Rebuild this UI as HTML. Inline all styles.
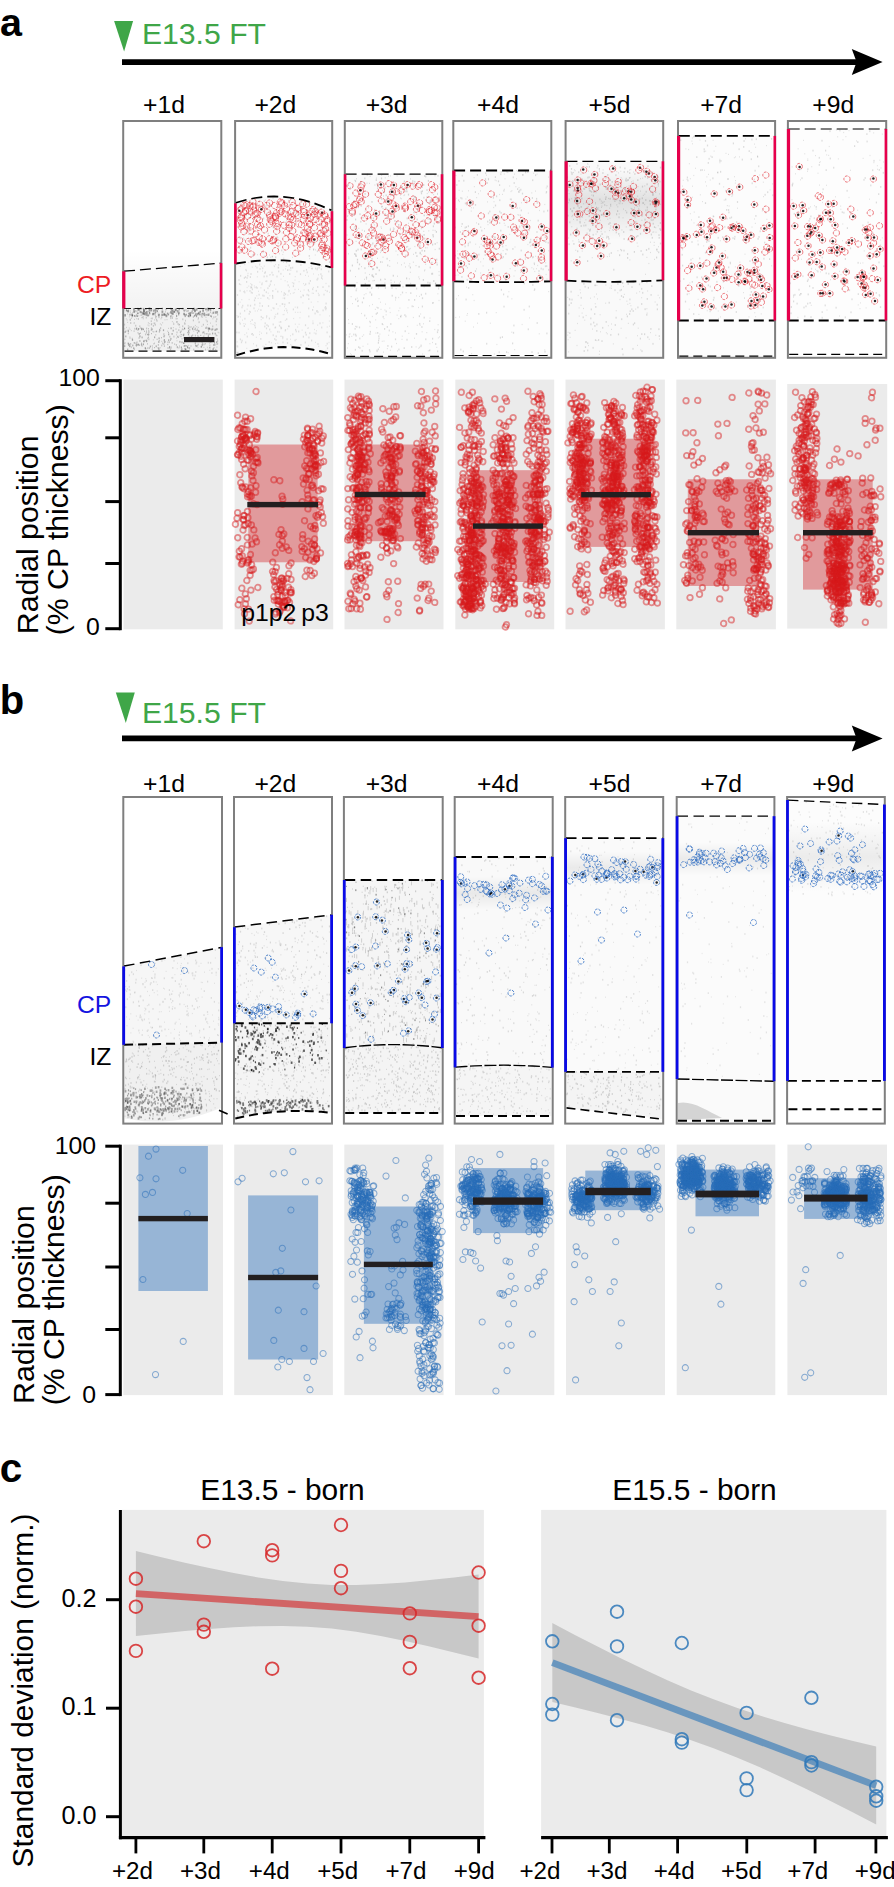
<!DOCTYPE html>
<html lang="en"><head><meta charset="utf-8"><title>Radial position of E13.5- and E15.5-born neurons</title>
<style>html,body{margin:0;padding:0;background:#fff}body{width:894px;height:1887px;overflow:hidden}svg{display:block}text{font-family:"Liberation Sans", sans-serif}polyline{fill:none;stroke:none}.pr{marker:url(#pr)}.pb{marker:url(#pb)}.cr{marker:url(#cr)}.cb{marker:url(#cb)}.bl{marker:url(#bl)}.s1{marker:url(#s1)}.s2{marker:url(#s2)}.s3{marker:url(#s3)}.s4{marker:url(#s4)}</style></head><body>
<svg width="894" height="1887" viewBox="0 0 894 1887">
<defs><linearGradient id="fadeA" x1="0" y1="0" x2="0" y2="1"><stop offset="0" stop-color="#000" stop-opacity="0"/><stop offset=".35" stop-color="#000" stop-opacity=".02"/><stop offset="1" stop-color="#000" stop-opacity=".05"/></linearGradient><linearGradient id="bandA" x1="0" y1="0" x2="0" y2="1"><stop offset="0" stop-color="#000" stop-opacity="0"/><stop offset=".45" stop-color="#000" stop-opacity=".1"/><stop offset="1" stop-color="#000" stop-opacity="0"/></linearGradient><linearGradient id="bandB" x1="0" y1="0" x2="0" y2="1"><stop offset="0" stop-color="#000" stop-opacity="0"/><stop offset=".5" stop-color="#000" stop-opacity=".065"/><stop offset="1" stop-color="#000" stop-opacity="0"/></linearGradient><marker id="pr" markerWidth="8" markerHeight="8" refX="4" refY="4" markerUnits="userSpaceOnUse" overflow="visible"><circle cx="4" cy="4" r="2.8" fill="none" stroke="#d7191c" stroke-opacity=".47" stroke-width="1.75"/></marker><marker id="pb" markerWidth="8" markerHeight="8" refX="4" refY="4" markerUnits="userSpaceOnUse" overflow="visible"><circle cx="4" cy="4" r="3.05" fill="none" stroke="#286eb9" stroke-opacity=".52" stroke-width="1.05"/></marker><marker id="cr" markerWidth="8" markerHeight="8" refX="4" refY="4" markerUnits="userSpaceOnUse" overflow="visible"><circle cx="4" cy="4" r="3.1" fill="none" stroke="#e0202a" stroke-opacity=".92" stroke-width=".68" stroke-dasharray="2.8 1.2"/></marker><marker id="cb" markerWidth="8" markerHeight="8" refX="4" refY="4" markerUnits="userSpaceOnUse" overflow="visible"><circle cx="4" cy="4" r="3" fill="none" stroke="#2767c0" stroke-opacity=".95" stroke-width=".8" stroke-dasharray="2.6 1.1"/></marker><marker id="bl" markerWidth="4" markerHeight="4" refX="2" refY="2" markerUnits="userSpaceOnUse" overflow="visible"><circle cx="2" cy="2" r="1.25" fill="#000" fill-opacity=".85"/></marker><marker id="s1" markerWidth="4" markerHeight="4" refX="2" refY="2" markerUnits="userSpaceOnUse" overflow="visible"><rect x="1.6" y="1.4" width=".8" height="1.2" fill="#000"/></marker><marker id="s2" markerWidth="4" markerHeight="4" refX="2" refY="2" markerUnits="userSpaceOnUse" overflow="visible"><rect x="1.4" y="1.1" width="1.2" height="1.8" fill="#000"/></marker><marker id="s3" markerWidth="4" markerHeight="4" refX="2" refY="2" markerUnits="userSpaceOnUse" overflow="visible"><rect x="1.1" y=".8" width="1.8" height="2.4" fill="#000"/></marker><marker id="s4" markerWidth="6" markerHeight="6" refX="3" refY="3" markerUnits="userSpaceOnUse" overflow="visible"><rect x="2.6" y=".8" width=".9" height="4.4" rx=".4" fill="#000"/></marker></defs>
<rect width="894" height="1887" fill="#fff"/>
<text x="0" y="36.4" font-size="39.5" font-weight="bold">a</text>
<path d="M114.1 21.1 h19 l-9 30.4z" fill="#3fa648"/>
<text x="141.9" y="44" font-size="30.2" fill="#3fa648">E13.5 FT</text>
<path d="M122 62.1 H858" stroke="#000" stroke-width="5.6" fill="none"/>
<path d="M882.6 62.1 L851.8 49.1 L856.6 62.1 L851.8 75.1z" fill="#000"/>
<text x="164" y="113.2" font-size="24.7" text-anchor="middle">+1d</text>
<text x="275.4" y="113.2" font-size="24.7" text-anchor="middle">+2d</text>
<text x="386.6" y="113.2" font-size="24.7" text-anchor="middle">+3d</text>
<text x="498" y="113.2" font-size="24.7" text-anchor="middle">+4d</text>
<text x="609.5" y="113.2" font-size="24.7" text-anchor="middle">+5d</text>
<text x="721.1" y="113.2" font-size="24.7" text-anchor="middle">+7d</text>
<text x="833.2" y="113.2" font-size="24.7" text-anchor="middle">+9d</text>
<g>
<rect x="122.2" y="120" width="100.1" height="238.8" fill="#fff"/>
<rect x="124.5" y="250" width="95.5" height="58.5" fill="url(#fadeA)"/>
<path d="M124.5 308.5L172.2 308.5L220 308.5L220 351.2L172.2 351.2L124.5 351.2z" fill="#000" fill-opacity="0.06"/>
<polyline class="s1" opacity="0.17" points="131.3,330.6 130,329.4 165.5,311.4 164.6,342.6 128.9,343.9 138.1,313.4 130.4,311 188.8,326.1 179.8,327.2 199.6,337.3 138.9,328.6 180.7,332.4 203.9,347.4 126.6,327.5 136.7,318.7 206.8,311.8 206.1,320 138.8,315.8 149.3,308.7 161.6,324.9 184.4,311.1 144.2,315.2 129.5,308.5 134.1,323.5 207.1,333.8 148.3,322.8 168.5,328.4 134.2,322.6 202.8,315.2 214.4,330.3 149.2,323.6 201.8,339 173.4,323.1 127.1,320 189.9,347.9 159,317.6 209.6,343.1 186.2,341.4 195.4,328.2 216.3,324.8 214,338.4 217.1,335.6 176.3,313.9 202.6,317.2 149,325.8 210.5,323.1 179.6,345.8 174,309.3 177,340.8 177.4,318.7 196.3,346.1 207.3,347.3 137.5,313.5 131.4,318.4 145.3,347.7 156.5,316.6 166.1,309.2 183.5,329.6 134.4,319.4 198.1,319.6 178.4,337.4 129.9,336.9 130.8,344 147,313 129.3,316.8 153.3,339.8 171.8,315.8 126.2,318.8 193.8,331.2 169.4,347 201.9,326.3 189.5,349 162.7,322.8 148.7,315.2 151.1,318.5 167.9,315 153.8,323.2 143.5,329.3 149.5,312.2 128.4,309.4 207.6,324.5 189,337.1 127.4,314 148.3,311.6 216.7,328.9 182.8,335 153.3,331.9 189.9,336.3 173.3,327.6 135.7,345.3 216.9,347.1 167,319.6 208.3,337.5 209.3,328.5 124.8,328.8 153,314.3 154.4,343.1 195.4,343.1 151.9,323.8 218.9,332.8 165,319.8 134.1,342.9 212.9,318.8 172.8,316.3 176.4,338.1 185.4,320.3 212.1,313.7 152.9,331.5 140.3,315.2 210.1,329 210.1,349.6 137.7,316.4 156.8,312.3 195.3,325.5 174,324 206,317.4 148,325 148,313 167.7,331.2 185.5,321 179.6,324.5 181.3,308.9 208,328.1 153.5,309.4 188.2,325.8 187.6,346.6 127.7,322.4 194.3,329.3 152.4,347.7 142.2,317.7 187.4,347.6 137.9,310.6 160.3,323.9 140.5,308.6 157.7,347.9 215.6,317 202.1,342.4 129.2,328 211.4,316.5 209.3,309.7 201.2,340.1 154.4,319.9 213.6,309.5 161,318.8 171.1,346.7 197.5,333.5 147.9,311.2 208,349.2 132.4,312.5 191.6,326.9 136,343.1 143.3,318.7 186.2,349.3 210.9,310.2 179.6,346.8 206.3,327 198,347.5 180.8,334 159.3,314.3 143.7,309 188.6,316.1 130.5,312.7 176.5,334.8 140,337.2 154,331.8 164.5,342.3 207.9,327.5 159.5,329.3 215.9,316.6 213.6,348.7 129.5,346.7 139.6,340.9 141.8,317.5 173.4,324.3 128.1,343 164.7,335.6 198.2,327.4 169.2,312.9 165.2,312.3 160.2,347.7 139.5,345.4 211.4,317.1 172.3,321.6 188.7,345.4 161.8,341.4 218.1,332.3 196.8,326.7 179.9,335.8 124.7,309.9 209.1,313.9 186.2,309.4 158,312.9"/>
<polyline class="s2" opacity="0.17" points="155.1,314.7 145.6,334.4 179,324.8 201.6,315.9 184.9,323.8 178.8,330.1 193.4,320.4 135.7,325.7 187.6,340 207.2,321.4 187.3,311 185.7,349.4 151.4,324.4 135.6,310.9 176.4,344.9 158.4,344.9 146.6,328.5 159.4,331.8 189.8,329.7 188.4,310.7 198.2,344.5 136.1,343.5 175.8,309.6 217,344.1 197.4,330.4 155.7,317.7 217.6,343.6 213,349.2 143.1,316.9 186.9,346 199.1,322.2 136.5,314.7 200.7,314.5 216.2,335.3 212.7,326.4 152.2,318.4 211.2,329.2 141.8,308.7 140.8,328 177.1,321.9 197.5,329.4 182.4,329.3 190,327.1 169.7,347.3 177.4,347.4 187.8,340.8 139.1,338 138,344.9 170.5,349.3 139.8,326.3 192.7,309.3 217.6,341 164.4,346.1 148.9,314.7 131.3,347.2 200.3,312 156.5,331.3 149.8,313.8 203.4,324.7 203.2,337.6 136.8,311.4 204,344.4 149.4,348.1 176.2,318.6 160.6,328.1 146.5,332.6 195.4,335.6 217.6,314.7 185.3,310.3 208.8,334.3 201.3,314.2 172.2,342.9 202.6,332.6 134.4,342.9 183.8,334.3 170.7,308.6 195.2,329.2 186.8,311.2 193.4,317 169.8,336.7 138.4,319 130.2,319.6 167.9,342.3 213.9,317.2 137.9,330.1 137,342.3 212,337.9 214.9,344.9 184.1,346.1 193.7,327.1 157,320.8 216.8,319.2 148.9,332 130.4,319.9 136.4,329.2 214.6,343.5 126.6,309.8 209.1,328 124.5,324.6 202.5,343.7 173.9,336.6 192.7,335.2 198.4,318.1 148.3,334.7 135.1,311.4 168,348 147.8,348.1 189,316.7 216.2,321.3 146.3,317.6 161.7,317.3 161.7,345.5 193.7,349.6 155.6,316.1 195,309.8 127.8,311.1 148.8,339.3 156.5,319.7 182.8,319.3 195.9,346.3 169.4,347.9 200.3,338.9 154.7,323.4 132,316.6 176.7,321.9 163.9,334.1 195.2,343.4 178.1,323.9 139,344.9 155.3,324.8 172.4,318 169.4,342.2 135.8,316.3 148.6,333.2 143.7,341.3 151.3,321.2 163.9,344.1 158.9,316.6 143.7,308.7 125.9,331.2 210.5,312.2 151.3,330 134.8,328.7 209.9,334.1 162.7,343.4 147.8,338.4 128.4,331.7 181.2,331.2 153.4,325.8 165.9,309.5 170.8,318.2 172.7,310.2 132.3,338.7 172.8,310.7 205.5,349.5 201.5,316.5 171,347.9 140.1,341 130.7,323 201.6,314.4 141.7,315.1 198.7,313.2 184.6,323.3 177,332.4 134.4,349.4 194.8,310.5 148.5,334.8 182.7,326.3"/>
<polyline class="s2" opacity="0.33" points="143.8,313.5 137.2,316 206.8,314.8 148,315.7 174.7,311.7 130,314.7 176.6,316 185.1,315 153.7,310.9 168.5,314.4 145.9,309.3 149.6,312.9 199,312.7 185.2,316.2 207.7,308.6 190.4,315.4 193,313.1 144.5,313.5 210.6,309.7 134.6,315.9 137.9,308.7 210.9,316.1 143.9,309.4 202.5,313.6 143.9,311.1 126.5,310.6 192.1,311.4 182.9,308.7 165.7,314.7 191.1,312.8 140.6,308.5 196.5,316.3 141.9,312.5 198.9,313.5 132.6,315.6 157.4,311.1 179.2,309.5 208.1,310.4 139.1,309.7 155.4,312.7 199.6,314.4 143,313.6 144,311.6 171.8,313.6 137.9,313.3 194.5,315.8 178.7,314.5 188.7,313.6 154.1,313.5 184,310.5 167.5,313.5 188.3,315.9 186.3,314.7 170.8,316.3 213.4,312.7 144.4,314 158.1,309 162.3,308.6 164.2,314.1 213.3,312.7 200.2,311.6"/>
<polyline class="s3" opacity="0.33" points="145.7,313.2 138.6,309.3 149.5,308.6 177.6,311.3 166.4,316 143.4,313.4 208.5,314.8 125.1,315.3 128.2,311.2 190.2,315.3 146.8,314.5 195,311.1 155.5,310.4 184.1,314 217,312.3 190,313.6 194.1,309 158.8,315 208.7,309 204.6,315 133.9,309.3 215.6,312.5 206,309.2 170.9,312.4 203.1,310.6 151.3,310.2 171.6,309.4 132.1,314.8 162.4,311.7 144,310.6 171.9,311.5 146.6,312.2 195.8,314.5 204.2,313.8 140.5,312 153,314.1 155.5,310 193.4,309.3 134.1,311.6 162.2,314.8 146.1,314.3 197.6,314.1 164.2,314.8 175.8,309.8 178.8,312.8 172.9,313.6 173.8,311.8 196.6,309.5 149.6,310.3"/>
<polyline class="s1" opacity="0.28" points="145.9,348.9 136.3,346.1 204.9,333.8 148.5,337.2 124.8,343.7 147.6,334.5 184.3,328.3 214.4,342.2 134.1,331.1 197.9,335.5 209.9,345.2 174.7,344.1 207.9,340 146.6,331 130,338.1 203.9,336.1 189,348.2 217.3,339.1 197.3,332.6 152.2,346 155.8,334.9 176,329.1 167.8,344.6 210.9,342.2 148.9,334.6 178.9,347.9 213.1,349.3 144.6,331.3 125,342.8 147.4,343.9 205.3,343.8 183.9,343.4 192.3,328.2 186,345.7 153.9,343.8 205.9,338.6 159.2,340.5 191,346 181.3,334.7 151.3,328 189.2,347.8 168.5,332.5 195.5,345.2 208.1,339.3 180.2,332.1 141.6,343.2 157.1,339.3 170.5,340.3 148.5,328.8 141.6,329.8 177.2,346.9 214,347.7 181,336.6 161.6,337.7 215.8,349.5 128.2,333.6 185.6,349.4 196.1,330.3 148.8,330.7 140.4,333.2 208.5,331 183.9,337.8 138,332.8 191.9,340 206.8,333.8 156.1,331.6 154.6,347.6 187.7,332.6 151.5,333.6 211.9,330.1 152.2,349.2 200.8,335.4 145.1,340.4 143.1,329.7 182,338.8 201.2,340.6 130.7,343.9 169.5,346.9 142.1,346 124.9,339.3 201.7,346.8"/>
<polyline class="s2" opacity="0.28" points="136.7,344.9 184.4,338.2 184.9,345.8 168.7,334.4 165,341.8 158.7,348.2 129.9,346 198.6,331 208.7,341.2 187.7,347.4 203.8,332.3 170.9,338.8 206,328.1 168.7,340.2 215.3,329.6 184.6,328.6 209.3,328.7 183.6,335.3 159.1,338.3 164.4,340 172.1,333.9 216.6,342.2 179.9,341.8 128.3,343.7 125.1,332.1 182,342.3 210.5,341.3 183.7,343.1 188.9,332.6 141.6,328.8 202.2,345.1 154.6,337.3 212.7,329.2 128.2,330.6 125.8,336.4 163.5,330.2 215.8,329.9 136.7,328.4 129.2,344.8 212.6,333.5 188.5,331.1 158.8,342 164,336.4 213.8,345 152.1,329.3 181.8,349.2 208.4,336.2 181.4,347.4 164.4,340.7 208.4,328.9 201.2,346.8 150.4,346.5 132.5,340 143.4,344.3 146.6,341.2 132.8,345.5 146.5,340.6 177.8,336.7 138.6,329 159.8,330.3 198.9,331.4 127.7,349.5 198.1,337.2 197,345.8 215.2,333.6 185,348.8 209.8,347.6 128.9,345.1 138.2,344.4 188.5,334.5 188.5,328.3 142.9,328.8 145.3,348.3 133.7,348.2 202.3,338.4 139.2,333.9 217,329.2 158.9,349.5 209.2,329.2 124.7,346.1 142.1,337.4 141.5,344.7 144,341.3 192.7,329.2 156.2,346.3 171.1,328.3 139.9,336.1 173.2,330.6 191.7,336.3"/>
<rect x="123.2" y="121" width="98.1" height="236.8" fill="none" stroke="#7f7f7f" stroke-width="2.0"/>
<path d="M124 271.2L220.5 263.2" stroke="#000" stroke-width="1.3" stroke-dasharray="11 5" fill="none"/>
<path d="M124 308.5L220.5 308.5" stroke="#000" stroke-width="0.9" stroke-dasharray="7 3.5" fill="none"/>
<path d="M124.5 351.2L220 351.2" stroke="#000" stroke-width="1.2" stroke-dasharray="9 5" fill="none"/>
<rect x="122.2" y="271.3" width="3.2" height="37.2" fill="#e6004c"/>
<rect x="219.7" y="263.1" width="2.6" height="45.4" fill="#e6004c"/>
</g>
<g>
<rect x="234.1" y="120" width="99.1" height="238.8" fill="#fff"/>
<path d="M236.4 202.5L244.3 200.3L252.2 198.5L260 197.3L267.9 196.6L275.8 196.4L283.6 196.8L291.5 197.7L299.4 199.1L307.3 201.1L315.1 203.5L323 206.5L330.9 210.1L330.9 267.3L323 265.5L315.1 263.9L307.3 262.6L299.4 261.6L291.5 260.9L283.6 260.4L275.8 260.2L267.9 260.3L260 260.7L252.2 261.3L244.3 262.2L236.4 263.4z" fill="#000" fill-opacity="0.02"/>
<path d="M236.4 263.4L244.3 262.2L252.2 261.3L260 260.7L267.9 260.3L275.8 260.2L283.6 260.4L291.5 260.9L299.4 261.6L307.3 262.6L315.1 263.9L323 265.5L330.9 267.3L330.9 354.1L323 351.9L315.1 350.1L307.3 348.7L299.4 347.8L291.5 347.2L283.6 347.1L275.8 347.4L267.9 348.1L260 349.3L252.2 350.8L244.3 352.8L236.4 355.2z" fill="#000" fill-opacity="0.025"/>
<polyline class="s1" opacity="0.1" points="257.3,276.8 259.8,331.9 245.4,324.2 285.3,320.3 317.7,325.1 262.5,271.1 309,291.5 326,345.6 275.9,314.4 286,266.4 283.6,262.2 261.2,319.6 259.8,306 325.3,290.4 325.8,309.8 280,305.9 248,273.4 274.4,284.9 255.2,323.3 287.6,312.7 265.4,281.3 258.7,309.3 263,346.2 308.6,276.2 317.9,301.7 305.5,275.4 293.2,293.2 279.2,322.1 272.9,307.9 283.1,298.2 326,283.5 321.5,266.1 285.5,268.9 318.7,346.3 313.6,307 329,342.5 283.6,276.4 295.3,312.3 329.3,321.1 274.9,327.8 301,262.1 329.6,315.9 246.4,270.8 311.8,268.6 269.5,274.9 269,299.1 281.7,328 252.6,292.8 247.1,309.2 274.1,265.8 313.6,293.4 254.3,286 239.7,322.5 251,323.7 261.6,333.2 271.6,342.7 325.3,308.9 256.3,337.3 284.4,306.6 289.5,287.1 266.4,317.7 264.2,266.1 248.8,286.1 299.9,317.8 259.6,334.5 295.2,276.6 240.2,266.4 254.9,287.6 303.4,283.6 300.4,291.3 314.4,329.5 240.8,284.6 248.3,329.2 302.1,330.1 287.3,281.8 269.9,295.7 299.1,281.7 249.7,311.3 247.1,287.5 255.7,266.3 254.8,322.6 247,290.7 270.3,274.7 289.1,269.9 259.9,282.1 315.5,342.4 270.9,331.8 324.8,307.9 243.9,323.6 277.8,343.2 240.1,302.2 316.4,330.8 275.8,289.2 251.8,287.4 289.1,290.3 244.4,291 271.2,310.2 286,308.6 257.6,310.9 284.4,310.5 274.6,266.5 289,326.5 309,267.7 313.6,274 240.5,316.9 287.7,328.9 322.9,322.8 290.8,270.4 246.7,333 325.1,267.1 311.2,266.2 312.9,321 243.5,291.7 320,314.8 252.3,293.1 290.4,293.7 237,315.6 325.9,350.5 284,314.5 287.9,295.1 281.4,291.7 258.4,291.3 237.1,341.9 278.1,308.9 252.2,267.1 290.9,267.6 290.7,344.6 262.2,282.9 256.8,295.8 318.3,293.4 296.2,339.5 274.3,318.5 241.8,299.6 295,289.5 292.3,282.7 304.1,290 244.8,334.6 297.9,312.4 307.8,328.3 308.6,345.5 248.7,262.5 297.7,327 244.8,264.6 253.4,343.8 322.6,279.1 283.1,314.6 311.2,302.2 242.5,320.1 295,280.1 260.9,298.4 264.3,346.6 313.3,287.5 281.8,336.3 300.2,312.3 290.6,335.7 329.4,292.3 246.8,348.4 258.1,298.4 238.3,352.3 318.5,274.8 249.1,299.5 283.2,270 282.8,338.7 304.8,285.4 261.1,266.6 303.5,295.9 275.6,343.6 272.4,295.5 271.6,280.9 265.9,344.4 291.8,345.3 295.3,324.2 293.7,318.5 295.2,307.2 281,279.2 285.7,329.7 252.5,333.6 317.5,268 314.2,333 250.8,283.6 278.7,267.8 329.6,326.2 250.4,321.5 285.1,280.7 268.2,293.2 255.2,311 253.1,324.4 294.2,292.6 312.2,293.2 290.5,339.3 327.2,327 298.6,289.4 238.8,316.3 279.6,332 280.7,336.3 299.1,324.3 308.3,327.9 302.9,302.9 237,352.5 260.9,287.8 275.7,264.6"/>
<polyline class="s2" opacity="0.1" points="242.1,340.6 282.7,304.1 286.6,262.3 238.1,317.1 247.9,305.5 249.2,313.9 250.2,312.1 251.8,334.1 272.7,296.3 285.5,294.2 267.7,297.9 311.6,340.5 315.7,268.5 327.1,332.4 295.6,329.8 319.1,267.6 287.1,339.2 296.9,271.5 244.6,310.8 293.4,309.4 284.3,293.1 237.5,295 272.7,298 246.6,281.9 269.4,318.5 315.9,333.6 305.5,325.2 280.8,327.3 321.9,276 236.8,332.4 283,342.4 275.5,327.4 266.5,328.4 264.8,273 290.8,268.3 266.7,333.2 289.2,302.9 308.7,308.4 284.8,304.5 272.8,290.9 269.2,342 273.9,308.4 277.6,313.7 268.5,306 252.4,289.3 320,323.3 251,287 315.1,313.5 254.8,304.7 261.3,316.8 247.8,275.7 285.3,330.5 308.4,290.1 245.7,342.4 241.5,342.3 326.1,303.5 259.7,264.5 316.3,290.8 312.7,289.2 326.2,308.3 259.1,294.7 257.1,287.9 327.2,291.2 277.8,331.8 251.3,292.5 278.7,271.4 260.8,338.9 270.8,281.4 308.6,295.4 244.4,278 288.9,291.4 257.6,271.8 262.8,295.5 308.9,337.5 275,316.7 321.7,327.5 240.1,290.7 253.2,335 240.4,339.4 310.4,280.9 306.5,269.8 273.2,324.4 262.7,268.3 276,339.9 305.5,332.6 278.7,264.9 276.5,304.1 287.5,343 265.4,272.2 284.6,298.3 269.3,286.1 312.6,309.9 252.2,320 279.5,325.7 237.4,352.7 244.3,326.1 277,276.5 237.2,346.2 295.1,340.4 239,332.6 264.1,276.5 309.8,333.2 266.9,276.3 266.3,292.2 240.3,313.6 313,323.3 251.1,287.8 304,262.4 262.9,317.9 298.7,331.5 327.2,343.7 327.5,348.3 312.2,268.5 293.4,286.2 325.5,306.9 264.4,290.2 239,280 278.2,267.5 247.1,277.9 287.6,270.1 260.1,268.9 259.9,303.3 317.1,310.9 307.2,272.3 303.9,270.8 273,274.9 271.2,261.5 256.3,287.2 276.2,336.3 317.9,312.1 317.8,278.6 268.3,326.2 305.3,342.5 254.5,300.3 288.2,285.3 272,272.6 286.7,319.2 250.5,305.7 280.9,273.8 273.2,335.2 238.3,304.4 240.6,275.8 261.9,284.3 260.9,310.1 288.8,326.2 308.8,316.4 270.3,284.5 318,344 264.8,326.5 267.9,288.2 265.2,323.3 324,294.6 308.8,299.1 242.7,305.7 251.8,284.9 292.8,334.3 254.8,325.4 292.6,267.7 254,308.3 267,325.1 237.7,346.6 328.7,271.5 251,274 286.8,310.6 305.7,284.2 262.4,306 328.9,286.3 242,307.4 250.4,277.1 309.2,283.4 320.9,274.2 317.2,269.4 274.7,339 255.4,327.5 289.7,274 317.7,287 319,295.2 317.1,279.7 321.6,278 245.5,277.1 244.8,292.4 303.4,336.7 239.5,284 300.9,265 300.5,274.2 256.5,345.6 284,295.2 270.3,261.1 297.5,307.5 300.9,344.9 329.7,267.5 323,287.1 247.3,336.6 321.3,269.3 266.7,316.2 306.2,334.7 303,295.3 293.7,283.5 280.7,321.9 323.1,310.4 296.3,331.4 269.7,329.5 281.1,328.4 266.7,281.2 244.9,318.7 255.3,298.1 277.8,291.6 264,295.8 307.1,294.7 282.8,337.2 282.3,304 240.2,323.8 257,267.6 245.9,269.8 289.2,265.4 301,297.2 329.7,336.6 250,291 316.7,311.3"/>
<polyline class="s1" opacity="0.12" points="260.4,209.7 286.6,220.2 282.1,233 288.4,200.4 278,251.1 277,236.3 299.5,217.1 255.7,204.1 309.7,258.5 300.5,208.8 266.2,231.5 273,198.5 276.6,238.7 282.8,254.5 287,202.6 257.6,254.7 292.4,257.4 324.7,244.7 267.5,224.6 292.1,226.2 248.7,234.4 271.4,237.7 252.3,256.2 315.2,255 247.4,228 286.5,228.5 254.9,222.9 283.3,252.1 289.7,240 306.5,210.1 263.7,252.2 309.7,244.2 279.6,253.8 324.3,230.6 299.9,208.4 249.5,211.1 310.4,230.6 315.5,249.9 303.5,221.2 311.4,237.4 258.1,209.8 300.5,242.6 324.4,254.3 310.5,202.3 275.5,234.1 267.8,209.9 315.4,240 247.7,241 313.3,213.8 325.9,228.4 283.8,258.2 278.9,246.9 317,234.3 243.5,238.1 299.7,254.5 270.4,257.3 304.5,245.6 290.3,200.4 306.3,239.4 311.7,242.6 313.6,249.9 251.6,243.8 265.6,200.1 254.9,217.8 246.5,215.5 272.4,256.4 255.5,253.9 306.8,217.5 322.2,236.7 269.5,255 306.9,241.7 311.9,209.1"/>
<polyline class="s2" opacity="0.12" points="317.4,251.2 311.3,214.2 286.2,222.4 266.7,213.7 263.7,241 291.8,225.8 317.1,208.4 253.2,254.9 311.3,231.9 314.8,212 298,214.6 301.4,202.1 263.9,211.3 321.7,224.7 250.6,247.7 296.3,212.2 245.2,228.2 313.9,210.3 329.5,262.1 263.6,218.5 281.7,250.4 261.8,252.4 305.8,211.4 264.3,201.2 245.3,233.4 284.4,202.9 250.3,204.6 247.3,229.7 248.3,213.9 324.6,235.1 239.3,225.2 290.5,212 259.4,234.4 240.3,238.4 312.6,222.9 244.6,215 267.4,257.3 309.3,255.9 295.9,210.6 326.7,246.2 249,249.7 321,248.8 313.6,249.4 264.4,256.5 324.8,213.9 310,216.9 258.5,227.9 309.7,249.2 244.5,239.7 268.2,233.6 237.9,208.6 244.6,216.6 277.7,237.6 319.6,240.6 273.3,227.5 314.1,212.7 236.4,212.9 269.3,202.8 323.2,257.9 326,228.4 295.5,221.4 314.5,243.6 278.3,243.2 266.8,205.2 319.7,213.6 307.7,218.6 275.7,257.3 326.4,248.3 262.3,207.1 249.5,230.5 272.2,256.7 253.9,217.2 314.7,240.9 265.8,206.2 280.4,231.3 295.3,214.3 240.3,250.9 259.2,201.7"/>
<polyline class="bl" points="314.2,239.5 239.3,210.8 307.7,214.9 322.1,212.7 309,239.6 261.4,209.3"/>
<polyline class="cr" points="296.5,239.8 269.6,224.3 286.5,232.3 283.8,225.3 309.2,236.3 305.2,233.2 292.8,230.9 310.4,244 239.7,240.2 288.5,216 258.7,242.3 241.9,246.9 291.2,216.8 327.5,250.8 281.7,203.8 269.6,215.2 285.1,213.8 289,224.8 303.3,238.8 327.1,219.5 253,206.6 241.3,227 251.2,254 280.4,201.8 294.7,242.9 248.6,241.4 295.7,253.2 281.1,211.7 300.6,248.1 259.6,208.3 242.8,226 258.8,227.5 253,205.8 255.9,213.7 239.6,250 274.5,205.5 279.9,213.3 325.8,250.4 314.5,214.4 293.1,205.4 275.5,216.5 302.8,203.8 270.2,217.1 321.9,249.8 241.3,208.9 309.7,224.4 324.9,215 275.5,217.7 255,214.7 261.4,243 291.7,225 245.3,205.8 325.2,253.5 300.4,244.2 313.1,209.5 298.8,223.9 297.9,208.5 259.2,237.2 264.6,229.9 273.4,218.1 298.1,208.2 247.7,216.3 249.9,205.6 245.7,211.5 315.3,211.4 315.9,219.6 279.5,210.2 326.5,256.9 241.6,223.1 292.9,219.4 315.3,236.2 319.2,213.9 291,236.5 327.9,233.3 241.4,216.9 289.1,228.2 317.9,215.2 275.6,250.6 244,205.1 276.6,212.7 249.7,211.1 324.6,224.2 285.8,238.9 240.3,217.8 324.2,239.5 319.1,221.8 250.7,226.9 246.3,226.2 278.1,243 272.1,240.9 314.6,239.3 239.7,210.3 325.2,216.5 281.8,202.4 303.9,232.6 243.9,212.6 309.9,223.8 259.9,204.3 291,211.7 286.6,209 257.5,224.3 307.7,215.3 321.9,235.7 308,232 267.6,212.3 321.5,212.2 250.8,231 307.6,228.2 243.9,231.7 253.9,240.5 277.1,226.6 262.4,244.2 304.4,215.5 327.1,221.1 269.6,203 240.3,220.3 314.5,227.7 259.5,220.2 297.5,237.8 312,211.3 322.4,243.8 308.6,240 245.7,210.9 310.4,235.5 267,205.3 298.3,215.6 250.4,220.6 285.7,247 310.4,218.2 257.3,213.4 252.1,241 306.6,204.2 284.6,205.5 276.6,231.3 260.4,225.6 257.3,218.2 263.5,254.3 247,204.7 295.9,213.3 253.7,210.2 278.3,223.6 301.5,224.6 252.9,201.6 320.8,233.1 304.5,211.5 269.5,238.7 241.8,218 270.4,219.8 273.7,239.5 271.5,221.6 320,233.7 292.2,201.7 255.4,234.1 325.7,229 244.6,250.2 290.3,218.6 322.9,247.6 273.3,240.6 276,223.1 324,231 309.1,238.6 262.6,238.8 321.7,245.4 308.2,220.8 303.7,211.6 303.3,220 322.9,224.4 274.9,216.3 326.9,248.3 261.4,209.4"/>
<rect x="235.1" y="121" width="97.1" height="236.8" fill="none" stroke="#7f7f7f" stroke-width="2.0"/>
<path d="M235.9 202.7L245.4 200L255 198L264.6 196.8L274.1 196.4L283.6 196.8L293.2 198L302.8 199.9L312.3 202.6L321.8 206.1L331.4 210.3" stroke="#000" stroke-width="1.7" stroke-dasharray="11 5" fill="none"/>
<path d="M235.9 263.5L245.4 262.1L255 261L264.6 260.4L274.1 260.2L283.6 260.4L293.2 261L302.8 262L312.3 263.4L321.8 265.2L331.4 267.4" stroke="#000" stroke-width="1.8" stroke-dasharray="10 5" fill="none"/>
<path d="M236.4 355.2L245.8 352.4L255.3 350.2L264.8 348.5L274.2 347.5L283.6 347.1L293.1 347.3L302.5 348.1L312 349.5L321.4 351.5L330.9 354.1" stroke="#000" stroke-width="2.0" stroke-dasharray="9 5" fill="none"/>
<rect x="234.1" y="203.3" width="2.6" height="60.5" fill="#e6004c"/>
<rect x="330.6" y="211.2" width="2.6" height="56.7" fill="#e6004c"/>
</g>
<g>
<rect x="343.8" y="120" width="99.5" height="238.8" fill="#fff"/>
<path d="M346.1 174.2L393.6 174.2L441 174.2L441 285.6L393.6 285.6L346.1 285.6z" fill="#000" fill-opacity="0.02"/>
<path d="M346.1 285.6L393.6 285.6L441 285.6L441 356.5L393.6 356.5L346.1 356.5z" fill="#000" fill-opacity="0.012"/>
<polyline class="s1" opacity="0.14" points="413.6,254.3 433.7,194.6 422.6,187.4 393.1,211.2 369.6,274.5 426.4,222.9 416,199.7 384.1,192.6 390.3,228.4 382.3,234.4 348.8,196.7 435.1,249.5 427.1,247.8 369,281.1 347,235 346.3,179.6 401.5,264.8 355.6,276.6 428.8,230.9 356.5,256.2 404.6,246 414.3,234.8 430.6,202.2 400,235.8 397.1,175.9 368.8,264.8 354.8,226.7 377.6,258.3 409,265.9 363.1,181.8 434,201.1 412.4,221.3 351.6,229.9 386.8,246.9 430.9,174.6 383.5,196 410.7,283.4 371.1,247.9 383.7,249.9 439.1,275.3 393.3,227.9 390.6,189.7 400.4,281.5 413.3,262.2 380.5,252.5 437.9,222.3 413.4,186.9 409.2,174.6 364.6,231.2 401.3,198.7 393.3,229.6 419.4,231.1 433,230.3 366.1,223.9 415,197 405.7,250.4 351.8,213.8 436.9,262.6 415.3,227.8 387.3,220.5 437.6,194.4 370.1,176.4 381.7,175.4 404.7,194.9 409.4,241.3 376.3,178.2 357.6,197.6 357,282.6 391.1,282.7 382.5,262.1 370.5,256.9 439.3,184.2 366.1,174.4 354.6,214.7 394.6,282.1 394,228.5 399,205.4 435.8,214.8 407.7,232.7 376.9,267.1 385.3,279.4 408.5,223.3 368,261 410.2,248.5 390.5,195.9 406.7,250.5 362.2,230.2 397.8,188.9 404,189 419.3,237 416.8,214.2 356.1,241.4 371.2,267.2 423.8,231.4 365.2,273 348.5,211.2 352.9,242.8 361.1,206.4 414.9,199.2 389.7,260.6 364.6,279.3 416,265.6 411.4,217.7 366.5,279.1 394,229.3 379.6,197.2 414.9,246.5 364.7,253.6 422.4,184.6 405.8,227.2 400.4,198.1 346.3,262 409.8,263.8 409.3,278.9 382.5,190.6 400.3,195.1 399.6,233.3 381,226.9 406.5,250.2 397.8,254.8 424.9,269.9 369.4,183.4 354.2,228 374.3,224.9 420.1,253.6 367.1,175.1 439.6,197.2 383,208.5 435.1,230.5 390.8,193.8 405.4,266.9 407.8,246.5 373,261.1 397.4,263 348.5,253.8 374.3,280.5 383,257.2 356.4,178.8 428.2,196.5 417.7,204.6 385.2,177.9 347.9,215.5 390.5,175.9 367,183.2 364.4,231.1 423.2,220 368.7,266.5 401.3,253.4 392.8,194.7 372.5,238.6 371.9,244.8 421.3,228.7 413.7,215.3 422.1,235.5 427.2,193.5 404,195.5 410.6,178.9 436.3,217.2 389.8,266.4 424.4,270.8 420,226.4 425.4,247.8 360.7,236.6 377.7,185.5 377,267.5 371.2,217.6 387,216 427,215.4 436.3,199.3 400.7,229.6 373,280.8 439,271.6 371.1,218.1 422.4,236.5 433.2,215 419.1,223.2 417.4,209.1 404.3,263.1 410.3,272.3 358.8,228.4 435.3,283.7 420.6,243.6 437.4,193.4 388.6,176.2 384.8,279.1 368.4,207.7 365.1,211.1 354.9,180.3 347.3,216.3 381.4,228.3 399.3,283.2 437.1,242.7 435,175.7 368.5,216.1 419.3,278.8 394.6,216.6 418.8,277 361.4,266.6 397.5,276.2 377,191.3 374.9,185 361.1,185.9 428.7,192 428.1,219.2 349,211.6 396,251.1 382.3,206.4 415.5,197.7 427.1,202.4 429.9,215.5 373.1,223.2 391,280.2 384.9,283.1 425.7,264.3 390.1,219.4 421.2,254.5 437.9,198.5"/>
<polyline class="s2" opacity="0.14" points="433.4,226.3 431.2,241.6 418.5,243.5 431.9,262.7 423.4,279.9 361.2,249.4 380.6,235.1 401.4,192 380.6,279.7 359.3,238.2 372.8,243.4 435.2,243.9 402.9,207.2 393.8,187.2 408.9,249.4 439.3,248.7 437.1,208.6 346.9,219.9 365.1,193.9 436.8,218.7 352.4,265.5 360,214.2 435.6,283.4 361,190.6 421.3,191.8 385.8,200.2 393.3,275.7 377.2,184 385.9,208.1 374.8,209.8 350.4,187.7 407,191.4 355.7,255.8 394,192.7 360.7,181.9 409,228.7 373.5,276.8 358,249.6 376.3,180.1 414,212.4 354.7,254 405.9,191.3 379.3,270.3 376,274.1 427.3,238.8 406.6,278.4 377.8,215.3 408.5,194.6 372,258.8 373.4,218.4 423,227.2 374.9,213.7 419.8,246.1 436.4,231.9 377.7,186.1 371.4,227.7 430.2,267.5 372.5,275.5 377.2,267.8 386.2,195.3 381.3,187.3 387.4,217.9 417.6,210.8 364.9,268.2 368,238.6 406.6,240.4 385.2,214.1 426.5,201 381.5,178.4 422.2,203.8 381.8,199.2 419.1,266.8 393.8,206 427,197.2 379.7,211.1 383.9,192 424.2,215.4 348.8,198.3 406.6,189.2 409.8,234.2 387.7,265.4 437.2,264.6 433.8,281 429.7,222.6 410.7,232.7 432.5,273.7 439,222.6 372.5,276 433,234.9 427,190 416.9,256.1 395.4,191.1 390.4,229.9 424.1,234.9 404.9,188 373.5,269 355.6,219.5 360.1,198.5 396.6,222.5 424.7,176 364.8,178.4 419.4,207.9 367.5,237.2 356.3,250.8 417.2,219.5 387.1,258.7 429.8,219 398.7,224.9 369.1,235.5 353.6,214.7 438,175.7 358.4,207.2 414.5,196.7 387.6,209.9 377.7,188.3 414.8,181.7 363,217.6 385.1,187.6 387,199.3 376.3,245.2 394.9,220.9 430.4,200.4 432.1,207.5 412.8,181.1 356.4,207.3 415.8,184.9 384.4,239.9 355.5,181.2 356.9,230.1 429.9,204.3 429.9,283 370.2,263.7 365.3,283.8 413.1,184.7 355.9,226.5 381.3,250.7 407.2,218.4 394.5,194.9 436.7,259.6 415.8,252.8 380.7,262 413.4,198.8 348.4,185.1 425.7,176.5 422.1,250.6 422.4,191.2 412.6,237.2 405.1,240.1 377.4,251.8 406.7,247 425.9,259.9 383.2,245.2 376.4,240.9 424.6,250.9 424.7,238.6 404.4,181.4 355.7,254.6 402.3,186.9 427.9,282.6 350.4,270.7 372.1,275.3 430.2,201.4 381.7,206.7 404,210.7 433.3,236.5 389.3,234.9 405.7,232.8 428.4,180.8 349,245.4 412.3,232.3 376.7,238.7 421.5,193.4 371.5,228.4 374.6,251.2 357.5,262.3 359.5,264.4 366.5,277.5 367.6,174.3 423.7,184.9 418.7,243.8 438.6,210.2 432.6,208.7 410.4,267.5 372,201.9 358.8,268.7 368.9,250.8 357.5,259.7 418.6,225.5 416.8,184.2 353.9,201.3 420.2,252.7 372.6,269.2 391.2,215.9 434.3,223.6 355.8,229.4 360.8,221.7 391.3,216.2 405.9,255.6 408.1,208 431.8,273.8 432.6,244.6 423.9,197.7 385,237.6"/>
<polyline class="s1" opacity="0.12" points="434.8,329.5 384.9,310 397.1,315.2 375.7,319.9 438.1,324.7 351.1,296.6 419.6,347.3 396.1,288.6 408.8,333.4 432.4,342.5 367.2,288.6 372.3,316.5 388.7,335.3 383,324.6 406.1,292.6 367.8,344.1 413.6,306.5 422.7,354 348.9,323.4 418.4,307.5 366.6,318.3 402.2,336.2 375.3,309.4 362.3,336.4 416.6,295.9 369.7,321.3 429.1,350.7 347.3,308.5 348.3,343.6 347.4,348 366,293.7 357.3,298.1 400.4,316.6 398.8,318.6 349.3,334.2 396.4,343.5 392.9,331.8 363.7,334.9 371.8,293.8 390.3,350.3 383.5,352.1 436.8,347.4 397.4,350.9 375.9,333.1 382.2,341.3 348.5,319.6 426.8,332.6 371.5,288.5 439.5,336.9 400.8,294.7 435,285.8 351.5,354.8 350.1,333.9 385.5,304.1 439,300.5 376.9,307.3 414.6,338.2 402,339.4 437.9,293.8 407.7,326.5 417.2,325.3 386.1,314.8 398.8,310.7 380.6,302.2 428.2,350.8 389.8,308.1 429.9,343.7 390.2,312.5 413.3,317.5 351.8,336.4 422.1,331.8 355.5,326.4 357.5,301.5 399.9,308.1 376.8,327.7 378.3,288 398.7,297.5 370,326.3 419.6,296.4 387.3,348.6 364.2,294.7 384,318.6 418.8,348.3 395.4,332.9 379.9,334.1 395.6,300 346.3,334.9 352.6,303.6 423.4,323.8 369.4,305.8 356.8,288.7 401.1,315.4 438.3,337.9 350.4,353.7 379.6,347.3 372.6,304.5 379,298.6 433.5,302.8 363,346.3 430,318.1 424.1,286.9 420.7,314 408,307.8 361.6,313.5 384,341.1 420.1,325.3 420.9,346.7 381,309.4 416.1,346.9"/>
<polyline class="s2" opacity="0.12" points="356.2,290.4 400.9,316.6 362.2,350.8 419.4,316.2 352.4,324 349.3,336.7 363.6,298.2 421.9,327 437.5,332.2 387.9,345.9 412.2,306.3 379,338.4 438.7,286.3 419.7,323.8 392,288.1 370.4,331.8 405.9,316.4 408.9,299.9 378.8,336.2 416.5,333.9 370,351.5 364.7,315.5 395.5,339.3 378.4,349.3 358.7,347.1 355.4,349.8 404.9,315.1 395.7,297.7 355.1,328.8 358,300.7 425.8,339.3 402.5,292.5 355.7,340 416.6,288.6 422.4,306.5 437.6,351.3 353.8,334.5 403,286.7 387.3,326.9 371.9,287.6 359.9,347.9 435.7,344 392.2,295.7 421.4,294.7 389.3,330.5 429.7,321.1 385.4,288 391.6,346.6 414.6,299.9 378.4,342.8 356.1,335.8 407,339.7 398.9,349.5 386.2,311.4 354.6,286.8 383.2,316.8 370,334.1 421.1,345.5 356.8,326.8 429.8,350.3 369.5,350 422.5,298.2 377.1,351.2 384.6,328.9 404.2,348.1 377.3,313 432.6,303 371.6,295 377.7,332.9 378.6,340.5 411.7,347 370.3,322.3 425.7,293.7 355.6,299.4 438,330.2 438.6,288.6 405.2,331.2 362.4,302.4 390.8,324 359.5,327.4 358.2,306 410.8,293.1 382.3,323.9 377.1,350.4 432.6,338.7 370.1,292.4 376.3,313.9 355.6,334.6 359.8,338.5 424.2,317.6 378,307.9"/>
<polyline class="bl" points="376.1,213.4 391.9,191.8 370.4,253.9 393.9,185 396.1,206.1 418,205.8 392.5,211.6 360.4,190.3 383.4,239.6 380.9,184.5 427.9,242.1 365.9,255.9 388.2,201.5 359.1,235.6 417.2,237.8 411.8,217.3 407.6,185"/>
<polyline class="cr" points="410.7,201.6 373.4,252.3 434.8,187.2 385.6,245.8 420.8,245.1 396.3,208.2 373.8,217.7 381.4,200.8 349.7,242.3 422.3,210.4 388.9,183.6 376.5,213.5 360.3,197.6 368.8,209 409,235.4 412.6,231.8 403.9,186.4 392.5,192 380.1,236.9 401.5,248.2 396.7,191.7 400.4,231 370.1,254 361.9,184.6 435.3,200.1 398.8,244.5 365.6,244.6 371.8,263.6 381.5,190.3 367.7,215.7 436.8,212.6 411.4,231.2 389.4,241.4 416.5,209.3 365.6,194.2 378.3,194.3 437.9,218.6 367.2,245.5 415.3,231.9 405.3,207.6 404.2,237.5 393.6,185.2 395.7,205.9 405.2,253.9 355.1,204.2 419.5,184.5 425.3,259.2 417.7,206.1 378,246.1 437.8,219.8 385.9,212.3 385.4,249.6 353.4,227.3 422.5,224.2 362.3,242.8 391.9,211.3 360.4,190.9 372.1,229.9 381.1,242 429.2,200 393.6,234.3 405,206.1 355.9,193 383,240 361.2,201.8 416,224.7 355.9,204.7 401.7,248.7 356.2,234.6 386.7,221.2 434.4,207.4 368.8,236.6 437.1,207.8 380.9,185 364.4,218 361,186.9 392.9,203.8 434.9,212.7 352.3,211.2 374.3,225 436.3,200 419.6,202.8 428.3,241.7 400.1,245.6 413.4,199 353.6,205.5 390.9,197.3 432.6,261.4 371.9,252.5 428.1,220.8 365.6,255.9 431.4,210.5 412.8,186.2 388.8,201.7 405.7,239.6 359.6,199.5 350,185.8 359,235.4 417.6,238.1 419.9,238.4 381.9,237.3 391.2,216.1 405.1,208.6 417.1,235.2 432.5,189.7 388.3,238.1 401.1,190.8 398.4,224 349.3,206.6 431.5,184.6 352.3,212.9 429.5,211.7 406.5,228 411.7,217.7 378.6,237.7 429.5,209.6 429.3,211.7 373.6,233 407.6,184.6 418.2,186.3"/>
<rect x="344.8" y="121" width="97.5" height="236.8" fill="none" stroke="#7f7f7f" stroke-width="2.0"/>
<path d="M345.6 174.2L441.5 174.2" stroke="#000" stroke-width="1.3" stroke-dasharray="11 5" fill="none"/>
<path d="M345.6 285.6L441.5 285.6" stroke="#000" stroke-width="2.0" stroke-dasharray="10 5" fill="none"/>
<path d="M346.1 356.3L441 356.3" stroke="#000" stroke-width="1.2" stroke-dasharray="9 5" fill="none"/>
<rect x="343.8" y="174.2" width="2.6" height="111.4" fill="#e6004c"/>
<rect x="440.7" y="174.2" width="2.6" height="111.4" fill="#e6004c"/>
</g>
<g>
<rect x="452.3" y="120" width="100" height="238.8" fill="#fff"/>
<path d="M454.6 170.6L502.3 170.6L550 170.6L550 281.3L502.3 282.2L454.6 281.3z" fill="#000" fill-opacity="0.018"/>
<path d="M454.6 281.3L502.3 282.2L550 281.3L550 356.5L502.3 356.5L454.6 356.5z" fill="#000" fill-opacity="0.008"/>
<polyline class="s1" opacity="0.12" points="456.7,209 469.5,264.4 478.6,215.7 505.1,225.4 475.7,244.2 480.7,227.1 544.9,254 480.7,273 534.4,264.5 544.4,241.3 536.5,268.7 516.4,178.8 539.4,210.5 471.4,207.7 535.7,256.3 548.4,177.1 504.9,240 498,276 504.2,223.3 467.6,267.5 515.9,186.7 494.4,253.8 481.1,275.4 467.1,230.7 489,272.6 481.1,244.2 521.4,202.7 495.1,180.1 468.4,190.8 476.7,197.6 496.2,180.7 478.4,193.7 533.7,173.3 513.1,218.6 468.4,230.7 480.7,261.9 515.7,231.7 531.8,192.9 483.4,258.8 514.4,174.1 521.5,225.2 499.2,274.1 487.4,201.9 542.7,262.6 511.5,231.4 457.7,251 507.9,172.5 455.8,275.3 499.5,194.5 461.7,234.2 482.5,245.7 546.1,274.5 530.3,220.5 537.1,174.1 462.9,267.2 526.5,230.3 537.7,265.5 525.3,259.3 535.6,191.1 503.1,250.6 483.1,265.9 494.2,195.2 474.1,177.6 463,230.7 511.9,190.7 521,259.7 494,201.7 458.1,275 457.9,253.9 525.6,171.4 488.4,179.9 487.3,251.8 545.7,262.8 504.3,189.3 502.5,240.2 509.7,186 506.1,249.3 461.5,226.4 510.2,199.2 476.5,268.9 537.7,251.2 501.3,244.4 540.5,238.8 531.9,267.7 461.2,262.2 530.3,246 517.9,214.6 502.5,194.4 517.5,171.4 546.1,193.1 506,245.6 455,199.5 484.6,228.6 519.8,208 467.3,197 456,175.5 467.2,268 525.3,257.9 491.1,278 544.8,204.5 527.9,244.5 510.1,268.6 480.5,190.9 534.8,271.5 547,279.1 456,198.3 519,187.6 485.8,180.6 476.4,222.9 480.8,227.3 509.7,234.4 465.9,199 488,224.6 548.8,250.8 520.7,272.3 514,276.1 537.4,258.7 468.2,259 471.2,211.1 473.5,207.9 525.8,267.1 479.5,247.1 459.5,201.6 531.3,252.8 462.3,191.2 541.5,257.1 546.2,188 490.6,259.2 486.4,175.2 473.4,201.3 534.9,247.7 523.1,174.9 519.2,192.3 515,247 533.7,269 493.7,207.5 528.3,213.1 511,191.5 515.1,270.7 505,178.8 517.7,266 502.7,258.2 538.9,273.5 474.3,186.6 507.3,275.5 516.7,170.6 504.2,174 518.5,215.1 459.1,190.3"/>
<polyline class="s2" opacity="0.12" points="503.9,190.7 466.8,204.6 508.2,226.9 501.1,212.9 548.6,269.8 530.6,242.1 524.6,200 505.8,253.9 461.9,266.4 500.8,230.6 461.2,209.8 543.1,269.3 488.5,178.8 494.7,237.6 455.4,255.6 546.5,191.9 460.4,232 469.5,253.9 532.6,257.4 522.3,230.8 530.7,239.7 485.5,179.1 488.5,213.3 468.4,226.2 495.4,177.1 494.1,214.9 522.7,174.9 495.5,205.5 507.2,249.7 517.1,208.1 468.2,245.4 478.3,259.6 495.1,237.5 543.9,211.5 462.9,255.3 489.8,211.5 519.5,226.6 545.5,266.2 546.7,266.1 466.1,266 537.3,202.8 462.2,223.9 507.2,216.9 458.7,267.1 470.1,242.3 548.2,242.7 535.6,175.2 520.8,189.7 512.9,248.9 539,261 511.2,199.4 532.2,245.1 529.7,242.5 498.5,181.3 467.3,253.2 493.3,236.2 544.1,226.1 498.2,215.9 465.1,246.4 463.8,180.7 521.3,210.4 501.2,171.9 481.8,230.6 469,263.9 458.6,200.3 471.1,204.2 496.6,196.3 465.2,227.6 524.9,238.3 537,232 526.8,201.1 490,222.8 517.6,189.1 469.8,204.9 547.6,210.7 541.2,268.6 475.4,192.1 485.2,255 532.7,180.2 520.3,215.3 525.6,172.4 499.6,223.1 506.9,171.6 514.2,183 521.8,265.2 539.7,258.6 545.1,233.3 534.3,263.4 519.6,226.7 461.9,198.5 457.7,257.9 536.6,198.8 489.7,220.2 532.4,198 518.6,191.7 533.2,257 485.3,252 505.8,279.8 484.4,242.3 519.7,190.6 522.8,226.3 464.7,236.1 499.8,200.2 492.1,220.8 488.6,270.1 460.9,197.9 464.3,258.2 458.6,258.6 516,203.6 462.3,175.7 475.5,271.1 459,180.9 468.4,243.6 536.8,239.7 513.3,177.3 528.2,227.2 501.1,253.8 455.1,227.5 522.5,193.6 502.7,246.4 503.3,256.9 487.7,221.6 539,271 499.6,185.1 493.4,197.8 485.6,173.2 545.8,242 547.2,186.4 461.9,276.9 477.4,174.9 529.1,230.3 522.9,226.3 478.9,254.6 503.6,242.3 515.9,227.3 500.8,174.2 475.5,204.9 538.2,220.6 466.4,227.1 545.3,237.2 487.3,183 492.8,268.6 525.9,233.2 467.2,279.8 521.2,250.5 478.6,224.1 527.8,172.1 494.1,248.4 456.8,185 465.4,203.4 499.8,211.6"/>
<polyline class="s1" opacity="0.12" points="465.2,321.2 490.3,323.2 494.3,354 473.4,327 472.8,294.7 496.9,344.5 511.8,332.2 508.2,352.7 496.2,312.6 466.4,287.2 471,347.6 539.2,333.8 477.6,323.2 547.3,354.5 467,315.4 471.7,353.6 467.4,313.6 511.9,298.8 514.7,349.6 522.1,324.5 494.4,283 529.6,317.9 534.2,290.4 455.8,317.5 544.8,349.9 458.6,295.6 548.7,291.6 456.4,298.9 459.4,317 508.9,291.7 474.1,300.5"/>
<polyline class="s2" opacity="0.12" points="506.6,352.1 546.9,333.4 478.8,313.9 502.4,337.1 524.1,309.8 524.3,283.5 463.3,351.4 512.6,343.4 528.3,329.3 468.7,287.9 532,352.1 537.2,323 532.8,285 486.6,312.7 545,351.7 507.8,296.6 500.4,337.7 513.5,332.8 504,306.6 486.7,343.7 501.4,289.8 503.6,294.4 529.3,306.5 534.7,289.3 538.3,353.1 466.1,299.5 460.8,349.6 499.2,352.2 513.9,325.5"/>
<polyline class="bl" points="526.8,226.8 523.8,270.4 492.5,259.6 541.8,250.5 490.9,275.2 470.3,202.4 512.7,205.9 496.3,217.5 540.3,277.8 490.2,242.5 500.6,242.4 547.2,231 522,220.9 523.9,237.7 474.4,256.4 506.7,276.7 541.8,226.5 461,263.5 535.9,244.9 484.3,238.7 474.4,231.1 515.9,263.3 503.7,237"/>
<polyline class="cr" points="526.8,227.2 524.4,221.8 510.9,217.3 524.3,270.3 481.3,215.9 496.6,246.1 484.2,277.7 487.1,245.8 504.7,217.1 493,259.1 536.8,204.3 514.9,229.8 488.2,251.4 490.6,254.2 471.4,275.8 465.7,253.9 473.2,232.9 524.7,233.3 541.4,250.6 498.2,256.9 462.5,241.8 490.9,275.4 517.9,233 544,237.8 470.1,203 523.5,278.5 513.1,205.3 495.8,217.7 495.3,236.6 539.8,278.4 489.8,242.2 500.3,242.1 487.5,241.6 541.7,260.1 460.6,270.2 546.8,230.5 522.1,220.4 513.6,227.1 523.7,237.1 482.7,182.9 537.2,240.2 490,245.7 463,254.2 491.7,255.5 497.6,278.3 474.1,256.1 491.2,194 506.6,276.3 469.4,258.2 541.6,226.9 461.5,263.7 536.1,244.5 484.5,238.4 474.4,231.5 515.4,262.9 528.4,255 465.8,233.6 503.6,237.6 541.4,257.1 526.7,199.6 494.4,222.1 520.6,262.2"/>
<rect x="453.3" y="121" width="98" height="236.8" fill="none" stroke="#7f7f7f" stroke-width="2.0"/>
<path d="M454.1 170.6L550.5 170.6" stroke="#000" stroke-width="2.0" stroke-dasharray="11 5" fill="none"/>
<path d="M454.1 281.3L463.7 281.6L473.4 281.9L483 282.1L492.7 282.2L502.3 282.2L511.9 282.2L521.6 282.1L531.2 281.9L540.9 281.6L550.5 281.3" stroke="#000" stroke-width="1.8" stroke-dasharray="10 5" fill="none"/>
<path d="M454.6 355.5L550 355.5" stroke="#000" stroke-width="1.2" stroke-dasharray="9 5" fill="none"/>
<rect x="452.3" y="170.6" width="3.2" height="110.6" fill="#e6004c"/>
<rect x="549.7" y="170.6" width="2.6" height="110.6" fill="#e6004c"/>
</g>
<g>
<rect x="564.6" y="120" width="99.6" height="238.8" fill="#fff"/>
<path d="M566.9 161.3L614.4 161.3L661.9 161.3L661.9 280.3L614.4 281.8L566.9 280.7z" fill="#000" fill-opacity="0.025"/>
<rect x="566.9" y="170" width="95" height="70" fill="url(#bandA)"/>
<path d="M566.9 280.7L614.4 281.8L661.9 280.3L661.9 356.5L614.4 356.5L566.9 356.5z" fill="#000" fill-opacity="0.025"/>
<polyline class="s1" opacity="0.13" points="587.5,183.9 616.6,225.5 582.6,191.3 573.6,219.4 634.6,214.3 593.6,186.6 631.6,214 655.8,227.7 608.9,243.7 577.9,203.6 601.3,201.1 585.6,209.9 645.5,225.7 611.8,187.5 609.3,254.1 575.9,198.8 589.9,236.6 656.8,187.5 610,218.3 625.2,196.6 646.4,171.9 575.1,170.7 588,164.3 593.9,192.4 601.2,214.9 619,203.1 572.5,180.9 610.8,206.3 592.2,257.7 610.1,243.5 604.6,204.8 610.7,184.3 658.4,183.4 651.8,173 608.7,213.3 591.6,205.9 653.8,231.9 648.4,217.4 654.4,218.3 600.2,220.3 645.4,274.3 659.5,193.9 623.7,199.4 611.2,172.5 605,205.2 633.1,180.9 658.4,246.7 632.7,225 654.5,213.3 572.7,215.4 653.3,176.9 581.5,212.3 658.1,177.4 611,169.6 596.6,207.2 643.2,203.1 619.2,213.9 601.1,231.5 578.7,203.1 634.6,207.9 654.8,207.1 569.9,185.5 601.5,207.4 630.8,169.6 568.7,202.7 643.8,168.5 584.2,237.2 580,219.1 582.2,251.1 588.4,171.2 653.4,178.4 591.2,199.3 592.4,184.7 621.5,190.5 615.6,165.8 569.3,200.6 585.8,172.8 590.9,183.5 578,211 571.2,260.8 645.2,223.3 593.2,181.4 577,198.2 587.2,207.3 598.7,208 634.2,225.8 599.9,210.4 607.3,256.6 637.1,243 596.9,171.8 623.3,188.4 583.7,203.8 620.8,171.3 571.1,171.9 639.4,205 629.4,170 593.6,218.3 631.5,229.3 654.5,206.3 644.7,204.5 622,179.3 603,237.5 599,239.2 603.9,216.1 642.7,178.2 601.3,229.1 640.6,191.1 588.2,210.8 656,232.2 626.7,186.8 603.1,169.9 598.2,209.7 591.8,195.1 618.6,195.3 637.2,206.4 596,234.1 604,180.9 635.9,191.8 652.8,172.2 631.6,181.8 575.8,250.3 612.9,166.4 622.3,203.5 616.8,204.9 631.4,187.4 612.4,229.8 637.9,190.7 620.2,202 658.7,180.7 658.3,186.1 630.5,196.8 655.2,202.1 650.6,252.5 593.1,225.4 644.8,194.2 593.3,191.8 623,217.8 640.6,178.6 601.2,203.3 591.4,219.8 629.5,225.9 644.8,185.9 587.6,163.8 569.1,193.6 591.9,220.3 643.1,170.9 654.2,242.4 645.9,215 641.9,220.3 605,231.9 585.9,219.8 654.3,214.7 657.2,249.3 639.3,206 620.6,249.5 610,185.2 595.4,203.8 607.8,219.3 595.4,202.6 614.7,171.2 621.1,177.7 608.4,198.5 629.1,185.8 586,202.8 589.3,234.2 571.7,198.7 607.1,215.8 613.6,230.4 633.7,172.1 621.9,230 643.3,195.4 629.9,259.9 584.7,222.6 626.2,226.9 654.1,245.4 658.2,225.7 574.8,214.6 574.3,169.8 581,174.1 575.3,199.8 611.1,188.7 655,205.8 567.4,176.9 605.5,187.2 594.5,178.6 609.7,208.2 610.2,228.1 637.9,246.3 617.9,250.7 607,177.6 596,192.7 620.6,192.2 650.8,214.8 660.4,204.3 578.7,239.7 650.1,200.9 583,210.8 617.9,183 599.4,171 624.8,189.6 604.2,201.7 623.4,209.1 619.3,200.4 584.9,242.9 630.7,235.5 656.3,197.7 650.6,242.2 617.8,206.8 629.8,199.8 654.5,259.4 619.4,235.9 572,216.5 657.3,251.2 606.9,205.6 601.9,206.1 599.8,222.7 625.7,210.6 628.3,221.6 609.5,256.2 588.3,206.8 587.9,242.1 576.6,191.7 632.1,203 597.6,174.8 633.8,214.5 641.5,171.7 593.8,174.2 606.5,238 638.8,208.4 597.1,167.8 572.9,240.9 604.5,194.4 602.4,227.7 568.7,238 631.6,212 623,191.1 644.9,176.4 616.8,171.6 588.9,221.2 588.2,211.3 646.9,257.4 638,186.6 630.2,177.5 571.8,226.7 648.9,263.5 637.7,196.2 573.4,172.5 597.2,208.8 618.5,172.9 609.6,230.5 619.9,203.7 588.4,213.7 610.8,225.9 650.9,219.8 631,208.4 588.2,229 652.9,232.2 647.6,210 584.8,180.4 656.9,175.6"/>
<polyline class="s2" opacity="0.13" points="636.5,236.7 586.1,186.4 631.9,209.1 606.4,187.1 624,250.6 631.5,198.4 578.7,172.2 593.1,182 627.4,180.3 652.3,237.8 635.2,210.9 596.8,207.9 620.2,167.4 572,172.9 578,183.8 583.9,225.6 660.5,167.6 581.2,226 615.9,187.9 597.9,165.7 648.8,248.8 602.8,202.6 600.3,210.9 572.2,211 597.3,231.7 634.4,251.9 603.6,246.7 652.8,193.4 645.1,229.5 597,209.4 652,220.2 645,219.6 597.1,222.3 569.8,222.3 651.1,217.7 589.5,190.5 579.5,186.1 569.3,199.4 631.1,224 617.6,211.1 639.7,199.2 573.5,190.7 629.5,178 587.1,233.4 584.9,209.5 586.9,166.9 601.7,214.8 633.8,189.3 575.7,199.7 579.1,241.8 605.8,177.5 624.1,239 607.7,174.9 615.9,175.2 649.8,187.9 623.5,195 653.2,223.7 591.5,191.8 625.1,189.2 654.5,227.1 660,228.9 645.8,170.8 593.4,195.6 618.5,183.4 606,197.2 590.5,191 592.1,238.4 572.3,211.4 630.7,195.2 616.6,214.3 570.5,209 627.6,257.9 650.6,191.6 616.8,199.5 573.3,186.3 642.1,215.6 660.4,223 576.9,229.9 600.5,236.1 589.8,230.4 599.4,168.9 643,203 623.7,232 593.7,178.6 614.4,191.6 651.3,179.7 590.3,229.5 642.3,198.3 576.7,203 610,223 576.9,199.3 640.5,233.8 611.1,190.5 613.8,269.7 602.9,214.6 593.1,238.3 660,181.6 572,174.2 619.6,255.2 645.8,200 655.6,192.1 647.1,184.3 604.3,245.5 641.1,251 570.7,234.5 635.8,222.1 607,236.7 586.4,183.5 573.9,208.1 659,235.1 649.9,200.8 579.8,257.1 567,215.7 573.2,181.4 577,228.6 630.3,229.9 652.9,194.9 656.6,249.6 621.5,250.4 577.3,211.6 624.9,168.4 627.7,171.7 650.4,204.3 569.1,244.2 647.6,177.8 651.4,234.5 589.7,230.6 632.5,236 589.4,166.8 569.7,165.9 634.9,174 642.8,254.5 571.5,168.9 589.1,177.2 577.7,261.4 579.2,208 625.7,180.2 624.2,172 626.2,180.8 608.9,224.1 631.5,237.6 647.3,207.4 626.7,212.5 658,176.7 619,217.3 567,177.8 656.6,257.5 660.6,230 598,187.4 632,230 611.3,253 589.2,216.2 648,166.2 589.2,188.5 642.5,186.6 641.5,225.6 649.8,222.6 593.2,234.8 628.4,192 652.8,194.2 577.9,205.9 659.2,237.8 608.9,238.8 600.2,184.5 627.9,239.6 614.5,223.9 583.6,183.3 595.4,174.2 587.6,261.1 650.9,212.3 610.4,180.2 610.1,198.8 585.8,225.4 596.5,190.6 589.5,212.5 652.9,194.7 629.7,173.1 594.5,191.5 621.1,187.1 616.3,232.4 637.8,235.9 606.3,189 581.2,206.9 626.2,178.7 613.3,199.2 658.3,184.4 597.6,244.8 660.5,243.5 646.8,213.2 587.9,177.6 599.9,199.4 568,215.6 577.7,251.3 620.2,200.8 567.9,190.3 658.7,252.3 575.8,197.7 575.8,199.7 602.1,234.1 646.2,191.7 582.4,179.5 635.2,217.3 612.2,181.9 608.4,237 618.8,233.9 645.9,210.4 583.7,188.7 645.4,176.8 581.2,246 653.2,212.8 655.1,182.3 645.4,222.7 633.9,213.2 627.6,254 655.9,209.5 607.9,187.6 625.2,189.2 580.1,222.6 582.1,182.9 600.5,244.4 646.5,250 592.6,225.1 575.1,197.9 610.6,204.7 616.1,187.4 573.9,243.9 628.4,180 644,171.2 589.4,204.2 577,163.9 584.6,189 581.8,198.5 580,221.7 605.6,199.1 653.3,219.6 577.1,219.8 582.1,216.9 637.8,180.1 602.9,173 614.9,201.1"/>
<polyline class="s1" opacity="0.12" points="595.1,285.5 658.1,295.3 600.1,314.7 592.5,329.1 613.3,343.9 623.4,286.5 568.1,332.3 659.4,339 567.7,297.4 638.2,328.2 606.3,332.7 596.5,294.1 567.7,335.1 655.1,302 630.9,305.7 628.3,323.4 582.1,313.1 616.2,310.7 637.5,335.7 659.5,297.8 597.6,298.9 626.9,301.2 647.7,291 611.3,285.9 580.1,289.8 596.9,285.4 621.1,328.3 611.6,329.4 595.2,303.7 635.7,309.1 637.4,345.4 629.9,303.4 599.3,354.4 583.5,308.5 636.7,293.1 604.2,282.2 588.4,345.6 627.8,304.3 568.1,339.7 594.3,296.9 581,305.3 584.8,320.2 577,345.5 605.7,303.2 626.6,314.3 640.8,349.9 646.9,308.7 569.3,298.8 596.9,340.5 611.5,324 622.4,283.1 580.6,292.8 578.2,295.5 579.1,307.9 655.8,335.3 626.1,337.9 611.6,288.3 607.3,333.8 575.1,330.4 586.1,315.5 650.6,332.6 608.3,325.7 641.7,297.7 570.1,337.4 620,299.5 639.7,291.7 617.8,292.8 624.3,294.4 577.4,323.5 568.7,351.9 599.6,351.3 579.2,316.1 605.9,285 647.1,313.1 590.4,298.2 649.2,339.3 600.4,331.8 610,288"/>
<polyline class="s2" opacity="0.12" points="646.8,314.8 633.2,311 571.2,303.1 642.7,292.8 585.1,286.7 629.9,299.4 583.2,317.3 584.2,351 595.1,285.2 585.5,347.1 640.4,338.6 645.1,309.2 633.4,324.5 633,348.8 590.9,324.3 621.4,289.8 631.8,309.3 629.6,314 623,354.5 590.8,318.4 639.5,284.3 595.5,340.1 653,343.8 647.3,298.9 646.9,282.2 617.9,284 641.7,288.8 569.8,333.1 583.9,283.9 595.8,306.9 620.1,290.4 634.6,323.2 615,290.2 572,299.6 569.2,305.2 606.2,321.9 586,341.9 642,351.2 602,341.1 593.1,347.8 658.9,329.2 630.2,311.2 627.4,316.4 568.7,313.6 637.9,307.4 593.7,322.6 594.7,314 591.3,309.4 586,342.2 621.5,296 615.3,325 616.1,317.7 581.2,297.8 621.7,319.2 651.8,286.1 659.3,336.1 602.7,327.8 641.8,334.1 598.6,340 657.2,304.7 647.8,337.2 628.2,284 618.5,334.4 588.4,287.8 622.3,349.1 609.2,302.7 651.1,294.9 657.4,309.3 641.7,304 594.9,325.9 623.4,297.1 644.6,334.2 622.8,282.7 587.7,350.4 569.8,299.5 596.9,324.4 596.8,330.9 571.1,291.7 632,287.1 587.7,343.2 610.8,334.9 650.9,328.9"/>
<polyline class="bl" points="629.9,196.2 648.9,173.5 577.8,190.5 597.1,245.9 656.6,201.8 601,256.1 592.6,221 632.2,238.8 646.4,171.7 576.3,232.6 596.5,216.7 618.3,193 577.1,201 594.4,174.6 613.2,168.4 603.6,245.4 646.7,230.1 577.2,262.3 655.2,201.5 635.8,201.7 616.4,227.3 583,245.4 628.5,191.2 607,213.7 569.7,184.9 591.6,183.8 655.3,180.3 654.7,176.9 611.5,188.8 631.2,199.6 656,214.1 593,210.4 637.4,226.8 578,214 591.1,183.7 577.6,187.9 583.2,169.4 599.2,240.8 631.1,191.7 655.7,203.4 624.2,198.3 577.6,179.9 640,167.7 615.8,191.7 638.8,212.8 634.1,213"/>
<polyline class="cr" points="629.3,195.9 649.3,174 577.9,190.2 597.1,246 656.4,202.2 600.9,256 593.1,220.6 631.7,238.8 646.9,171.3 576.3,232.9 618.3,181.6 606,179.5 596.6,217.1 618.4,193 577.6,200.9 594.8,174.5 586.9,237.9 612.6,168.8 604,244.9 646.9,230.4 577.1,262.7 655.4,201.8 636.3,202.1 616.4,227 582.4,245.5 633.5,186.4 629,191.2 625.5,190.7 606.8,213.5 578.8,194.7 593.9,180.5 615.7,196.2 569.9,184.3 592.2,184 631.5,192.1 654.8,180.6 587.3,211.4 595.5,188.3 654.4,176.5 610.9,188.8 647.2,225 586.5,184.4 631.5,199.9 592.2,241.3 655.4,214.6 631.2,222.5 589.6,201.4 579.8,213.9 638.8,170.1 617.9,184.6 605.4,183.6 593.2,210.6 599,226.4 637.5,226.5 577.5,214.2 590.6,183.7 577.6,188.1 583.7,170 599.5,240.8 652.6,189.2 631.5,191.8 656,203.7 623.9,197.8 578,179.9 640.5,167.4 615.3,192.2 639,213.3 649.2,214.9 634,213 581,182.9"/>
<rect x="565.6" y="121" width="97.6" height="236.8" fill="none" stroke="#7f7f7f" stroke-width="2.0"/>
<path d="M566.4 161.3L662.4 161.3" stroke="#000" stroke-width="1.3" stroke-dasharray="11 5" fill="none"/>
<path d="M566.4 280.7L576 281.1L585.6 281.4L595.2 281.7L604.8 281.8L614.4 281.8L624 281.7L633.6 281.5L643.2 281.2L652.8 280.8L662.4 280.3" stroke="#000" stroke-width="1.8" stroke-dasharray="10 5" fill="none"/>
<rect x="564.6" y="161.3" width="3.2" height="119.3" fill="#e6004c"/>
<rect x="661.6" y="161.3" width="2.6" height="118.9" fill="#e6004c"/>
</g>
<g>
<rect x="677" y="120" width="99.1" height="238.8" fill="#fff"/>
<path d="M679.3 135.9L726.5 135.9L773.8 135.9L773.8 320.5L726.5 320.5L679.3 320.5z" fill="#000" fill-opacity="0.012"/>
<path d="M679.3 320.5L726.5 320.5L773.8 320.5L773.8 356.5L726.5 356.5L679.3 356.5z" fill="#000" fill-opacity="0.008"/>
<polyline class="s1" opacity="0.12" points="707.2,227 739.4,156.9 684.5,234.8 707.2,310.7 692.8,258.5 755.3,223.4 734.6,176.7 687,179.4 694.2,212.1 692.5,186.2 764.4,297 763.6,196.6 718.2,311 713.1,140.3 754.6,272 739.9,262.2 709.8,219.1 689.3,163.7 680.5,281.1 705.4,181.9 735.3,266.8 747.4,276 694.6,305 693.5,263.6 769.7,249.6 744.4,298.3 744.5,298 756,187 735.3,183.1 763.3,182.2 709.7,304.8 751.1,152.6 683.2,180.3 726,153.4 692.4,197.3 689.9,282.9 698.1,299.4 694,222.9 760.1,279.7 772.5,183.9 706.5,185.9 752.1,252.7 743.1,284.5 759.8,175 745.6,138.8 705.7,151.2 691.4,219.9 714.1,151.1 755.7,147.3 729.1,206 734.3,157.7 718.4,318.4 679.4,307 702.4,300.9 712.4,229.9 710.8,156.1 705.3,262.2 692.3,138 685.9,148.9 683.4,244.1 700.3,194.8 706.9,176.9 708.6,174.4 760.1,275.2 690.3,213.7 689.1,293.7 750.7,286.8 682.7,249.7 700.1,318.9 727.6,291.4 770.1,189.9 749,316.9 743.5,292.6 723.4,287.9 735.6,272.5 717.7,172.5 693.8,175.5 771.7,265.8 758.3,307.8 766.9,219.4 680,268.3 761.2,313.9 697.9,240.9 688.7,149.5 702.4,201.6 735.5,156.9 704.5,170.2 753,306.8 695.6,168.3 725.2,250.6 713.9,216.5 747.7,307.4 682.5,186.1 720.3,240.7 700,140 690.3,178.7 747,238.5 727.1,258.1 719.9,162.7 707,238.8 698.1,286.5 731.9,196.4 715.8,146.3 737.1,136.5 735.4,180.6 720.6,316.9 757.4,156.1 723.7,186.9 692.5,143.8 691.9,141.1 745,254.2 754.5,144.1 766.5,145.6 724.2,200.1 752,227.1 730.2,262.2 762.2,210.9 727.9,275 696.5,225.3 719.9,159.4 754.8,312.7 727.3,205.6 728.6,154.4 758.6,204.8 689.2,309.2 703.7,245.9 698.9,314.4 754.6,219 737.6,208.2 709.6,264.9 724.3,276.9 736.2,302 710.2,180 756.3,271.9 755.7,316.7"/>
<polyline class="s2" opacity="0.12" points="724.8,226.8 698.2,244.5 756.3,139.2 734.9,236.8 736.7,222.1 758.1,238.8 765.8,212.6 763.2,307.5 725.8,190.8 746.1,240.8 712.1,157.1 713.3,216.3 727.7,257.4 725.7,199.5 730.4,263.4 759,236.9 728.7,267.3 683.8,279 750,261.1 744.1,141 767.7,192.2 728.6,210 716.9,281.8 712,290.8 680.7,245.5 726.7,209.9 752.8,235.2 701.7,277.3 752.2,183.3 758.7,166.3 760.2,231.3 730,218.1 757.6,156.8 720.9,160.9 698.9,217.1 742.3,159.6 737.5,202 708.4,285.3 769.6,259.1 764.7,242.6 723.4,281.6 739.1,149.2 719.8,160.9 731.5,217.4 693.7,314 687.3,294.3 736.3,312 722.7,237.2 713.3,307.3 734.6,238.9 705.5,140.9 767.8,245.6 683.4,235.5 771.6,138.9 723.3,305.9 749.2,151.1 707.5,145.5 687.9,180.5 706.7,242 738.8,285.8 702.2,170 765.1,194.8 687.4,177.5 751.3,159.2 733,238.2 682.6,265.6 728.1,179 719.5,183.8 680.7,140.2 751.9,139.5 705.5,203.1 685.5,301.6 717.8,172.5 704.3,151.4 709.1,158.8 753.8,251.2 763.9,258.7 720.6,171.8 750.2,288.3 749.8,281.6 709,241.2 696.8,157.1 710.1,311.3 734.2,224.6 755.1,170.7 714,297.7 707.9,240.6 704.2,149.2 693.8,136.6 751.3,291.9 758.1,177.6 733.4,143.4 754.3,179.6 748.2,273.1 708.3,162.9 712.7,272.7 715.9,308.5 743.7,146.9 700.7,170.2 753.1,207.1 772.8,195.3 682.2,254.8 757.8,280.7 718.2,237.8 732.5,194.6 727.9,179.1 713.5,299.9 705.5,252.7 679.5,216.4 755.9,215.9 750.3,295 697.1,277.3 692,242 728.9,212.4 758.9,299.5 687.2,207.8 692.3,281.9 699.7,258.4 712.9,178.3 691,259.7 727,218.7 753.1,262.8 701,136.1 710.3,286.6 759.4,270.1"/>
<polyline class="bl" points="755.4,305 687.6,199.9 707,237.2 745.2,281.8 747.5,272 710.3,251.8 769.7,238.1 711.5,247.3 739.3,186.7 711.1,231.1 714.2,272.8 726.7,277.7 738.5,274.5 688,205.2 754.3,270.1 754.4,272.7 701.5,231.7 751.5,301 683.6,238.5 704.4,301.7 691.7,266.7 745.6,239.8 683.6,191.8 731.5,304.5 716.5,267.5 729.5,191.5 738.6,229.7 700.3,265.8 751,234.8 738.6,282.2 743.2,230.8 722.4,255.9 731.5,228 739,226.3 686.9,236.3 703.2,289.3 700.8,224.9 733.7,226.2 759.8,276.6 755.4,260 702.3,305.4 700.3,285.4 750.5,305.5 754.9,250.3 764.4,228.6 715.9,230.1 723.2,271.7 762.3,286 744.7,281.3 761,279.7 763,296.6 696.8,234.9 755.9,294.4 740.2,267.9 726.5,238.9 749.9,272.9 746.9,236.7 725.4,306.5 769.4,225.6 710,220.7 757.4,299.9 768.9,249.5 768.8,289.3 711.6,306.5 754.3,204.5 724,278.1 683.4,237.8 714.5,193.5 706.5,278.6 719.1,262.5 723.1,217.7"/>
<polyline class="cr" points="754.9,305.3 688.2,199.3 707.4,236.8 711.1,227 719.7,227.6 745.1,281.7 747.5,272.2 709.7,251.7 770,237.5 688.9,288.2 712,247.9 739.8,187.1 711.6,230.9 713.7,273 726.9,277.7 738,274.1 687.6,204.7 754.4,270.4 754.9,272.4 766.9,247.3 701.2,232.1 755.3,178.6 751.3,300.8 766,209.1 683.1,239 754.9,285.1 704.3,301.8 691.7,266.2 717.6,287.6 761.4,302.3 746.2,239.9 683.9,192.2 731.6,305 716.6,268.1 729.6,191.7 738.4,229.5 682.6,244.9 700.3,265.7 751,235.3 738.1,281.8 743,230.4 687.6,270.6 722.6,256.2 731.2,227.5 721.2,267.6 739.2,226.4 687.2,236.6 702.6,289 701.2,224.8 733.5,226.7 760,277.1 755.5,259.9 731.9,279.4 702.5,305.4 699.8,285.6 751,306 755.2,250.4 706.9,263.1 764,228.3 716.1,229.8 723.3,272 758.3,264.1 765.9,175.1 762.3,285.5 744.7,281.2 718.2,264.1 761.5,279.4 763.4,296 748.9,278.9 696.4,234.3 724.4,296.5 755.9,294.9 740.7,267.9 726.8,239 750.2,273.1 712.3,225.9 746.6,236.9 767,285.7 724.9,307.1 732.5,228.2 769.7,225.6 710.2,221.1 757.1,300.3 769.4,249 769,289.5 711.2,306.7 754.4,204.5 724.4,277.9 682.9,237.6 714.2,193.8 706,279 718.9,262.9 722.9,217.2 764.9,252.1 752.5,284"/>
<rect x="678" y="121" width="97.1" height="236.8" fill="none" stroke="#7f7f7f" stroke-width="2.0"/>
<path d="M678.8 135.9L774.3 135.9" stroke="#000" stroke-width="1.8" stroke-dasharray="11 5" fill="none"/>
<path d="M678.8 320.5L774.3 320.5" stroke="#000" stroke-width="2.0" stroke-dasharray="10 5" fill="none"/>
<path d="M679.3 356.2L773.8 356.2" stroke="#000" stroke-width="1.2" stroke-dasharray="9 5" fill="none"/>
<rect x="677" y="135.9" width="3.2" height="184.6" fill="#e6004c"/>
<rect x="773.5" y="135.9" width="2.6" height="184.6" fill="#e6004c"/>
</g>
<g>
<rect x="786.9" y="120" width="100.3" height="238.8" fill="#fff"/>
<path d="M789.2 129L837 129L884.9 129L884.9 320.5L837 320.5L789.2 320.5z" fill="#000" fill-opacity="0.008"/>
<polyline class="s1" opacity="0.12" points="797.9,317.4 801,232.8 840.9,209.3 860.5,263.2 815.4,269.3 817.9,290.6 868.8,233.6 833.7,231.8 824.5,221.2 816.9,270.6 794.1,270.4 857.7,210.3 856.5,140.9 846,129.5 816.2,209.1 807.4,171.3 860.5,302.9 849,197.5 815.2,251.8 792.1,166.9 839.6,316 845,268.1 881.8,278.2 837.7,136.8 825.1,211.9 869.6,199.2 828.7,155.4 883.4,162 826.6,185.3 863.1,158.4 811.2,305.3 798.1,148.8 848,283.4 850.6,170.3 814.5,205.7 845.9,136.6 830,247.5 799.3,207.6 869,273.5 881,168 792.2,184.6 807.8,159 822.5,192.4 795.9,251 862.5,234.5 869.9,211.8 843,139.8 840.7,206.1 810.6,206.8 795.5,173.8 811.8,166.7 849,130.6 801.6,259.3 815.5,155.6 841,274.6 800.5,179.8 864.2,250.9 842.8,224 879.9,160.2 820.4,271.9 873.9,162.6 807.8,160.4 862.9,262.9 835.5,196.8 843.7,278.4 836.3,130 820.3,161.8 882.3,134.1 842.4,240.7 839.6,271.3 880.7,245 843.7,132.5 829.2,146.5 818,173.2 877.6,169.3 882.3,237.9 797.3,216.8 804.8,153.8 827,310.1 873.7,132.9 803.4,140.4 855,244.3 801.1,293.6 858.2,304.9 792,199.7 880.3,240 871.4,302.7 867.7,293.3 866.1,307.9 861.6,241.6 819.6,162.5 826.7,154.9 849.8,206.8 822.7,285.9 849.4,218.4 870,155.5 877.3,165.7 830.5,279.7 832.4,239.7 819.6,185.1 838.3,158.9 822.4,202.5 793.5,297.1 860,308.6 839.7,251.8 812.7,229.1"/>
<polyline class="s2" opacity="0.12" points="808.9,273.5 804,307.5 850.5,248.3 876.3,292.9 858.3,294.1 836.1,307.7 807.9,169.2 808.9,208.3 809.1,220.8 876.4,202.5 844.5,270.9 880.7,186.9 804.8,316.4 810.1,302.9 849.5,290.2 816.7,230.5 872.7,170.2 852,299.3 799,289.7 843.9,212.7 790.2,283.3 825.2,305.4 813,287.9 822.4,295.4 799.8,295 819.7,252.3 850.5,213.2 832.5,206.8 822.2,312.1 811.5,268.7 816.2,206.9 873.4,233.6 846.5,280 876.8,255.5 842.3,212.2 793.6,301.4 819.3,157.8 822.2,317.7 841.3,251.6 863.6,286.8 878.7,194.1 813,150.6 793.7,295.4 865.2,178 794.3,213.8 847.1,190.8 797.1,303.6 800.7,169.2 845.3,317.3 866.9,235.3 830.3,158.5 819.3,164.9 830,131.2 800.7,293.9 808.2,279.6 839.9,130.5 845.4,259 862.9,225.4 822,140.7 792.8,183.6 819.5,262.1 833.3,247 810.9,216.4 874,160.8 816.2,232 809.9,218.8 791,313.3 806,306.3 833.7,167.7 879.3,295 869.8,131.2 817.9,271.5 858.1,262.8 854.6,146.1 879.6,295.7 791.4,307 797.3,216 847.4,228.1 879.3,169.9 883.3,172.8 825.6,150.6 870.8,185.4 814.3,218.2 826.2,273.3 864,179.8 857.8,142.1 828.8,273.7 823.1,189.2 802,178.2 807.7,303.6 880.5,307.1 879,262.4 851,312.3 881.4,213 883.9,266.2 871.6,234.6 809.6,286.2 869,255.4 866.9,134.1 871.1,178.7 794.9,294.8 865.6,282.6 792.4,185.6 868.1,222.5 808.2,294.4 822.2,257.5 818.8,215.3 825.3,269.2 819.6,238.8 807.5,281.1 867.1,141.5 802.9,276.2 811,317.1 826.2,170.1"/>
<polyline class="bl" points="822.4,240.1 863.8,277 826.1,212.8 880.2,248.9 861.6,283.4 821.7,266.6 797.7,274.8 867.5,237.4 876.7,254.3 863.5,276.5 873.4,178.5 820.5,219.3 810.4,233.8 822.9,293.2 870.7,246.1 857.6,277 837.1,247.5 875,301 831.6,250.4 808.2,226.3 853.3,216.6 815.2,228.1 835.2,225.1 874,237.5 803.2,211 794.9,226 865,229.5 795.3,276.5 844.5,281.6 865.1,287.7 837.1,252.6 877.8,279.9 829.8,293.2 819.1,235.5 799.5,251.7 812.4,254.5 799.6,166.9 852,240.5 811.4,232 828.2,203.9 863.4,287.4 869.6,255.9 830.7,219.3 809.6,262.4 807.3,235.7 793.6,206 820.8,218.9 865.8,295.1 811.7,275.3 832.8,241.2 870.6,293.7 808.5,245.8 820.4,252.6 834.2,264.6 846.5,271.5 825.6,284.5 820.5,293.2 816.7,262 848.8,242.7 802.7,205.3 833.7,203.7 834.8,276.2 829.9,212.5 798.2,214.8 866.9,229.4 862.1,272.5 843.8,280.6 810.4,226.4 873.5,268.5 842.1,248.9"/>
<polyline class="cr" points="822.6,240 864.1,277.2 825.8,212.7 795.3,258 880.1,249.2 798,242.5 879.5,225.8 861.1,283.9 822.3,266.9 797.9,274.4 868.1,237.7 876.7,254.1 863.4,276.7 873.4,179 819.9,219.8 810,233.7 822.6,293.3 870.6,246.1 858.1,277.6 836.7,247.4 874.7,301.1 832.1,250.4 847,179 807.6,226.6 818.3,195.8 852.7,216.7 815.4,228.3 864.3,284.7 835.1,225.4 868.9,232.7 874.5,237.9 803.7,210.5 794.9,225.9 865.3,230 794.8,276.4 829.6,250.4 844.7,281.2 845.3,288.8 865.7,287.4 837.4,253 877.7,279.7 830,293.7 819.3,235.4 799.8,252.1 812,254.4 799.3,166.5 852.2,240.6 820.4,197.3 870.4,227.4 811.1,232.6 828.7,204.1 863.4,287.2 870.2,255.8 830.8,219 858.5,244 809.8,261.9 807.7,236.2 836.4,233 793.6,206.2 820.3,218.5 865.5,294.5 811.3,274.8 832.9,240.8 870.4,294 808.1,245.9 819.2,223.6 820.5,252.6 862.8,277.8 834.1,264 846.3,272 825.4,284.6 820.8,293.4 816.9,261.7 850.9,209.1 873.6,243 849.2,242.6 802.3,205.2 834.1,203.4 835.1,276.2 830.4,212.9 798.6,215.2 870.3,212.8 867.3,229 845,251.9 872.2,278.6 862.3,273.1 843.7,281.1 810.5,226.8 873.7,268.1 841.8,249.5"/>
<rect x="787.9" y="121" width="98.3" height="236.8" fill="none" stroke="#7f7f7f" stroke-width="2.0"/>
<path d="M788.7 129L885.4 129" stroke="#000" stroke-width="1.2" stroke-dasharray="11 5" fill="none"/>
<path d="M788.7 320.5L885.4 320.5" stroke="#000" stroke-width="2.0" stroke-dasharray="10 5" fill="none"/>
<path d="M789.2 354.3L884.9 354.3" stroke="#000" stroke-width="1.2" stroke-dasharray="9 5" fill="none"/>
<rect x="786.9" y="129" width="3.2" height="191.5" fill="#e6004c"/>
<rect x="884.6" y="129" width="2.6" height="191.5" fill="#e6004c"/>
</g>
<rect x="184" y="337" width="30.4" height="5.2" fill="#231f20"/>
<text x="111.2" y="292.6" font-size="24.7" text-anchor="end" fill="#ed1c24">CP</text>
<text x="111.4" y="324.5" font-size="24.7" text-anchor="end">IZ</text>
<rect x="123.5" y="379.6" width="99.3" height="249.7" fill="#ebebeb"/>
<rect x="234.6" y="379.6" width="98.6" height="249.7" fill="#ebebeb"/>
<rect x="344.5" y="379.6" width="99" height="249.7" fill="#ebebeb"/>
<rect x="455.3" y="379.6" width="98.9" height="249.7" fill="#ebebeb"/>
<rect x="565.5" y="379.6" width="99.4" height="249.7" fill="#ebebeb"/>
<rect x="676.3" y="379.6" width="99.6" height="249.7" fill="#ebebeb"/>
<rect x="787.2" y="384" width="100" height="244.6" fill="#ebebeb"/>
<path d="M120.3 379.2V630.2" stroke="#000" stroke-width="3" fill="none"/>
<path d="M105.3 380.7H120.3" stroke="#000" stroke-width="3" fill="none"/>
<path d="M105.3 437.8H120.3" stroke="#000" stroke-width="3" fill="none"/>
<path d="M105.3 501.6H120.3" stroke="#000" stroke-width="3" fill="none"/>
<path d="M105.3 563.5H120.3" stroke="#000" stroke-width="3" fill="none"/>
<path d="M105.3 628.7H120.3" stroke="#000" stroke-width="3" fill="none"/>
<text x="99.8" y="386" font-size="24.8" text-anchor="end">100</text>
<text x="99.8" y="634.5" font-size="24.8" text-anchor="end">0</text>
<text x="37.6" y="634.2" font-size="30.3" transform="rotate(-90 37.6 634.2)">Radial position</text>
<text x="68.1" y="635.2" font-size="30.2" transform="rotate(-90 68.1 635.2)">(% CP thickness)</text>
<rect x="248.3" y="444.5" width="69.3" height="117.8" fill="#d3272b" fill-opacity="0.41"/>
<polyline class="pr" points="309.1,473.5 286.3,546.9 281.3,578.2 282.2,586.3 305.6,557.5 242.3,487.7 244.2,515.7 250.2,450.6 245.5,417.1 307,440.2 314.6,545.3 257.5,433.5 303.1,477.9 249.9,435.5 253.4,503.8 305.2,576.5 247.9,517.7 315.4,437.4 282.1,584.2 240.1,557.1 246.3,598.8 248.5,460.2 241.6,448.3 319.1,426.3 312,448.6 247.4,494.1 243.2,429.4 320.2,506.9 237.5,454.6 240.7,482.8 315,464.8 239.2,452.5 249.9,434.8 307.4,428.2 319.7,431.2 240.5,427.9 243.2,435.7 248.2,523.6 242.2,423.7 248.8,454.5 251.6,439 311.4,485.8 307.8,435.2 242.1,486.7 245.6,429.6 319.4,501.9 256.6,439.2 247.8,560.2 244.1,525.5 245.1,468.8 243.8,488.7 318.5,514.7 282.3,605.1 309.4,479.6 318,466.3 315.8,473.1 316.4,558.7 307.7,429.1 250.5,456.9 275.9,612.3 280,584.6 320.4,452.9 313.8,445.7 242.5,448.1 314.2,453.5 257.8,587.5 240.9,442 247.1,460 255.8,449.8 315,466 323.3,436 318.5,490.7 287.9,600.1 280.1,611.1 237.7,537.7 309.8,452.9 314.6,539 241.6,452.5 247.4,544.9 304.5,520.7 276.6,600.4 321.3,512.6 316.8,555.5 291,579.5 309.9,560.1 308.2,498.6 283.9,607.6 239.3,551.2 323.1,489.1 244.5,613.8 304.4,548.8 316.6,464.9 314.3,545.1 251.9,475.9 248.1,450.2 256.5,541.7 238.9,427.9 253.5,466.2 241.3,564.2 250.4,554.5 316.2,559.1 282,496.2 306,478.1 307.1,490.3 256,485.8 272.5,571.5 235.4,524.2 274.5,582.1 243.6,515.6 287.4,607.7 274,580.5 243.6,464.2 279.8,480.7 287.1,578.4 245.7,487 244.9,438.7 302.1,501.8 310.6,526.4 306.9,570.1 280.8,590.2 254,435 248.3,491.5 250.1,575.2 313.1,457.6 313.7,561.5 313.1,444.1 315.8,459.6 237,518.3 319,433.4 275.3,552.8 248.7,559.7 240.2,444.5 320.5,552.9 250.1,570.3 313.9,461 313.1,464.3 282,578.2 245.9,438.1 312.9,438.3 311.9,575.6 249.3,450.3 306.4,468.3 237.6,512.7 318.4,474.3 274.9,587 322.6,516.8 242.7,440.3 315.5,528.9 317.4,517.3 314.2,500 248.4,609.1 291,563 323.3,523.3 250.7,453.1 283.3,581.1 257.2,437.1 257.4,462.1 283.5,579.5 240.9,456.2 291.4,592.4 278.2,600.7 255,433.1 284.3,601.4 273.6,574.6 239.3,446.4 307.8,452.9 301.8,546.6 318.8,505 244.1,609 320.1,500 312.5,485.1 250.6,487.7 239,556.8 278.3,601.2 309.5,448.9 323.6,461.5 310.8,440.4 242.8,434 316.9,434.4 278.9,534.4 248.1,452.5 255,538 247.6,496.9 246.8,580.5 313.8,450.8 312.5,433 243.2,519.4 304.7,446.8 307.9,508.9 245.4,437.6 312.3,449.3 247.1,429.4 274.3,600.4 321.7,443 242.2,563.3 306.7,460.7 238,454.8 255.6,492.3 310.3,463.8 243.5,445 315.5,466.3 248.4,561.9 243.5,435.9 275.3,614 314.9,525.4 244.6,448.2 250.9,451.4 253.4,569.2 247.2,421.2 275.1,571.6 237.8,429.5 239.8,599.8 250.9,453.2 245.3,594 287.2,600.5 251.8,570.3 313.1,528.5 285.1,602.7 249.4,444.9 251.4,471.2 255.1,431.5 315.9,515.7 303.5,484.1 243,530 241.7,436.6 307.9,445.9 312.5,429.2 304.7,465.9 244.3,439.5 306,479.6 314.1,466.8 279.5,544.8 316.4,558 257.2,457.5 285.4,595.8 282.8,499.3 311.4,544 320.8,462.6 281.3,590.2 278.3,591.5 310.1,570.5 278.3,604.2 241.6,459.6 305.5,442.3 282.3,541.2 308.2,435.4 282.2,596.1 302.2,551.4 282.2,548.3 281,588 321.3,488.8 317,548.6 302.5,538.8 251.6,564.7 276,580.8 289.5,602.4 237.5,415.2 244.7,421.3 281.3,581.4 246.2,439.5 255.7,462.4 240.7,440 290.6,620.9 252.4,454 247.2,537.5 249.4,495 281,529.6 244.4,429.7 253,480.5 316.1,475.8 288.9,565.8 313,499.9 312.6,549.3 308.2,541.3 257.6,432.6 283.3,606.7 277.7,594.7 314.4,573.3 246.1,441.1 309.8,449.9 288.7,573.8 315.6,455.6 290.4,592.1 252.1,544.1 280.1,601.2 310.6,432.7 253.8,529.9 315.5,470.6 290.8,589.8 247.4,511.4 308.8,444.6 258,463 247.2,563 242.3,556 245.2,524.7 256.5,436.4 249.8,497 311.1,504 238.2,604.7 276.4,567.5 243.6,519.8 257,504.6 250.6,418.8 281.7,602.8 288.7,550.4 237.5,441 308,468.7 279.4,612.7 311.7,468.8 250.9,590.1 251.3,496.2 313.1,455.9 283.9,606.7 251.4,525 284.7,592.4 304.3,435.1 241.6,548.8 302.7,534.7 303.4,439.1 249.2,621.1 288.4,587.3 253.4,472.7 307.7,495 307.6,435.5 256,391.5 285.2,601.5 317.7,440.7 242.6,561.2 255.9,458.6 272.7,562.1 245.4,604 241.6,437 317.6,441.3 273.8,596.7 313.1,487.6 307.3,440.8 273.8,479.8 276.6,589.4 308,552.1 241,449.1 290.6,593.1 283.8,534 239.8,474.7 308.6,473.9 282.2,535.6 315,454.4 309,442.6 241.8,588.3 282.3,504.2 322,438.2"/>
<rect x="247.3" y="501.9" width="70.8" height="5.4" fill="#231f20"/>
<rect x="354.8" y="444.5" width="70.5" height="96.7" fill="#d3272b" fill-opacity="0.41"/>
<polyline class="pr" points="362.8,580.6 360.9,396.6 432.3,479.3 418.1,455.6 386.6,541.7 425.3,490.3 388.8,467.6 427.8,540.5 369,481.9 353.7,436 356.4,545.2 388.7,590.5 390.2,445.4 347.8,566.6 422.7,467.8 417.5,405.8 390.9,478.1 422.7,477.7 414.9,511 356,416.3 417.5,471.5 383.6,509.4 428.1,524.4 433,481.9 426.3,543 389.3,514.9 359.7,442.4 358,464.6 362.8,435.5 432.1,432.2 426.5,490.3 368.5,401.1 354,434.7 360.7,426.5 425.6,490.7 361.2,443 391.4,504 381.4,531.4 352.9,442.3 385.8,471.9 368.7,508 388.5,533.9 367.1,499.8 427.9,553.9 391.7,484.3 358.9,487.2 359.9,486.9 433.7,476.6 355,519.6 360.4,525.8 354.8,477.9 368.6,540.6 387,529.2 391.3,420.9 360.9,555.7 426.2,561.2 421.9,452 352.1,512.4 422.6,534.6 435.6,550.2 419.7,531.7 355.2,531.7 361.1,578.6 386.3,594.2 395.3,493.8 422.9,453.1 386.2,536.1 351,443.8 424.1,502 352.9,603.8 361.3,461.8 423.6,399.9 391.5,510.4 399.6,499.1 364.1,501.5 360.9,524.9 387.2,521.6 366.7,494.6 359.7,468.3 360.8,531.5 393.1,465.9 350.1,476.8 398.6,491.9 415.3,451.2 435.1,449.6 431,530 385.2,454.7 382.7,493.9 417.1,477.4 360.5,542.3 419.3,505 426.5,499.5 393.4,537.7 419.4,512.1 430.7,484.7 347.9,520.8 364.3,531.4 355.4,476.2 351.8,458.5 430.8,464.4 359,469.8 390.8,550.9 391.6,461.8 360.1,535.1 421.5,486.3 359.2,407.7 427.9,527.9 356,434.9 431.7,448.5 390,437 381.1,483.8 400,446.7 435.2,435.9 348.6,565.8 363.2,495.4 352.8,429.8 415.8,513.6 361.3,460.3 384.1,492.1 357.2,474.8 427,493.3 352.4,479.2 350,535.6 388.4,532.8 388.2,502.1 358.9,468.1 432.4,458 361.2,412.3 356.5,465.9 380.2,521.9 421.2,522.8 363.7,447.3 424.1,548.3 425.4,528.1 354.5,445.7 353.3,452.5 368.9,447.1 428.4,475 359.6,460.6 384.1,456.4 394.5,520.6 400.1,449.5 366.9,596.8 422.7,524.1 418.1,524.8 391.3,464.3 355.8,466 394.6,517.1 368.6,508.2 422,529.7 435,524.9 385.2,516.2 422.5,548.1 351.5,560 364.2,451.3 423.4,586.3 347.8,488.6 417.3,470.7 391.9,492 383.2,531.8 387,619.4 381.6,532.5 388.4,493.2 355.1,517.1 361.2,407 392.2,459.7 360.6,508 386.4,548 400.4,538.6 391.4,533.2 356.7,531.1 386.2,454 399.4,470.8 428.4,505.5 430.3,471.6 392,529 382.8,432.1 395.3,482.4 416.3,547 387.3,478.1 354.5,499.4 424.3,466.9 381.5,487.6 387.4,552.9 423.1,516.8 354.1,413.1 384.5,532.3 361,536 355.8,586 369.1,442.5 429.9,456.9 356.8,588.8 380.8,463 422.6,527.7 366.8,457.6 396.9,546.5 347.7,417.6 430.4,505.5 430.9,555.7 427.9,461.3 358.2,456.6 424.5,476.5 362.1,467.8 387.3,537.7 356.3,439.1 365.8,571 417.4,484.6 386.9,596.7 389.4,494.8 365.2,409 361.1,538.9 428,538.4 357.6,410.9 393.8,471 421.7,535.2 425.7,474.2 361.1,401.6 432.5,516.6 356.7,472.8 392,516.3 369.1,430.2 423.3,412.7 418.2,453.9 393.8,406.8 386.8,497.1 389.5,488.8 424.1,523.8 359.9,456.8 417.7,509.6 366.7,398.9 431.1,464 357.9,474.3 364.4,487.6 387.9,449.6 399.4,455.6 367.1,484.9 348.8,608.7 388.5,442.9 397.8,547.9 359.7,447.4 391.3,481.4 420.9,406.1 365.6,489.5 390.8,457.6 369.3,405.2 428.7,584.1 429.4,497.6 350.2,593.3 361.8,403.4 434.7,426.4 396.4,517.8 392.5,530.4 348.2,537.2 431.9,499.9 369.2,534.8 434.9,501.6 392.8,440.3 357.7,449.9 359.9,546.4 357.5,534 418.9,496.6 356.5,431.1 369.3,527.7 424.8,458.1 392.3,498.9 430.3,514.7 390,457.6 364.9,419.2 348.5,499.8 388.3,454.6 360.2,440.2 423.7,452.7 427.1,550.3 399.8,435.7 422.8,447.8 364.3,507.9 380.8,557.2 368.5,469.7 398.1,612.5 357.8,494.6 390.8,531.1 416.2,463.6 435.5,391 386.8,484 386.5,475.1 389.2,411.3 396.3,406.5 352.6,488.3 355.9,551.8 417.8,524.8 354.1,599.3 388.1,437.5 391.1,475.8 392.3,514.3 425.5,517 351.4,554.8 358.6,458.8 362.8,494.8 362.3,526.1 425.8,480.8 417.9,508.3 397.7,581.3 353.5,419.6 421.5,486.3 357.1,488.4 366.1,481.4 396.7,451.7 395.7,464.4 357.3,479.4 350.1,539.8 418.2,543 417.2,598.1 362.1,457.2 347.7,509 430.5,527.5 356.2,536.3 386.4,499.2 359.9,568.5 381.6,490 361.9,542.8 361.6,417.7 352,409.4 425.1,493.2 363.2,414.5 348.3,449.6 359,545.2 357.7,497.2 358.7,557.7 425.1,431.1 384.3,422.5 391.6,477.4 354.5,535.4 429.6,441.1 367.5,438.7 368.8,403.9 347.6,540 349.6,423.4 358.4,499.8 368.9,416.3 356.1,415.1 357.4,448.6 393.2,528.9 356.8,499.2 421.7,455.9 397.9,501.4 356.7,608.8 356.9,579.8 398.5,603.6 381.3,521.3 389.5,528.1 385.5,531.6 358.4,497.6 390.5,509.6 350.9,399.1 383.8,445 392.3,540.8 349.5,430.4 350.4,407.8 349.9,463 396.6,495.5 430.8,461.3 366.2,517.6 424.6,455.2 423.1,439.2 420.8,470.6 395.5,472.9 396.7,519.6 354.4,504.4 368,462.2 397.2,518.2 356,503.6 363.8,464.8 418.1,509.6 365.1,463.5 370,567.8 434.4,549.1 388.3,581.7 361.1,419.7 351.3,443.9 422.7,512.2 418.3,520.6 426,499 361.1,455.3 362.7,440.4 358.7,519.2 386.6,531.5 391.9,451.6 355.3,475.9 393.4,419.5 358.5,556.7 415.6,489.6 415,493 383.4,460.4 427.7,515.4 369.2,501.5 369.3,419.2 380.7,530.7 429.3,455.1 367.7,564.2 421.7,481.8 392.8,535.1 369.1,471.7 391.6,458.4 352.4,469.2 395.7,416.9 397.9,456.2 350.8,594.4 356.4,511.3 394.8,502.2 359.5,498.1 424.5,462.1 422.9,504.6 432,559.7 364.9,470 400.5,435.8 392.8,473.4 432.4,488.5 423.6,539.6 363.7,452.3 429.8,477.2 364.7,567 347.9,601.3 350.1,425.4 359.4,451.5 393.5,540.2 354,415.4 382.8,408.7 426.3,478.3 353.5,447.1 351.9,434.9 423.9,433 357,558.9 366.9,554.6 362.3,494.7 356.6,528.5 395.8,496 359.2,521.7 361.4,577.9 417.5,520.8 359.9,603.2 360.8,577.9 357.6,457.2 358.9,398 426.5,450.6 382.5,545.4 365.1,433.7 424.4,555.4 421.2,466.9 358.3,426.7 427.5,503.2 360.4,609.2 392.3,485.4 347.5,563.5 359.5,453.9 424.4,545 419.6,533.7 397,511.6 362.7,555.2 359.8,454.7 393.6,563.6 355.5,532.3 386.1,532.9 434.2,510 369.3,433.6 353,440.8 395.3,458.3 355.3,495.1 382.2,507.6 394.7,488.2 420.4,473.9 389.7,513.1 421.3,527.6 353.3,432.2 434,482 435.2,552.4 363.8,468.9 429.2,541.9 354.8,534.8 431.3,410.1 419.6,610.3 366.8,555.4 357.8,518 368,419.7 423.8,519.5 430.2,479.9 396,446.7 357.6,534.3 392.5,511.4 355.5,439.2 352.6,403.3 357,563.2 368.8,448.8 361.7,482.3 368.8,423.7 416.8,443.4 369.2,410.4 350.8,457.7 369.1,572.4 390.2,499.8 392.9,470.6 364.5,518.3 435.9,398.2 355,429.1 400.1,448 421.1,584.4 359.7,538.3 419.4,493.6 393.6,489.8 358.3,396.3 399.2,514.2 357.2,461.2 428.8,598.2 365.6,575.1 370.3,453.8 395.3,519.4 354,581.7 432.1,481.1 359.3,590.1 426.5,497 420.5,588.4 431.7,536.4 351.6,533.4 424.6,446.3 350.5,563.7 351.1,608.5 391.3,494.4 429.9,559.5 366,434.5 354.6,400.2 366.4,597 386.7,548.3 360.9,425.8 356,488.3 390.8,537.2 354.6,526.9 355.9,468.5 435.5,448.7 359.5,536.9 392.8,463.7 347.9,430.4 390.5,510.7 365.5,586.9 357.7,474.6 353.8,487.6 360.4,534.3 390,453.5 381.6,429.3 391.9,476.6 363.4,556.3 434.7,602.4 360,565.3 364.6,491.8 362.1,414 355.7,576.5 423.9,423 359,438.8 356.8,490.2 356.6,490.7 394.4,448.5 354.4,407 425.1,584.3 355.4,411.6 423.9,442.4 359,512 422.1,553.6 358.1,428.4 359.9,441.6 364.9,464.3 368.3,512.7 368.1,495.8 399.3,472 390,528.7 390,461.9 397.3,523.2 385.4,531.2 393.4,495.4 364.9,519.4 428.3,459.1 360.6,527.6 419.7,473.5 366.7,405.7 360.8,431.3 361.8,457.8 399.8,507.1 354.9,601.1 427.9,543.7 431.2,591.1 421.4,391.5 391.4,531.1 360.2,421.6 362.2,501.6 417.8,499.7 386.2,446.1 421.6,491.7 362.5,474.2 398.4,525.4 391.6,477.1 348,526.2 354.8,432.7 369.3,434.8 352.5,566.6 359.4,464 389.9,479.5 393,540.5 419.5,611.1 365.3,423 394.7,534.3 361.2,469.8 435.6,404 356,539.9 392.2,449.6 427.4,490.6 426.8,517.4 423.1,487.8 378.4,522.8 387.8,515.9 429.4,535.9 427.3,462.5 386.9,476.1 396.4,446.5 427,398.7 427.1,456 415.5,464.4 351.9,526.7 422.9,558.9 434.2,516.9 360.5,507.5 434.2,474.1 426.8,491.6 428,600.5 422.5,532.9 362.2,502.6 352.1,442.3"/>
<rect x="354.8" y="491.8" width="70.8" height="5.4" fill="#231f20"/>
<rect x="473" y="470.2" width="70.1" height="111.8" fill="#d3272b" fill-opacity="0.41"/>
<polyline class="pr" points="511.6,558.2 478.1,580.7 469.1,539.5 471.5,566.7 503,526 498.9,538.9 501.9,573.8 467.8,548.6 507.6,509.6 541.6,468.3 502.9,511.9 482.1,541.2 474.6,547.1 536.6,604.9 457.7,549.5 463,473.6 514,476.5 496.6,473.7 532.7,551.9 468.7,575.7 509.7,487.4 531,579.7 503.2,551.8 469.7,497.4 494.6,567.2 531.8,546.4 500.7,510.5 539.9,457.3 472.5,423.6 474.2,597.9 471,492.6 464.1,560.4 507.3,556.2 507.6,519.6 469.6,455.1 528,494.8 514.5,588.2 535.6,482 464.9,432.9 505.8,548.1 475.1,498.7 470.4,409.4 501.4,563.9 539.4,489.6 506.2,502.3 529.8,543.5 460.2,522.1 503,454.4 545.4,571.1 540.2,562.6 501.1,457.9 472.6,483.1 475.5,591.5 471,551.7 463.8,604.5 472.4,530.2 531.9,534.5 543.6,522 494.9,437.7 512,448.8 507.5,455.1 508.6,597.6 531.3,549.3 530.4,585.9 466.3,510.3 471.6,607.9 467.5,575.3 463,477.5 538.2,562.5 501.9,473.3 468.2,564.3 507.7,438.4 471.4,481.7 472.6,493 540.4,519.1 465.2,522.7 514.8,495.7 468.6,535.8 531.9,512.6 536.5,465.3 501,600.4 477,523.5 464,606.5 538.8,530.6 475.1,425.5 469.7,592.9 463.5,494.9 538.8,516.9 529.7,464.1 472.5,520.7 504.8,553 510.4,536.4 493.8,484.8 503.3,517.7 513.3,477.1 545.9,418 504.1,545.1 541.2,410.4 502.7,463.2 470.7,531.5 471.1,527.5 476,554.5 477.8,546.2 542.4,563.2 468.9,525.5 474.2,494.1 547.5,538 505.3,524.4 469.9,604.3 535,532.7 503.5,521.6 503.5,594.6 464.7,539.4 504.4,570.9 496.4,609.2 549.3,532.1 506.9,502.9 513.4,577.4 472.8,535.5 501.3,560.8 502.9,532.6 504.1,479.6 508.2,437.9 508.8,556.5 497.1,598.2 471.2,529.8 533.7,444.1 511.4,595 461.2,501.5 470.6,499.4 499.8,458.4 472.3,506.6 467.3,574.8 468.2,411.6 474.9,550.6 499.8,496.4 547.9,431.2 546.8,454.5 526.1,584.9 483,558.3 500.7,508.6 476.9,584.9 508.6,457.6 474.6,439.7 467.9,559.1 542.2,571.6 469.5,472.8 473.6,556.9 502.7,500.6 466.1,577.8 501.5,522 471.3,587.1 464.1,506.4 506,543.6 470,458.8 463.3,445.7 470.1,589.5 534.2,600.8 542.1,580.7 471,585.2 507.1,488.5 533.3,493.2 544.7,560.9 503.7,608.3 474.2,527.9 505.3,627 502.1,511.4 464.8,407.9 506.6,536.6 513.2,545.4 505.1,443.5 514.5,603.8 502.4,453.5 462.2,577.5 507,479.8 541.3,398.2 500.3,569.8 535.2,567.2 496.8,485 537.8,454.9 508,459.3 506.1,602.6 540.8,395.5 498.3,545.9 473.7,405.6 472.3,588.7 534.5,579.4 493,495.6 470.4,560.6 531.6,572.2 546.2,585.3 481.4,584.1 506.9,592.1 508.3,515.5 477.1,501.7 463.5,587.8 477,485.6 465.1,601.6 533.6,494.4 471.5,480.9 503.8,439.2 493,478.2 505.8,584.5 479.4,544 473,408 468.7,544.3 471.1,545.6 482.8,487.2 482.3,572.1 535.5,489.1 501.8,459.8 533.9,486.4 467,564.3 483.3,540.8 504.7,535.8 497.5,567.5 470.9,549.1 467.2,438.1 496.7,501.9 471,439.4 499.4,503.4 463.5,501.3 466.9,495.2 503,523.1 471,533 471.9,503 513.3,588.6 479.4,565.7 471.2,478.7 461.3,574.8 463.2,563.4 512.4,507.2 536.1,534.1 538.6,426.9 476.3,420.4 514.6,598 509.8,505 494.8,511.9 467.5,583.6 477.1,492.9 529.3,523.5 496,500.8 534.9,505 497.1,455.5 535.7,522.8 532.7,494.6 538.3,475.3 479.3,515.1 536.1,557.9 470.4,535.1 499.4,423 529.9,570.5 536.7,536.2 505.8,554.6 502.8,519.6 481.4,441.4 473.2,533.5 528.1,425.8 494.4,455.9 464.1,594.2 545,493.2 473.1,583.4 509.9,511.6 475.7,570 503.4,596.9 503.9,571 538.6,558.7 531.2,532 500.4,440.8 479.4,459.9 471.5,516.5 497.1,552.5 462.3,561.9 472.5,588 501.3,526.2 473.7,515.8 506.1,505.2 540.6,495 464.1,601.8 497.4,508.9 473.9,427.6 539.1,404.5 530.5,573.9 499.9,560.8 539.7,439.4 478.2,482.9 510.5,473.4 535.1,526.4 474.5,450.3 502.6,449.8 537.3,557 532,562.6 463.2,599.2 539.3,519.9 536.8,589.9 500.6,575.9 460.1,490.6 537.9,425.6 469.7,540.9 527.9,391.3 511.6,505 505.4,481.8 534.6,535.3 544.6,534.8 543.6,521.2 474,483.5 532.1,530.2 535.6,510 469.3,576.3 476.7,506.1 543.2,432.1 540.8,513.4 497.1,546.3 510.5,495.9 466.3,570 511.4,444.1 538.4,414.5 528.5,613.8 463.1,505.2 468.5,571 473,608.3 475.4,472.7 468.2,596.9 476.1,469.5 504.7,495.1 531,531.6 511.2,593 548.4,510.2 537,615.4 464.4,531.7 464,488.1 540.4,479.4 537.5,522.5 505.9,485.1 494.9,533.6 508.7,565.8 467.3,454.3 506,578.6 539.3,466.7 480,602.7 471.7,591.5 526,506.2 466,587.7 531.2,552.7 542.8,477.5 540.1,470.9 493.3,520.8 533.2,425.9 513.8,577.7 467.5,607 504,506.4 473.6,474.4 485.3,584 477.1,524 469.1,598.5 514.6,552.2 502.9,583 462.8,605.4 537.5,500.2 529.1,450.5 497.8,508.4 466.8,569.5 541.9,516 513,437.8 466,524.3 466.6,553.8 532.6,418.4 533.9,475.8 465.9,600.3 503.1,518 527.3,543.4 481,587.2 500.3,570.2 538,518.2 477.6,455.2 513.2,490.1 495.1,473 531,420.7 511.7,547.9 506.9,463.8 460.2,602 534.6,565.1 514.8,528.3 540.3,480.6 545.3,520.9 538.5,545.3 535.4,511.3 506.8,559.9 470.2,605.7 469.7,599.2 541.5,602.6 540.5,492.7 459.7,503.1 505.3,481.5 535.5,542.4 473.3,408.7 482.8,461.7 473.9,544.7 502.1,508.1 481.5,595.2 473.6,581.1 500,511.4 544.7,463.8 476.1,602.9 483.5,565.9 511.4,571.4 525.6,541.3 473.1,594.2 466.2,595.1 530.8,507.8 496.4,488.6 470.9,551.2 503.6,425.4 546.3,471.1 548.1,514.3 503.9,546 474.1,465.2 465.4,609.1 498,525.3 471.9,518.7 498.6,511.9 478.6,596.4 500.4,441.6 473.2,587.8 499.5,539.5 534.3,439.1 479.4,582.6 509.6,592.1 472.4,392.2 508,522.3 468.3,532 461.1,462.6 465.1,571.1 461.4,521.3 507.1,514.5 511.4,483.4 470.7,413.9 466.2,596.7 480.4,489.8 471.1,598.7 506.4,436.2 531.4,577.3 544.4,555.5 476.2,564.5 514.2,543.5 474,586.4 502.7,439.1 527.1,525.7 539.3,531.2 546.8,421.4 469,560.3 533.7,549.1 471,516.1 527,440.6 478.2,446.8 539.7,514.7 466.3,567.2 481,581 475.3,555.6 475.2,559 494.8,398.9 471.1,608.7 508.5,528.4 505.6,527.2 503.5,523.2 470.9,420.2 500,443.4 533.7,537.9 532.6,565.7 502.2,453.8 542.7,578.1 536.7,417.9 546.6,577.3 494.3,550.9 461.1,559.4 504,513.1 535.2,480.6 534.1,401.7 510.6,551.1 531.9,442.9 500.1,578.9 466.6,593.5 502.2,545.9 471.6,532.4 470.7,514.7 505.8,532.8 547.2,581.3 493.2,584.2 479.1,494.7 547,431.5 483.3,580.4 480.2,607.9 468.6,578.4 461.5,587 546.3,547.3 508,485.1 527.2,540.6 534.3,510.1 473.4,565.7 531.2,486.8 476.7,584.9 538.9,520.4 508,437.8 465.7,591.4 467.4,491.3 475.6,523.5 533.9,482.9 506.2,587.8 462.5,588.5 478.8,399.7 496.5,494.8 471.4,426.6 481.3,579.9 512,560.4 537.6,399.2 504.6,580.8 496.5,518.9 531.9,412.8 508.5,550.3 537.8,492.9 475.1,510.6 547,573.2 539.5,508.6 483.5,494.6 540.7,464.5 536.3,473.6 538.1,518.3 535.1,428.6 541.4,595.1 473.7,593 476.2,468.3 478.7,558.4 475.1,539.6 543.7,539.6 464.3,554.8 476.4,400.9 534.1,549.8 499.8,458.6 469.5,601.1 464.4,553.9 510.2,504.3 463.2,527 497.3,449.8 494.4,500.7 465.1,465 467.5,541.1 535.5,504.9 475.7,575.9 513.2,593.7 498.5,525.6 461.9,559.6 537.3,550.9 480.8,407.9 505.3,585.3 464.4,577.8 462.8,528.5 541.5,417.1 512.2,475.3 496,555.3 480.4,601 476.4,484.5 474.1,503.8 542,551.5 536.5,519.4 538.6,597.2 511.4,531.9 508.6,501.9 500.5,521.3 501.4,409.1 465.3,583.9 466.2,509.3 475.5,576 459.9,552.1 503,463.7 479,568.3 468.5,529.3 463.3,505.6 535,476 463.4,489.5 472.6,551.4 503.1,521.8 499.9,534.1 509.2,485.2 473.6,534.8 532.9,566 507,490.3 505.8,426.5 469.5,540.5 502.6,548.3 505.9,447.1 475.4,495.1 468.4,606.2 477.5,574.4 499.4,588.7 514.2,602.9 464.7,498.7 513.1,417.6 463.2,590.1 539.8,393.8 511,541.7 538.1,575.7 470.8,603.5 478.2,588.6 483.2,451.5 499.1,492.2 462.4,480.4 470.8,583.9 539.8,561.5 467.5,542.8 508.5,499.4 539.2,444.6 479,444.3 465.1,595.7 474.7,570.9 508.5,548.9 500.6,462 511.1,492.7 465.8,536.4 504,541.7 498.8,543.1 504.5,458.4 501.1,433.1 514,463 478.6,485.1 480.6,567.7 533.4,543.4 509,421.6 504.1,455 500.3,473.9 468.5,504.4 470.1,565.8 536.4,475 540.1,479.5 475.9,580 471.6,534.1 480.1,487.3 512,459.7 464.5,573.2 482,562.9 470.6,502 478.3,590.1 466.9,512.8 535,558.6 510.7,582.1 511.8,480.8 527.9,549 502.3,598.6 459.6,541.2 476.1,579.6 510.1,547.7 469.9,478.2 463,588.1 473.5,491.1 542.8,466.9 476.4,553.8 461.3,447.1 501.4,448.1 482.3,498.1 509.6,603.8 546,450.2 475.1,553.7 533.6,548.8 512.4,503.2 544.7,489.5 495.2,495.5 497.6,463 540.8,521.3 459.5,427.4 471.4,600.2 508.7,540.3 463.8,585.9 502.7,488.7 478.9,569.4 500.3,527.6 529.7,561.9 475.1,445.7 474.4,539.8 493.1,470.2 532.7,557.2 546.4,462.3 472.9,598.7 473.9,601.6 466.8,596.4 505.9,448.8 477.3,586.1 481.8,605.6 469.3,541 507.6,495.9 501.9,553 463.8,548.9 526.9,595.4 504.1,547.4 511.6,582.8 497.8,570.5 466.5,576.8 532.5,433.5 457.7,575.7 472.4,609.7 502.9,527.1 493.8,598.5 535,499.7 506.6,576.9 542.1,404.4 480.9,479.5 534.3,496.6 474.4,482.3 471.1,505.2 525.5,498 501,446.8 480.8,543.2 528.5,507.2 479.3,496.5 478.5,458.5 481.2,512 508.2,499.6 461.2,601.9 505.9,450.2 530.7,597.5 508,502.8 510.5,485.3 466.1,548.2 468.5,606.6 542.2,494.6 532.6,466.4 544.8,561.5 465.2,461.9 529.1,508.5 461.2,541 497.7,503.4 528.4,556.6 481.6,521 546.1,503.3 481.7,485.9 472.8,487.8 504.8,495.4 471.2,534.7 502.9,529.6 475,601.8 476.9,477.2 536,523.9 466.6,562.2 502.8,518.2 527.8,427.3 502.7,608.6 479.3,499 498.5,541.3 467.2,589.5 538.3,461.8 475.2,512.8 482.5,507.7 509,533.7 534,582.4 465.7,561.8 498.8,494.3 480.3,503.4 481.7,557.7 470.7,606.5 500.8,450 483.3,588.9 507.1,500 504.6,584.7 510.6,496.1 473,446.5 472.3,577.9 533.6,517.1 474.8,537.4 531.5,541.3 474.1,420.7 467.9,566.8 533.3,598.3 468.8,432.1 537.9,611.3 528.6,542 468.1,564.3 495.5,477.4 469.4,598.6 504,559 478.9,554.9 498,494 481.9,534.5 471.3,515.8 473.7,491 469.2,609.3 501.2,578.2 537.6,494.2 464.8,615 479.8,555.5 500,552.5 483.1,413.5 515.6,508.5 544.6,529.8 534,418.6 463.3,568.2 462.4,523.2 474.1,549.4 471.6,589 544.8,536.8 467.6,506.6 546.9,488.7 475.8,606.3 471.3,574.5 473.9,592.7 496.6,554.2 478.9,488.6 535.8,582.7 477.7,565.7 528.3,434.2 494.7,510.4 513.8,546.4 481,556.5 545.4,441.8 482.1,526.4 504.3,467.6 509.8,590.3 504.4,486.2 532.8,528.1 526.5,599.8 461.3,392.3 474.2,403.8 474.1,478.3 538,516.7 512.7,560.3 501,599.5 504.1,588.3 528.8,562.6 472.2,601.5 474.2,538.6 497.9,547.1 479.3,507.1 468.3,492 472.8,520.8 510.4,468.8 537.8,521.5 501.9,493.1 468.5,595.6 502,443.6 537.4,466.8 468.5,551.1 544.2,421.3 472.5,405 472.4,521.4 502.6,496.7 464.8,496.2 509.4,527.8 536.7,566.4 482.7,411 466.7,525.3 466.4,577.3 461.1,513.7 483.5,501.4 506.5,481.2 526.2,454.2 461.2,509.5 512.1,588.5 472.7,550.2 505.1,398.1 507.5,586.8 474.2,446 509.1,529.6 462.3,550.5 548,517.2 501.8,561.1 540,554.7 464.2,602.6 493.5,456.3 475.4,563.1 465.7,591.5 506.6,401.3 509.6,521.1 471.6,586.9 538,536.1 513,561.2 541.9,431 470.8,556.8 537.3,485.5 538.6,534.8 470.3,532.6 480.5,532.7 506.3,484.6 539,504.9 477.1,515.3 504.3,606.9 514.9,522.8 535.7,532.6 528.8,598.3 476.9,505.8 471.1,559.2 470.4,518.5 494.4,594.9 470,571.1 534.4,579.5 471.1,575.2 535,482.4 533.8,532.5 510.8,551.2 467,605.4 510.3,514.9 502,584.5 539.3,579.2 472.5,561.4 470.8,558.7 506.2,552.4 539.3,450.5 539.4,484.4 496.2,580.1 539.8,436.9 469.1,395.5 470.7,485.5 506.8,530.9 514.9,521.7 498,504.4 476.1,476.9 513.8,502 530,516.5 543.5,523.7 513.5,566.4 501.4,597.4 472.9,598.1 472.3,576.2 462,484.6 501.3,570.1 526.8,518.4 469.4,486.2 504.3,594.5 533.2,396.4 468.7,445.2 462.2,574.4 472.6,571.1 537.4,494.2 476.7,594.3 510.8,582 502.4,558.5 505,551.2 491.5,523.1 481.5,522.7 477.8,462.2 514.1,600.1 467,458.3 529.9,493.7 501.8,549.3 541.3,449.9 547.8,507.7 533.6,564.2 540.1,461.5 526.9,551.2 541.2,520.4 481.7,529.3 462.8,502.7 510.9,490.4 527.7,461.4 498.1,581.6 494.9,589.9 468.5,412.8 479.7,402.9 469,407.2 540.2,566.7 498.3,550 476,540.1 473.8,590.8 531.2,530.3 538.9,494.4 507.5,538.7 538.2,398.8 478.8,430.7 468.6,593 509.5,519.7 504.9,547.2 530.7,581.4 511.7,542.6 541,493.6 507.5,536.7 526.2,485.4 493.1,444.8 472.4,471.1 505.5,447.6 528.2,531.3 478.1,428.4 476.1,579.6 473.6,550.9 541.3,428.5 507.7,474.6 468.9,411.5 464.3,522.2 474.4,513.4 465,583.4 469,608.1 472.6,503.8 468.3,573.9 466,456.9 496.5,549.4 536.6,573.7 479.6,592.5 508,554.1 534.7,517.9 541.9,603.2 474.3,522.7 511,454.2 469.5,468.8 477,501.1 476.7,502.9 482.8,585.8 494.9,517.1 476.6,414 478.2,422.9 533.7,448.2 459.5,578.3 482.7,505.7 508.6,568.4 469.7,543 508.8,495.3 534.5,571.8 479.3,532.3 471.9,537.2 471.7,526.6 536.3,507.4 463.6,536.3 503.7,575.2 477.1,516.9 481.3,433.1 480.7,602 532.7,539.1 500.6,548.1 506.5,624.7 468.9,450 492.9,481 472.4,534.2 542.6,458.4 474.1,608.6 467.4,486.4 471.3,489.8 467.6,572.8 480.8,538 460.9,447.3 541.7,615.4 496.6,492 498.5,538.4 509,455.6"/>
<rect x="473" y="523.4" width="70.1" height="5.4" fill="#231f20"/>
<rect x="581.2" y="438.7" width="69.6" height="108.2" fill="#d3272b" fill-opacity="0.41"/>
<polyline class="pr" points="635.2,528.8 616.5,482.5 609.9,531.2 571.6,453.4 579.7,444.2 573.1,495.4 585.5,487.6 649.2,502.6 572.5,496.6 647.1,545.2 581.7,491.1 652.2,431.9 570.2,462.6 582.3,465.6 648,482.9 619.1,530.9 604.7,518.5 610.3,446.8 618.1,422.8 581.6,438 621.1,457.2 570.7,429.8 636,534 590.1,470.8 645.3,500.4 587.3,574.5 579.3,489.3 614.4,515.2 587.4,508.1 580.1,515.9 641.8,547.7 618.7,502.3 614.9,489.4 654.4,516.8 581.6,479.2 639.4,557.8 616.6,500.6 640.8,419.3 637.6,404.7 614,552.5 643.2,475.3 612.1,503.1 584.3,457.7 615.1,532.8 618.6,454.7 655.5,528.5 574.7,514.3 653.2,534.8 613.3,492 571.9,460.6 609.3,500.5 653.5,432.3 643.1,564.4 584.3,530.9 622.4,432.9 655.6,452 650.2,448.3 640.4,513.3 616.3,476.4 643.5,592.1 610.3,454.8 613.9,408.4 575.6,485.3 647.3,597 608.3,499.8 621.2,466.2 588.1,453.4 651.1,434.5 639.6,546.9 612.1,544.6 613.5,475.1 611.4,407.4 651.9,535.2 607.9,504.8 583.7,443.9 616.7,533.9 645.9,425.2 614.4,479 604.6,402.6 645.3,396.8 613.6,496.1 619.1,436.6 638.6,506.3 580.8,477.7 582.1,396.5 645.1,433.1 586.9,584.5 622.2,452.1 613.4,532.8 584,470.5 577.5,425 639.6,475.7 646.1,455.1 574.1,496.7 649.5,457.5 617.5,497.3 635.4,526.2 574.9,468.5 608.6,528.4 583.8,494.6 611.8,561.1 646.9,505.1 637.2,407.9 620.9,551.7 649.8,583.4 613.4,470.8 603.1,448.4 577.2,482.7 642.7,470 575.1,456.1 579.2,501.8 646.1,429.1 579.3,448.5 643,485.5 643,497.5 648.2,424.8 651.3,493.1 615.4,416.1 613.2,576.1 640.6,546.6 650.7,436.9 580.8,521.3 637.1,516.6 653.4,504.9 588.7,439.2 619.8,474.9 618,476.7 607.4,566.7 609.2,414.4 637.6,531.9 584.8,425.6 611.4,527.9 621.5,507.7 647.9,547.1 580.3,469.1 637.5,451.2 643.3,501.6 577.7,467 584.3,541.9 608,452 584,497.1 609.4,410.4 581.6,458.2 650.5,462.1 641.8,533.8 603.2,504.6 638.6,486.6 581,456.6 590.1,436.3 648.3,484.7 615.4,595.2 605.6,490.1 639.4,407.8 583.1,497.8 647.9,440.4 638.6,429.7 585.8,491.2 612.4,517.9 580,497.8 657.4,603.1 616.5,482.7 577.8,412.5 610.2,502.2 573.3,526.2 602.3,493.9 591.1,422.9 581.6,468.8 577.8,529.6 649,548.6 591.1,434.3 580,472.7 647.4,446.4 604.8,491 642.1,516 621.6,486.4 619.8,457.7 645.2,547.1 576.2,473.7 621.1,413.4 650.2,574.1 581.9,444.8 620.4,434.9 612.5,486.4 615.3,490.4 577.6,546.7 616.3,574.3 647.9,527.1 617.3,475.8 641.3,554 605.1,505.8 644.4,445.4 644.7,447.3 607.1,579.7 641.5,411.3 590.2,523.7 649.7,440.5 610.3,520.9 609.1,533.7 641.2,545.8 617.8,603.5 610.3,493.6 620.5,589.5 608.9,580.9 580.6,545.9 646.5,402.3 623.7,583.4 577.8,430.7 644.4,451.9 602.5,503.8 656.6,531.6 648.1,560.8 579,479.7 604.3,474.1 624.3,580.6 651.9,538.3 645.5,391.4 576.4,402.6 615.9,509.3 638.2,416.2 582.7,482.1 611.5,462.7 605.5,492.1 623.5,492.9 611.2,452.2 624.2,523.2 655.3,444.4 655.7,560.1 635.4,515.6 639.3,395.7 653.4,468.6 577.3,452.9 623.1,473.4 577.2,458.4 574.5,427.2 572.4,423.7 582.2,440.4 634.9,522.3 569.9,488.6 583.3,461.8 646.9,387.3 607.9,439.2 646.3,494 602.8,442.9 652.3,515.7 579.6,494.7 642,452 610.4,417.8 654.2,546.8 578.1,411.7 646.4,507.2 618.8,580.6 644.5,443.2 608.2,514.4 589.9,463.1 602.9,568.4 578.2,459.2 640.1,459.7 584.2,497 637,590.3 651.4,506.1 613.9,543.2 621.4,414.4 615.2,591.2 616.2,577.2 614.3,462.8 650.8,564.9 579.4,589.8 614.1,562.3 587.7,437.5 606,513.3 623.7,465.7 624.4,528.9 605.3,500.4 582.6,499.8 583.8,489.3 620.8,515.6 641.7,552.2 579.5,444.4 652.3,422.9 616.4,447.5 580.1,495.2 621.3,488.8 619.6,552.7 588.6,498.5 590.5,462.7 579.7,474.2 615.8,495.8 616.8,527.5 583.1,595.4 577,481.6 643.8,427.3 614.9,491 640.5,411 590.1,463.4 643.1,391.1 655.2,572.3 586.3,469.3 651.3,400.7 607.4,508.9 651,490.7 580.7,447.6 615.8,403.2 648,511.8 621.3,510.8 623.9,490.2 590.6,424.2 641.2,431.8 608.3,424.1 622.4,407.4 634.6,415.9 613.8,401.4 579.9,423.6 639.2,540 650.9,464.6 586.1,482.2 643.7,435.9 591.5,477.9 583.8,463.4 650.7,427.9 650.4,502.5 644.2,456.1 607.6,443.8 579.7,501.5 580.6,415.6 613.8,421.1 646.3,601.8 581.9,572 642.4,424.4 611.5,478.3 647.9,490.5 612.3,445 613.1,565.8 643.8,528.4 640,518.5 618.4,482.1 652.7,451.9 580.5,480.2 573.1,460.3 606.4,507.5 610.4,491.2 646.8,500.1 581.3,422.9 643.7,533.1 584.2,532.2 646.8,518.9 610.5,462.6 613.5,413.2 622.7,436.2 577.9,435.3 646.6,455.4 616.6,427.6 650.1,505.6 639.1,436.9 642.9,471 641.7,397.3 649.2,480.3 622.5,600.5 585.7,460.9 576.9,507.1 617,465.3 579.3,463.9 605,571.4 582.6,407.9 652.5,431.8 612.5,534.4 584.3,611.8 618.7,490.5 583,518.7 637.2,525.5 570.8,494.4 650,480 634.3,489.8 643.2,581.8 580.2,407.4 656.3,457.4 643.5,536.7 585.3,600 607.7,452.4 586,427.9 612.6,495.3 603.5,567.4 580.6,432.9 581.7,544.2 580.5,457.6 644.7,525.9 656.3,474 616.6,422.8 581.3,548.9 637,561.6 611.8,563.4 608.8,545.7 616.2,484.6 586.8,564.5 647.6,459.1 608.5,477.2 576.3,417 615.6,592.5 610.3,536.1 656.9,516.9 616.5,476.4 610,480.7 617.3,434.3 572.2,491 646.8,451.2 611.4,405.8 606.3,466.8 604.3,504.4 637,414.8 650,407.3 609.9,465 614.7,431.4 587.7,534.9 602.9,521.8 640.1,417.1 611.7,547.5 642.7,593 615.9,495.7 575.6,485.8 587.3,420.3 647.9,401.3 578.2,444.5 620.7,476.6 651.7,422.4 609.2,510.9 638.2,523.2 569.9,493.3 653,472.1 649.7,549.1 647.1,493 635.4,529.9 621.7,441.2 579,453.2 572.4,433.1 602.5,442.1 603.3,495.3 653.4,499.2 646.4,580.9 646.7,461.6 647.9,453.8 615.3,467.3 648.6,411.4 618.2,573.4 611.1,445.4 574.9,467 611.5,502.6 636.2,505.6 654.4,527.6 616.8,510 621.2,462.8 619.3,503.3 570.2,528.3 639.9,454.6 638,424.4 636.2,412.9 611.3,418.7 579.4,471.1 623.3,592.8 641.5,460.4 655.8,466.9 644.7,431.5 587.9,549.7 647,533.4 604.6,500.7 604.3,454.5 655,520.9 603.3,481.4 608.4,445.7 616.1,502.4 587.1,484 645.8,489.9 617.5,473.8 579.6,565.9 614.2,476.9 585.3,448.4 617.4,484.7 649.5,556.9 584.8,500.8 643.5,436.5 613.5,475.2 603.6,590.5 648.8,544.8 614.5,425 636.9,437.1 645,479.6 615.1,579.2 639.4,466.6 643,524.8 575.1,474.3 578,483.3 577.8,483.8 650.3,452.3 608.5,587.3 590.4,461.3 647,410.3 572,432.5 613.7,424.4 640.3,391.9 585.6,422.4 616.9,500.8 581.8,533.9 651,437.3 641.1,419 619.8,422.4 622.6,544 642.8,487 586.6,459.1 615.5,450.9 587,505.4 578.1,475.5 617.2,554.5 652.5,576.5 645.7,551 621.2,596.4 620.8,439.5 586.5,436.2 609.7,481.6 609,419.5 648.6,502 651,396.2 607.2,432.2 586.8,422.9 650.2,476.4 651.7,503.9 615.7,551.4 614.3,422.8 647.7,490 622.1,486.4 582.4,464.8 642.8,415.7 636.7,475.9 578.9,455.1 613.3,447.8 576,578.8 581.1,487 602.2,537.2 604.7,514 637,499.1 642.1,556.9 610.5,470.9 615.4,514.4 570.6,499.1 580.2,594.1 615.1,490.2 648.7,496.1 583.5,438.5 651.1,425.8 622.4,496.8 635.2,516 607.2,543 647.8,527.6 656,494.1 650.3,439.7 584.5,480.5 603.6,460.6 615.2,429.8 577.7,447.6 619.5,559 622.3,560.9 644.6,433.5 613.2,551.1 646.4,437.8 576.9,434.9 580.5,570.9 613,482.4 587,478.3 656.5,541.3 610.1,523.2 610.9,504.9 646.5,438.1 609.3,503.6 618.2,527.4 644.9,490.4 641.9,499 650.4,497.5 603.7,427.4 621.8,415.3 578,509.7 646.3,446.8 604.8,439.6 637.7,491.3 582,430.4 605.8,560.1 610.8,526.2 611.9,509.3 589.3,436.7 647.9,517.7 649.6,497.2 607.2,502.5 612.3,509.7 647.1,450.5 654.9,517.2 623.1,446.7 621.7,429.7 614,406.5 645.1,594.2 608,590.9 616,555.5 612.5,535.3 648.8,496.7 614.9,424.2 634.6,520.9 577.5,456.4 611,587.1 581.6,500.2 623,564.2 619.5,458.4 642.7,458.2 651.4,602.5 574.1,408.9 572.7,429.5 614.4,451.8 614.6,473.4 574.6,475 621.2,526.5 585.7,496.3 652.2,536.2 646.4,460.8 603.1,487.9 615.8,468.2 606.4,446 602.6,595.1 607.7,588.1 611.4,577.3 651.7,438 636.7,487 652.9,545.1 640.7,466.9 619,416 645.4,472.8 573.5,432 572.9,461.2 646.1,542.7 640.4,450.7 577.7,487.3 638.3,488.3 601.9,478.9 643.1,447.6 583.3,473.4 586.4,589.7 585.9,477.3 614.5,469.4 581.1,447.5 621.4,589.7 646.2,523.1 577.3,428.6 643.9,465.9 611.7,539.6 641.8,399 620.5,468 613.5,476.7 643.1,542.3 612.3,479.8 571.3,491.5 612.5,460.2 610.2,556.1 650.6,541.4 644.6,455.4 574,429.1 579.4,420.2 580.4,462.7 610,487.1 640.1,446.3 652.3,491.7 575,470.4 576.2,434 615.3,466.7 574.5,536.8 654.3,538.4 583.6,433.5 580.2,445 644.7,449.3 612.2,486.9 588.3,476.7 604.8,563 642.5,480.2 618.4,588.8 635.7,523.4 572.8,467.6 605.5,480.7 613.7,585.8 571.6,439.9 577.4,426.1 640.9,415.3 642.7,484.4 584.1,496.1 639.3,489.3 616.2,562.6 653.9,425 612.4,491.7 584.9,432.1 639.7,466.8 612.8,493.3 616.7,562.4 652.3,389.7 577.6,428.6 607.4,506.5 622,455.3 587.9,497.1 578.4,450.5 609.7,440 583,473.2 606.8,461.6 570.1,611.3 577.5,464.6 604.3,477.6 639.7,411.6 635.5,467.2 652.1,592.7 586.9,430.2 640.9,428.5 647.3,408.5 655,589.8 575.9,409.5 649.7,471 586.9,544.2 620.9,511.1 603.7,570.6 619,450.5 616.3,463.7 572.3,442.5 651.5,445.7 616.5,432.1 643.7,572 583.9,462.8 614.9,505.6 648.1,566 580.2,460 582.6,468.9 607.5,424.2 588.9,447.6 654,581.5 570.8,403.7 608.3,490 643.9,425.1 637.1,435 586.5,522.4 602.7,453.1 609.7,547 586.8,402.9 580.6,406.2 643.5,409.8 588.4,440 612,550.9 648.6,421.2 574.5,507.9 576.8,423 620.9,589 612.6,482.8 641.2,550 585.4,409.3 651.9,430.2 573.4,394.9 603.3,494.3 579.1,463.9 572.9,488.8 590.4,602.3 618.7,479.3 643,551.3 615.9,473.9 612.5,477.5 585.5,497.3 620.3,490.4 613.7,438.6 576,431.5 645,537 618.8,489.1 582.4,488.6 643.1,439.9 583.3,460.1 612.9,420.9 576.5,454 620.3,512.6 644.1,457.1 611.3,406 590.8,472 567.9,442.9 581.2,396.9 617.6,546.7 616.7,430.9 581.5,471.8 581,492.9 650.5,572.6 644.5,450.7 623.1,604.6 582.4,510.8 577.7,580.6 576.5,481.9 649.9,527.3 642.6,449.2 580.2,593.3 650.3,484.3 615.2,446 640.2,401.4 649.6,401.8 581.5,435.6 652.1,389.7 604.7,436.6 607.6,451.3 579.7,472.1 578.7,492.2 614.8,585.3 638.5,558.1 639.9,561.5 646,561.5 637.3,425.1 609.5,418.3 636.4,513.9 640.2,423.2 624.2,415.8 611.1,465 574.2,477 578.5,487.6 608.8,488.4 611.3,597.7 573.1,524.6 615.7,582.9 656.9,584.1 580.2,482 608.8,492.2 647.9,539.1 581.9,463.3 634.7,549.2 622.5,460 574.9,398.2 653.5,445.5 580.6,482.5 638.3,452.3 616.9,525.9 581.3,539.6 646.1,542.2 570.1,527.3 616.1,464.5 617.1,522.7 635.7,395.5 638.4,584.2 586.3,410.6 576.4,480.3 646.5,535.3 648.8,527.8 614.8,465.4 642.2,595.8 584.2,530.1 641.2,456.5 583.5,407.6 647,399 644.1,502.2 571.8,403.4 647.8,579.9 616.6,468.4 612.8,503.3 620.1,538.3 574.3,409.9 579.9,475.1 620.1,429.1 615.7,459 643.7,463.4 576.5,462.4 634.7,558.8 609.2,489.5 606.4,407.8 622,438.1 647.2,527.3 645.2,480.4 575.5,584.9 606.1,437.4 653.9,597.7 575.2,452.7 569.6,481.4 613,491.5 624.2,552.6 643.3,459.8 608.6,407.6 581.4,481.2 636.6,541.2 570.3,457.8 578.3,420.3 647.3,421.4 617.3,481.1 652.3,461.7 583.2,481 649.1,596.8 617.5,440.6 623.2,495.4 611.9,505.6 582,447 605.8,456.7 578.3,538.6 641.3,488.9 607.2,503.7 615.3,410.9 608.4,414.3 645,572.5 654.7,414.2 587.6,463 580.7,464.2 645.5,482.5 647,571.8 648,577.5 579.3,574.3 610.6,417.6 612.6,431.9 579.5,406.3 584.9,507.7 613.2,482.4 654.4,501.6 587.2,483.6 647.6,565.3 588,426 614.1,413.5 580.8,504.5 570.2,436.4 647.5,545.7 586.6,610 610.5,472.9 581.3,491.6 575,464.2 646.4,455.3 642.4,538 615,499.5 581.5,475.2 656.9,420.3 615.5,499.2 591.4,490.1 587.9,593.3 623.5,579.1 610.3,512.7 607.3,537.4"/>
<rect x="581.2" y="492" width="69.6" height="5.4" fill="#231f20"/>
<rect x="687.8" y="479.3" width="71.2" height="106.7" fill="#d3272b" fill-opacity="0.41"/>
<polyline class="pr" points="702.4,513.3 696.9,442.8 727,489.4 695.6,570 762.5,520.8 761.3,559.1 755.5,614 755.9,428 756.4,569.9 687.2,552.8 694.9,504.3 758.1,589.7 762.9,494.7 732.6,561.8 688.5,501.6 758.3,577.8 728.9,480.5 685.6,524.2 755.9,569.3 703.5,514.9 727.9,524.1 764.9,585.9 727.2,482.9 753.1,525.1 692.5,492 769.7,598.6 756.2,498.2 717.4,546.5 694.3,496.9 758,472 765.1,478.1 719.8,469.8 695.2,549.3 766.4,601.4 699,491.4 768.7,607 717.8,424.1 687.2,530.7 687.4,555.8 697.7,400.4 694,541.2 753.8,517.1 754.1,568.8 760.1,584.2 766,605 722.2,582.2 760.3,551.9 759,561.2 757.7,594.5 683.4,564.7 762.4,606.7 767.5,530.7 752.4,487.8 724.5,466.7 754.6,508.3 726.1,480.7 686.7,510.6 769.4,602.8 758.1,404.2 759.4,433.1 716.5,545.3 696.3,511.3 697,478.8 761.5,393.1 768.5,470.9 687.6,531.5 721.2,575.7 749.6,580.5 748.1,507.5 691.8,510.4 753.3,505.9 727.7,512.3 698.8,542 697.6,517.2 748.8,393 755.9,520.4 750.6,600.6 715.9,472.8 764.7,543 685.6,555.9 753.5,605.9 692,491.3 757.3,568.1 685.7,432.9 686.7,455.6 762.2,490.2 728.7,489.9 769.5,546.1 746.6,490 762.7,579.8 768.1,607.5 751.4,446.6 750,541.4 759.1,472.5 722,538.4 747.7,514.4 727.5,562.9 718.4,435.8 762.2,555.1 692.3,580.9 761.3,580.6 734.8,491.1 768.5,464.8 765.9,593.5 724.4,519.1 715.1,540.2 722.1,539.1 765.3,544.5 766,594.5 763.2,508.9 698.6,462.3 695.5,563.7 760.3,599.7 733.2,565.7 692.5,547.1 758.6,481.5 747.9,523.6 762.2,564.5 770.6,473.7 759.3,510.6 763.3,553.9 695.2,515.9 761.9,498.2 762.4,508.9 687,523 690,597.6 719.7,598.9 733.2,572.7 758.4,567.5 766,555.7 761.3,591.8 750.5,597.8 725.2,540.6 761.2,468.8 750,485.7 731.3,488.6 755.1,610.9 732.1,397.4 725.8,553.2 686,400.8 686.1,582.5 729.2,524.9 699.5,594.3 764.7,495.2 689.6,542.4 756.9,538.9 693.2,559.1 752.1,495.5 728,568 750.3,536.6 696.9,490.3 761,548.4 751.7,443.4 763.4,466.5 732.9,544.5 693.8,465.1 687.8,578.4 765.3,538.6 766.2,586.4 760.8,524.5 753.4,542.5 758.6,603.1 765.8,570.1 758.4,599.6 691.6,510.7 720.5,567.2 768,565.2 719.8,580.9 758.6,392.1 687.7,575.2 760.7,571.9 753.7,554.9 697.9,543 747.7,591.2 748.4,498.3 750.7,608.1 754.3,449.9 768.9,488.5 767,523.5 767.5,515.4 767.6,503.5 757.3,483.4 723.6,623.5 755.1,419.5 725.8,465.1 760.4,505.7 761.6,559.5 754.1,613.4 752.3,450.3 693.5,528.9 695.2,557.6 758.1,391.3 753,415.7 692.9,451.8 761.1,585.3 701.7,487.2 758.8,538.8 731.5,515.3 726.6,498.2 757.1,565.2 750.7,591.4 761.5,569.6 724,534.1 697.1,517.5 751.6,474.4 768.1,520.1 761.4,605.2 755.5,556.3 766.5,549.4 759.9,543.1 753.6,596.8 751.8,509.6 696.4,515 760.5,487.9 755.7,541.7 752.8,553.7 684.7,580.4 755.8,528 704.3,521.5 691.5,456 759.3,410.9 763.8,556 747.4,599.3 760.3,565 760.9,536.2 686.5,583.3 760.3,490.2 725.7,587.8 688.3,529.4 695.1,517.3 748.2,587.9 754.4,568.8 717.8,493.4 763.7,590.3 689,565.6 759,557.7 718,566.1 748.9,603.5 721.2,509.1 748.7,429.2 757.6,591.7 702.2,570.2 770.5,528.7 688.8,484.6 753.7,551.6 749.7,535 751.3,548.3 755.1,605.6 694.6,509.5 755.8,504.5 700,577.3 702.4,458.5 761.6,490.3 731.3,619.9 761.7,542.1 723.4,567.2 725.5,484.9 754.3,578.3 704.4,554.8 765.7,547.4 721.9,491.7 698.7,564.1 692.3,552.8 722.3,572 753.6,499.2 759.4,506.3 753.9,554.2 689.7,525.7 723.9,496.3 693.1,432.7 766.9,457.2 751.7,490.7 703.7,542 721.5,552.3 764.6,528.9 722.1,554.8 733.2,534.6 753.5,559.8 767.5,499.8 763.3,432.2 760.9,562 725.2,514.1 730.4,481.6 695.6,500.7 690,485 755.6,512.1 703.1,521.6 747.8,541.4 698.1,567.3 757,608.9 717.9,483.2 757.9,457.7 727,423.4 757.6,559 692.4,567.6 702.8,481.3 764.3,602.7 762.2,472.8 768.2,566.2 754.3,588.4 767,563 753.1,526.4 753.1,525.8 696.4,493.1 700.7,566.9 764.4,595.6 764.8,403.9 750.5,611.4 760.1,573.6 696.4,520.5 762.5,462.8 758.3,552.2 702.4,587.7 694.8,506.8 717,583.3 748.5,534.4 725.4,522.3 757.2,518.8 763.6,548.4 719.8,487.6 722.8,574.1 694.8,523.2 753,442.8 716.2,491.4 761.8,608.8 749.1,466 766.7,395 753.7,570.3 729.7,492.1 764.3,501.8 699.3,503.9 754.5,607.3"/>
<rect x="687.8" y="530" width="71.2" height="5.4" fill="#231f20"/>
<rect x="803" y="479.3" width="69.7" height="110.3" fill="#d3272b" fill-opacity="0.41"/>
<polyline class="pr" points="799.1,440.1 804.7,485.5 843.7,591.8 837,584 835.8,531.3 874.1,495.8 832.5,533.6 813.6,496.7 843.7,586.7 837.1,535.6 813,472.9 810.2,451.7 845.1,494.2 811.6,460.3 875.5,430.1 829.8,584.7 861.2,549.6 827.2,554 844.5,618.9 838.6,587.6 834.8,552.5 846.8,603.1 862.2,483 833.5,563.2 875,517.1 801.2,434.5 846.8,549.5 868.7,574.3 841.3,570.3 803.6,418.9 838.4,543.7 861.8,556 875.2,440.2 838.6,543.8 807.3,519 831,583.4 847,479.2 837,564.9 837.9,579.3 794.5,417.5 846.4,587.5 806.1,558.2 834.6,533.5 803.5,479 838.4,483.7 878.8,603.7 805.8,463.5 800.3,474.6 839.5,569.6 795.5,392.2 843.3,566.1 811.5,478.8 840.6,479.9 795,474 839.4,551.5 828.7,493.4 846.5,570.3 847.7,599.1 832.3,483.5 813.1,488 834.9,569.1 867.5,570.8 844.9,491.5 804.7,437.7 836.7,564.2 834.7,568.2 794.6,450.7 810.8,396.9 816.8,443.5 870.7,478 839,582.4 839.9,565.8 841.4,581 845.2,587.8 802.5,497.7 807.1,516.9 838.9,569.2 805.6,468 828.4,592.9 796.5,430.2 816.5,414.1 836.4,537.6 834.4,459.2 864.1,576.9 830.8,491.2 833.8,599.7 842.2,581.7 829.2,570.5 803.3,467.7 844.7,531.4 809.3,428 803.6,446.7 806.8,509 804,435 840.9,610.5 835.1,532.3 847.4,541.8 842.8,563.3 849.7,565.1 832.7,513.8 839.5,612.5 838,593 841.8,581.8 843.1,568.8 815,418.1 837.4,578.6 808.2,483.4 797.6,537.5 827.4,524.3 839.7,571.7 836.1,541.6 831.5,542.6 843.7,576.6 840.9,623.2 845.1,581.6 880.7,496.8 865.3,622.3 836.9,542 840.9,585.8 813.1,478.7 840.4,573.5 839.9,522.3 841.2,603.7 846.5,584.8 807.5,511.9 832.9,579.5 808,516.5 814.4,428.9 827.2,591.1 801.9,397.7 832.5,548.7 829.4,522.1 869.3,602.2 869.5,568.3 812.8,440.2 843,568.7 836.3,578.4 864,547.1 832.6,587 830.4,582.8 809.9,447.9 836.2,480.2 848.3,490.7 871.9,421.2 862.5,535.5 876.5,551.4 836.9,572.2 870.2,506.3 839.8,580.7 862.6,478.2 879.9,571.9 802.2,460.1 811,436 812.7,455 808.8,412.8 840.7,591.1 831.3,595.2 836.5,573.5 848.6,575.8 871,599.9 799.1,461.1 839.1,518.6 842.8,584.2 843.4,569.7 808,451.5 860.1,587.6 841,524.9 837.7,566 844.3,558.5 831.6,571.3 841.1,542.6 830.4,484.9 827.5,589.4 809.8,480.2 866.4,590.3 832.6,571.3 863.5,600 870.8,495.8 849.2,526.9 837.7,603.4 803.6,458.1 831.8,532.4 838.6,552.2 801.5,483.2 799.9,486 838.1,583.5 849.9,576.2 804.2,401.8 831.2,484.8 834.9,483.3 849.5,521.9 836.7,570.1 836.3,524.4 800.1,468.6 840.7,546.3 795.5,491.3 804.9,468.8 811.2,402 837,622.8 837.1,545.7 835.2,591.1 834.1,493.3 836.6,591.5 798.8,443.4 865.3,600.3 868.5,510.8 809.2,431.1 802.9,457.7 837,449 867.7,537.7 802,473.8 829.5,517 836.9,613.3 838.3,598.1 800.8,428 829.5,574.8 833.6,555.4 833.1,584 842.6,580.4 871.2,595 810.3,407.2 797.7,414.9 864.3,553.9 805.7,470 840.1,528.5 846.6,590.3 871.8,567.1 812.1,537.8 849.7,529.4 816,432.1 837.7,516.7 839.4,522.3 871.4,509.7 807.2,487.7 806.7,482.3 832.8,524.2 839.3,554.6 839.1,596.9 828.7,549.9 850.2,540.6 836.3,503.5 840.6,603.3 834.2,547.6 807.2,474.9 841,534.2 839.6,591.9 869,602.3 804.5,547.6 842,572.3 809.5,500.7 808.5,498.1 875.3,578.6 842.2,565.1 838,619.4 846.4,539.4 808,429.4 843.5,588.7 842.2,550.4 842.7,585.4 806.3,457.9 837.3,573.7 808.8,490.5 841,484.3 870.7,535.2 837.1,576.2 796.3,446.3 838.7,624 875,519.7 816.3,448.5 843.6,597.2 845.2,554.2 834.6,569.3 801,503.2 844.2,592.5 803.2,500.1 806.6,455.5 803.3,491 802.7,437.3 844.6,547.7 801.1,438.3 868.2,522.2 829.1,563.8 839.4,580.1 836.8,576.8 807.5,423.4 794.8,468.5 810.2,512.5 865.8,598 843.8,537.3 843.1,524.4 837.7,600 811.7,424.3 873.1,581.5 813.3,484.6 838.7,591.9 827.8,521.5 833.9,487.2 837.9,523.7 839,484.5 802,487.9 815.5,397.3 831,600 828.2,561.3 874.2,539.5 832.8,517.5 880.7,561.4 845.7,569.7 840.4,597.6 833.1,585.2 866.3,492.7 806,537.2 848.8,551.5 804.3,508.1 868.3,588.6 804.8,470.7 841,585 847.3,479.4 840.9,615 837.4,579.4 837.3,570.7 841.9,487.4 804.3,475.8 866,542.7 863.6,594.4 847.9,500.3 849.3,521.4 840.7,582 813.2,404.6 795.6,459 838.7,537.1 832.3,591.5 812.5,490.2 865.1,423.3 805.4,481.3 846.2,519.2 840.9,499 802,444.2 837.6,580.9 867.5,586.5 845.8,551 816.9,438.5 840.6,554.5 810,515.8 815.6,452.8 839.3,606 843.8,604 846.9,515.4 831.4,517.3 838.2,572.8 845.2,603.1 832.9,596.9 871,520.4 845.2,520.5 807.7,414 813.9,464 849.5,521.3 804.2,412.3 805.8,429.3 806.9,479.6 828.9,554.4 802.4,439 843.4,581.7 807.9,402.2 798.2,474 848.8,603.2 843.9,601 862.4,579.3 862.7,494.5 849.7,453.6 837.2,544.1 805.7,420.1 827.3,596 826.3,585.5 865,601.9 873.6,494.7 800.7,405.6 811,495.4 849.3,536.8 800.5,410.8 864,560.6 797.3,486.3 803.4,445.8 829.2,492.4 836.2,541.1 876.1,428.2 875.2,506.6 792.7,480.5 871.8,491.4 811.6,498.7 806,488.8 849.1,542.7 844.2,579.6 806.8,409.4 841.8,572.4 796.9,462.2 835.2,580.4 840.7,556.7 843.1,525.4 840.7,600.5 838.9,592.2 831.9,578.4 842.1,582.4 860,564.9 804.4,440.7 871.8,595.7 839.2,548.5 806.7,465.2 846,546.3 808.4,436 811.8,496.9 839.1,485.4 833.9,585.2 835.7,547.6 838.3,556.7 800,469 847.9,507.9 878.9,553.2 840.7,567.9 839.5,497.3 842.9,492.2 809.1,401.5 836.5,576.7 845.8,529.2 817.6,514.9 833.3,606.8 872,495.7 803.8,469.8 876.5,578.5 875.2,548.7 834.1,518.5 805.2,418.9 849.5,513.4 858.1,455.9 827.7,544.2 814.6,474 834.2,580.9 827.2,551.6 833.5,583.7 860.7,526.7 840.2,549.5 872.7,517.1 812.8,493.1 813.8,418.8 803.5,426.5 838,589 838.7,576 831.8,576.4 829.7,535.2 828.7,553.2 829.6,566.2 803.6,499.8 816.9,483.7 830.4,568.5 806.3,469.4 833.3,566.5 811.1,503.2 836.1,598 843.9,547.7 808.6,406.8 834.5,572 806.7,437.1 841.1,546.3 836.4,565 835.8,571.3 879.5,544.1 868.6,595.2 839.6,525.2 810.3,498.3 840.8,602.6 879.9,428.2 801.3,512.2 815.5,440.8 864.4,510 798.8,453.9 827.9,550.2 805.8,480.1 872.6,597.5 802.7,513.7 806.2,472.7 812.7,466.8 798.1,516.1 861.3,521.4 871.3,520.4 841.2,565.8 871.6,593.9 838,587.6 840.4,606.5 841.2,595 807.7,407.2 816.8,512.5 840.2,552.7 866.9,444.8 871.4,592.4 848,596.1 840.2,521.3 871.5,397.7 834.5,614.7 832.1,510.7 843.9,601 829.7,571.6 863.2,578.6 830,488.6 838.2,536.2 830.6,588.4 811.6,504.8 836,529.4 833,541.8 827,560.9 832,526.8 803.6,482.3 837.4,535.7 795.9,493.2 804.9,503 837.3,581.8 845.3,578.7 829.5,465.5 837.2,482.7 867.6,558.1 834.2,558 837.9,615.8 805.4,426.2 833.5,537.4 837.5,527.1 801.7,427.2 816.6,489.4 849.8,565.9 848.4,557.8 841.8,551 845.9,519.1 802.4,459.5 842.4,603 841.4,581 838.5,602.6 806.8,455.1 795.1,504.2 833.2,550.4 838.8,569.4 865.2,418.6 799.1,433.5 848.3,594.7 804.5,467.4 849.3,582.2 846.9,599 844,565.1 814.8,394.8 809.2,510.7 800.8,452.6 841.7,575.3 846.6,517.9 844.3,485.9 840.7,481.6 800.2,477.6 836.5,526 808.8,554.4 842.7,511.3 803.1,458.4 879.9,571.1 807.5,413.7 842.1,557.2 835,589.5 795,510.2 833.7,597.7 807.7,502 835.6,592.6 834.9,588.5 834.8,544.4 833.7,571.9 842.7,533.9 831.5,581.6 804.6,482.7 798.6,506.9 837,547.3 833.5,619 841.1,503.9 846.5,512.3 837,566.2 863.9,592.8 840.5,573.8 832.5,536.9 835.3,556.2 867,558.1 812.3,391.7 831.8,578.9 797.3,448.2 805.8,434 835.5,485.8 866.7,578.3 871.5,548.8 839.7,530.8 870.3,554.6 834,562.7 840.5,525.7 844.4,534.5 836.5,486.9 812,518.4 840.4,590.8 836.3,563.8 862.9,573.7 870.3,531.4 808.4,466.5 845.8,585.8 839.2,542.1 834,596.5 843.9,563.4 879.2,543.1 841.6,563.8 809.7,426.8 872.4,530.9 802.9,416.9 841.3,564.6 871,528.1 835.8,581.3 837.8,563.6 844.8,567.8 841.5,555.8 832.5,549 872.4,392.3 842.2,525.5 839.2,588.8 836.6,520.7 806.8,420.3 867.3,533.5 839.6,517.3 806,423.4 868.5,536 844.3,544.7 806.1,432.2 814.4,504.6 804.1,445.9 829.9,573.5 849,542.2 840.9,462.1 839,556.2 870.5,563.1 833.4,539.2 813.9,481.2 836.1,590.6 811.3,404.4 880,489 848.9,511.1 816.5,432.9 839.5,616.3 827.6,590.8 836.5,542.2 797.8,451.4 809.6,487.1 846.5,591.1 842.1,525.7 875.3,591.9"/>
<rect x="803" y="530" width="69.7" height="5.4" fill="#231f20"/>
<text x="241.2" y="620.6" font-size="24.8" word-spacing="-2">p1p2 p3</text>
<text x="-0.3" y="714.2" font-size="40" font-weight="bold">b</text>
<path d="M115.8 692.5 h19 l-9 30.4z" fill="#3fa648"/>
<text x="141.9" y="723.1" font-size="30.2" fill="#3fa648">E15.5 FT</text>
<path d="M122 738.4 H858" stroke="#000" stroke-width="5.6" fill="none"/>
<path d="M882.6 738.4 L851.8 725.4 L856.6 738.4 L851.8 751.4z" fill="#000"/>
<text x="164" y="791.6" font-size="24.7" text-anchor="middle">+1d</text>
<text x="275.4" y="791.6" font-size="24.7" text-anchor="middle">+2d</text>
<text x="386.6" y="791.6" font-size="24.7" text-anchor="middle">+3d</text>
<text x="498" y="791.6" font-size="24.7" text-anchor="middle">+4d</text>
<text x="609.5" y="791.6" font-size="24.7" text-anchor="middle">+5d</text>
<text x="721.1" y="791.6" font-size="24.7" text-anchor="middle">+7d</text>
<text x="833.2" y="791.6" font-size="24.7" text-anchor="middle">+9d</text>
<g>
<rect x="122.3" y="796" width="100.7" height="328.6" fill="#fff"/>
<path d="M124.6 966L172.6 956.8L220.7 947.6L220.7 1042.7L172.6 1043.7L124.6 1044.7z" fill="#000" fill-opacity="0.035"/>
<path d="M124.6 1044.7L134.2 1044.5L143.8 1044.3L153.4 1044.1L163 1043.9L172.6 1043.7L182.3 1043.5L191.9 1043.3L201.5 1043.1L211.1 1042.9L220.7 1042.7L220.7 1108L211.1 1111.7L201.5 1114.9L191.9 1117.4L182.3 1119.4L172.6 1120.7L163 1121.5L153.4 1121.6L143.8 1121.2L134.2 1120.1L124.6 1118.5z" fill="#000" fill-opacity="0.06"/>
<polyline class="s1" opacity="0.1" points="130.8,1013.8 204.5,1037.9 201,963.4 138.1,1020.1 180.8,974.4 195.7,1026.3 169.5,1011.3 184,973.5 125,970 207.8,1014.4 195.6,1025.7 154,967.3 166.1,1035.8 187.7,994.9 130.2,990.1 172.8,1006.6 191.9,1035.9 148.2,1035.5 157.1,1033.9 126.4,1016.9 200.3,1037.4 133,1041.1 145.8,978.7 144.9,1010.8 150.8,1027.1 174.6,1029.4 130.9,1032.9 199.2,1032.8 163.6,988.3 214.4,983.3 168.7,1029.4 149.4,1037.2 215.3,958 192.3,1013.5 198.2,997.8 179.4,1038.7 164.6,988.9 144.9,1008.1 218.8,1003 136.5,970.5 202.1,997.1 180.4,1023.9 188.6,1013.2 157.7,994.8 177.2,968.7 172.7,991.2 218.4,1035.5 134.7,992.8 142.9,983.7 185.6,1006.5 152.5,978.3 180.4,1040.5 154.9,976 155.6,963.5 207.8,1023.5 176.1,1022.2 159.3,1011.8 164.8,959.8 139.5,1006 174.9,974.6 166.1,971.4 184.1,1004.5 129.6,1019.2 180.8,965.7 181.6,984.1 181.3,963.5 145,982.3 201.3,988.9 136.3,1016.1 199,966.2 147.3,1005.6 218.7,1017.4 199.4,1006.6 187.3,989.1 213.4,1021.2 127,1025.7 201.2,982.3 218.2,1023.7 152.4,1027.4 171.6,977.8 125.8,986.5 133.1,1028.3 218.7,1025.1 212.6,1015 187.5,970.2 209.6,1037.9 171.7,1002.6 156.2,982 216.1,975.1 153.3,971.4 142.6,1030.2 157.2,991 202.3,982.5 184.6,958.9 129.8,997.1 149.5,995.5 144.8,1013.8 218.2,968.7 180.6,967.6 180.1,957.2 154.2,992.6 187.9,1008.5 170.9,1033 209.8,970.3 139.3,1032.9 186.5,1014.9 218.5,969.1 157.3,984.5 147.4,991.5 143.1,963.4 204.5,972.2 163,1002.1 182.2,967.7 179.2,1019.3 189.3,956 184,968.9 148.8,1018.9 161.2,1011.6 177.6,963.2 179.4,996.7 164.5,1022.2 156.1,968.1 141.7,978.2 179.6,1032.3"/>
<polyline class="s2" opacity="0.1" points="195.1,975.6 208.3,962.7 217.6,1034.9 149.5,1022.8 145.7,1009.2 187.5,1014.4 204,1015.1 139,1005.9 151.6,978 174.2,1038.4 204.2,1037.5 172.7,977.8 203.7,1029.2 207.6,981.6 152.1,1027.8 214.8,1029.2 131.7,972.2 172.8,967.9 141.8,1019.5 180.2,986.5 195.8,972 161.9,961 175.4,981.1 211.9,973 187,1011.2 129.4,975.3 179.2,1035 149.1,1011.7 130.3,994.3 146.3,980.8 159.8,1004.6 192.4,1005.8 179.8,1004.2 152.7,990.1 187.4,1006.2 218.8,1019.4 142.2,1035 129.3,986.8 127.4,988.9 144.4,1019.4 145.1,987.2 165,1029.4 170.6,999.2 205.6,1019.4 172.7,1000.9 192.7,973.3 209.5,1027 192.2,973.4 127.4,999.2 195.7,960.5 153,1008.9 126.6,980.9 148.8,1004.7 207.5,1012 159.6,1026.6 169.7,994.6 192.8,975.4 150.4,984.3 218.7,1010.4 197.6,1007.5 174,960.8 153.7,981.8 179.2,995.1 143,984.3 187.6,971.2 161.8,1030.7 158.3,1019.2 206.9,1021.9 180.3,993.1 214.4,1001.8 134.9,992.3 191.4,1033.6 129.3,989.8 148,1030.2 141,965.2 155,974.3 186.7,1031.1 183.3,992.4 211.3,997.9 154.8,977.7 142.5,1020.4 205.9,1018.4 125,990 204.3,991.1 138.6,1001.5 187.2,955.3 140.3,996.4 163,1001.7 138.8,1030.5 212,968.8 185.7,986 140.3,1015.4 140,1017.3 174.9,1008.2 133.4,1002.3 135.7,982.7 188.2,1015.4 143.2,1000.3 183.2,970.7 153.8,1036.2 199.6,1030.7 181.2,979.7 215.4,950.1 133.5,1042.3 140.9,1017.2 126.6,991.2 194.1,978.6 187.8,963.2 210.6,962.8 181,957 161,1026.6 169.4,990.1 133.4,974.2 208.7,1040.2 179.2,984.1 164.3,978.3 189.9,1033.7 147.3,1031.1 140.7,996.3 186.6,1026.8 172.4,1008.8 189.4,995.2 171.7,994.1 188.6,972.8 175.2,1023.6 216.2,972.6 136.1,979.6 195.8,999.1 165,999 196.8,1001 196.1,963.5 194.2,1009 196.6,962.4 151,982.9 169.2,1007.3 125.8,1007.2"/>
<polyline class="s1" opacity="0.14" points="130.9,1110.9 128.4,1084.7 198,1082.9 148.3,1058.7 209.7,1096.5 126.5,1078.7 186.9,1070.9 214.1,1083.1 201.2,1076.9 145.1,1119.5 181.6,1077.4 161.4,1057.7 179.8,1117.9 195.3,1100.2 202,1059.7 126.7,1112.1 160.9,1073.5 217.4,1060.8 148.5,1056.2 176.6,1084.5 167.9,1063.3 179.1,1093.2 139.3,1075 213.9,1098.8 129.7,1071.9 135.9,1104 139.3,1046.3 190.7,1105.6 126.4,1105.1 128.7,1066.2 147.5,1088.2 138.3,1096.4 205.2,1099.5 211.1,1110.1 176.4,1104.5 185.2,1108.2 206.8,1110.2 186,1101.1 185.3,1106.8 133.2,1054 128.6,1089.6 209.2,1069.1 142.4,1062.3 200.4,1045.1 126.8,1061.5 132.3,1117.2 137.5,1077.3 210.1,1043.2 141.2,1099.1 132.7,1062.3 175.2,1061.7 190.9,1097.9 132.3,1053.1 145.8,1086.4 215.5,1044.7 141.3,1110.4 129.9,1114.6 152.8,1113.7 200.8,1104.2 146.4,1068.6 206.6,1111 188.8,1085.3 192.9,1096.2 179.1,1065.8 213.7,1103.9 171.3,1054.6 185.3,1109.5 138.4,1091.6 187.7,1062.1 217,1098.7 162,1087.1 152.2,1046 186.2,1065.7 149,1074 183.8,1077.4 168.3,1074.9 155.8,1075.6 126.3,1058.8 214.4,1089.2 173.4,1115.5 155.1,1074.7 175.6,1052 163.5,1057.2 190.5,1079.2 201.9,1081.5 125.6,1107.1 199.5,1056.7 155.4,1078.9 206.4,1110.4 210.3,1101.4 188.4,1108.9 139.8,1106.8 150.1,1071.7 149.8,1055.7 129.8,1078.5 166.1,1057.4 185.8,1069.5 128.3,1084 213.7,1072.1 218.8,1050.5 139.6,1105.1 149.2,1070.3 179.2,1048.8 179.6,1116.4 164,1098.3 194.4,1063.3 206.5,1109.9 193.3,1080 196.1,1043.5 154.6,1061.3 156.8,1109.8 208.6,1046.2 143.8,1080.7 125,1116.2 166.2,1111.8 141.9,1063.7 208,1062.2 183.6,1097.7 204,1043.7 149.9,1100.8 186.9,1049.5 211.4,1051.8 170.1,1097.6 202.1,1091.1 131.2,1096.6 157.7,1071.3 200.1,1060.1 212.6,1078.3 140,1079.5 171.8,1067.6 130.3,1088 152.6,1087.9 180.9,1067.8 162.6,1061.2 219.5,1075.6 152,1106.7 145.5,1049.6 138.1,1055.4 158.8,1115.1 144.5,1091.3 174.4,1052.6 214.6,1085.2 180.8,1079.4 215.1,1107.8 209.6,1093.8 149.6,1100.1 169.6,1056.8 149.8,1114.1 216.8,1079.5 160.7,1070 155.8,1101.1 183.2,1084.4 194.9,1092.5 192.6,1073.8 195.6,1083.4 185.6,1045.6 186.1,1070 196.4,1113.6 161.5,1087.2 203.4,1060.5 143.8,1091.6 177.2,1054.2 204,1076.5 193.9,1097.4 130.9,1116.5 192.7,1105.6 216.6,1058.6 176.6,1066.7 185.5,1095 209,1091.5 128.4,1059.9 155.6,1104.3 141.9,1066.6 178.5,1110.7 191.6,1071.4 207.8,1069.5 219,1063.7 138.9,1090.6 163.1,1056.6 199.9,1094.7 172.8,1075.8 185.9,1056.6 149.4,1114.7 214.3,1065.1 216,1088.9 189.7,1072.1 143.5,1097.5 206.4,1105.9 183.2,1047.8 159,1074.1 169.2,1061.2 192.6,1085.4 155.4,1081.8 168.6,1112.8 171.6,1100.9 213.9,1047.2 173.8,1072.5 156.5,1097.6 146.8,1084.2"/>
<polyline class="s2" opacity="0.14" points="213.1,1043.4 181.5,1101.8 139,1104.7 165.5,1051.7 184.6,1111.9 198.8,1090.1 127.9,1117.3 160,1119.1 163,1081.6 130.8,1095.7 205.4,1049.2 169.2,1066.1 206.4,1104.6 164.3,1095 154,1092 210.9,1062 174.1,1068.5 172.4,1069.4 136.4,1082.4 209.9,1044.6 155.4,1067.6 155.4,1075.3 136.1,1095.5 196.7,1074.7 141.6,1093.9 163.2,1110.9 165.1,1118.9 153.1,1115.7 219.3,1091 201.4,1057.5 142.9,1045 186.8,1098.4 211.4,1095.8 194.1,1108.8 132,1087.5 218.4,1050.7 188.7,1050.8 168.8,1060.9 127.9,1103 142.7,1085 214.2,1053.9 165.1,1118 180.9,1059.2 187.1,1097.5 137.7,1078.4 166.7,1050.4 136,1102.4 205.9,1093.5 213.8,1081.3 134.2,1055.8 131.8,1061 138.3,1051.3 129.2,1059.1 130.3,1086.5 196.7,1057.6 202.4,1085.5 201.6,1069 160.6,1104.8 215.5,1077.2 195.8,1085.2 194.1,1046.8 149.5,1061.7 132,1056.8 197.9,1113.4 207.8,1053.9 184.9,1080.4 166.3,1047.7 148.9,1108 141,1082.4 183.8,1059.6 199.9,1084 185.2,1115.2 191.6,1110.3 139.7,1089.5 199.7,1069.2 162.7,1119.6 169.1,1103.5 154.5,1081.6 169.8,1070.2 138.2,1064.1 128.6,1110.3 207.3,1079 182,1099 182,1067 126.5,1060 125.6,1085.4 139.4,1048 141.2,1117.6 150,1051.9 201.2,1107.7 208.8,1060.6 141.5,1066.4 152.4,1073.3 168.1,1101.9 158.1,1100 181,1079.7 196.3,1083.8 208.3,1062.8 194.4,1058.8 137.6,1101.3 194,1095 190.1,1100 175.9,1054.7 202.8,1058.3 174.9,1102.8 164.3,1079.7 216.3,1090.3 152.9,1076.7 155.4,1076.9 216.8,1079 214.8,1088.8 209.4,1100 181.8,1114.9 179.8,1100 191.7,1068.1 187.2,1062.1 130.1,1058.2 205.4,1090.5 202.8,1055 148.7,1048.5 137.6,1111.7 135.5,1044.6 144.6,1100.3 191.6,1064.6 188.4,1061.9 178.1,1096.6 173.7,1096 130.2,1069.5 143.5,1051.7 138.6,1077 153.3,1076.4 212.1,1054.7 178.9,1092.2 124.9,1102.2 174.6,1104.9 181.8,1106 166.8,1083.2 136.8,1111.1 125.1,1089.1 129,1116.9 156,1108.5 167.8,1081.5 125.6,1077.6 184.8,1097.3 166.3,1061 160.3,1109.4 202,1045.4 137.1,1067.1 147.3,1055.4 177,1093.3 164,1055.9 155.9,1108 145.5,1044.3 139,1047.5 177.9,1106 162.1,1114.8 190.7,1051.6 130.6,1101.2 155.4,1101.5 125.8,1061.6 190.3,1112.1 187.1,1078 217,1054.2 175.9,1077.1 138.6,1044.5 146.7,1073.8 171.8,1061.8 157.5,1109.6 166,1060.7 163.6,1065.5 178.7,1053.5 140.3,1068 152.8,1090.8 170.9,1074.1 177.1,1050.9 149.5,1096 172.7,1113.1 193.6,1078.1 207.2,1057 131,1083 163.6,1074.8"/>
<polyline class="s2" opacity="0.33" points="175.8,1104 141.2,1090.1 129.1,1098.3 189.1,1097.3 152.9,1093 144.7,1101.3 199,1105 158.4,1119.2 158.1,1109 173.3,1102 130.3,1091.2 193.3,1102.6 127.5,1106.9 200.2,1088.5 153.2,1113.9 177.1,1099 168.2,1108.6 173.6,1097.2 169.6,1099 151.4,1105.5 143.6,1113.3 159.6,1095.6 158.4,1100 159.7,1118.7 127.9,1101.5 191.8,1107.8 180.2,1097.4 164.5,1093.3 171.4,1104.9 130.5,1100.5 128.5,1093.7 150.4,1110.4 148.2,1100 171.2,1111.7 200.6,1100.4 132.8,1112 162,1098.5 160.4,1097.8 127.6,1095.6 149.8,1095.9 141.8,1093.9 178.7,1116.2 157,1097.4 172.3,1090.9 135.3,1113.6 151.6,1097.3 128.5,1090.4 129.5,1110.7 173.9,1090.1 126.5,1106.7 191.3,1108.1 179.4,1096.4 200.1,1100.2 152.5,1104.8 199.8,1112.7 157.1,1107.1 170.2,1104 183.9,1101.4 141.2,1117.1 157.9,1107.6 172.9,1093.9 160.8,1105.7 193.1,1107.3 160.4,1096.1 135.5,1089.2 136.1,1092.7 139.9,1097.9 155.2,1109.8 151.8,1097.2 150.2,1115.3 145.8,1112.1 174.2,1095.5 136.2,1101.2 191.3,1096.2 145.1,1099.9 126.4,1109 176.9,1098.3 141.6,1109.4 197.3,1090.6 201.3,1104.6 197.4,1110.7 157.6,1097.9 143,1095.2 165.7,1101.5 131.7,1098.7 127.4,1112.4 182.8,1097.2 185.2,1103.3 150.8,1109.8 129.7,1106.2 157.1,1114.6 186.8,1093.4 151.3,1102.2 143.5,1102.4 184.6,1098.2 167.4,1100.5 125.6,1100.9 201.5,1105.6 158,1110.5 191.1,1097.8 195.2,1103 196.7,1088.6 154.8,1102 165.7,1106.4 199.3,1100 179.9,1094.1 127.5,1102.9 167.7,1095.2 139.7,1097 143.6,1092.3 128.9,1106.8 152.2,1103.3 201.2,1101.2 165.5,1108.6 148.3,1104 176,1091.5 193.3,1093.5 197.2,1110.9 135.8,1109.2 180.2,1115.1 149.5,1118.3 177.2,1111.4 182.2,1106.8 171.5,1104 154,1099.5 140.9,1097.9 154.5,1098.7 131.6,1116.3 151.9,1095.5 179.4,1103.8 196.6,1107.3 136.5,1102.6 152.8,1118.7 192.1,1106 181.2,1110.3 199.8,1094 165.2,1108.4 177,1100.7 160.9,1104.2 192.5,1090.5 180.7,1088.6 172,1092.6 137.5,1097.3 160.2,1109 190.3,1104.2 155.3,1103.7 157.9,1103.3 166.2,1090.4 133.8,1088.2 172.1,1098.4 153.9,1103 192.9,1104.9 163,1113.5 169.2,1112.1 154.6,1094.4"/>
<polyline class="s3" opacity="0.33" points="139.4,1103.6 142.7,1101.6 196.4,1108 139.6,1117 150.5,1111.4 134.4,1112.5 166.1,1110.3 127.4,1107.1 143.1,1110.1 177.4,1108.9 190.1,1104.2 192.5,1089.5 144.9,1088.8 150.5,1090.7 169.5,1103.3 175.4,1101 136.4,1097.4 125.5,1091.3 138.7,1105.2 175,1101 157.1,1111.3 133.3,1093.6 172.3,1105.8 127.6,1098.9 160.4,1090.6 135.3,1107.5 154.6,1108.6 161.9,1115 189,1111.9 151.6,1090.6 149.2,1102.3 161.8,1098.2 145.9,1098.3 199.1,1112.7 165.8,1093.4 131,1094.9 192.6,1098.9 146.4,1111.8 131.7,1117.7 125.6,1108.5 171.7,1111.2 168.7,1109.4 174.5,1111.4 142.1,1103 185.6,1100.4 178.7,1098.7 173.9,1106 173.4,1091.8 187.6,1087.8 165.1,1109.7 133.5,1095.3 193.1,1100.4 171.8,1099.1 133.8,1115.3 184.6,1099.9 141.6,1110.8 201.2,1090.5 129.7,1101.4 200.2,1097.8 162.6,1112.9 129.9,1109.7 182.2,1088.9 164.1,1093.7 179.5,1108.6 142.5,1108.9 185.6,1084.1 129.7,1107.8 162.1,1113.8 125.5,1099.1 158.9,1111.7 167.8,1108.3 125.2,1108.4 147.4,1095.5 143.1,1112.6 140.2,1102.4 162.2,1100.7 175.1,1108.9 182.5,1106.6 187.6,1106.1 200.9,1108.5 171.2,1093.2 147.9,1109.4 140,1095.4 133.9,1110.3 133.6,1093 201.5,1107.3 163.9,1110.6 197.4,1110.8 128.2,1114.9 178,1099.7 163.1,1109.4 142.2,1108.6 163.3,1102.7 126,1100.9 193.8,1113 178.9,1104.2 193.9,1111.3 180.9,1094.4 128.1,1109.4 155.8,1087.6 156.6,1091.8 161.3,1109.9 127.3,1100.4 164.2,1104 141.9,1096 130.9,1103.9 198.4,1108.1 145.3,1108.2 186.1,1100.1 167.7,1100.1 175.8,1101.7 191.6,1107.1 171.9,1109 184.7,1107.3 147.9,1102.7 160.9,1094.6 125.6,1099.7 158.6,1087.2 172.3,1087.9 138.5,1118.5 178,1094.2 134.4,1101.8 160.2,1093.3 192.1,1105.1 169.6,1108.2 169.4,1107.4 127.8,1102.4 198.2,1089.7 183.9,1088.8 161.5,1099.7 191.1,1094.7 164.9,1092.7 140.7,1095.5 183.7,1115.3 141.8,1107.2 165.1,1088.8 165,1097.8 187.1,1112.4 141.3,1096.9 159.5,1111.9 162.1,1114.1 126.6,1098.7 125.2,1110 185.4,1106.5 168.5,1090.2"/>
<polyline class="cb" points="151.5,964.5 184.5,970.5 156.5,1035"/>
<rect x="123.3" y="797" width="98.7" height="326.6" fill="none" stroke="#7f7f7f" stroke-width="2.0"/>
<path d="M124.1 966.1L221.2 947.5" stroke="#000" stroke-width="1.5" stroke-dasharray="10.5 5.5" fill="none"/>
<path d="M124.1 1044.8L221.2 1042.6" stroke="#000" stroke-width="2.0" stroke-dasharray="9 5" fill="none"/>
<rect x="122.3" y="966.4" width="2.8" height="78.4" fill="#0a0ae6"/>
<rect x="220.2" y="947.2" width="2.8" height="95.4" fill="#0a0ae6"/>
</g>
<g>
<rect x="233" y="796" width="100" height="328.6" fill="#fff"/>
<path d="M235.3 926.9L283 921L330.7 915.1L330.7 1023.3L283 1023.3L235.3 1023.3z" fill="#000" fill-opacity="0.03"/>
<path d="M235.3 1023.3L244.8 1023.3L254.4 1023.3L263.9 1023.3L273.5 1023.3L283 1023.3L292.5 1023.3L302.1 1023.3L311.6 1023.3L321.2 1023.3L330.7 1023.3L330.7 1112.7L321.2 1111.8L311.6 1111.2L302.1 1110.9L292.5 1111L283 1111.4L273.5 1112.1L263.9 1113.2L254.4 1114.6L244.8 1116.4L235.3 1118.4z" fill="#000" fill-opacity="0.045"/>
<polyline class="s1" opacity="0.12" points="294.7,1006.5 248.8,997.4 323.6,1008.8 303.5,1015.3 267.2,1015 246.4,978.8 309.8,920.2 317.3,931.7 312.2,941.5 301.7,974.4 280.6,988.1 266.6,939.5 268.3,1005.3 302.8,1008.6 285,1001.4 250.3,962.1 295.2,941.5 267.1,947.3 289.6,929 316.9,987.9 292.5,1003.3 304.3,974 295.8,954.7 258,933.1 235.8,968.4 291.2,1016.2 274,1013.9 299.5,927.6 289.1,1000.5 262.5,1006.2 283.4,992.6 281.5,990.3 251.9,933.5 310.3,997.9 272.5,949.5 282.1,986 256.4,932 257.4,997.4 327.6,1000 291.5,951.5 254.1,1013 315.4,958.9 279.7,944.1 263,973.6 277.4,999.6 277,998.6 310.4,968 300.1,987.6 250.6,991.4 290.3,991.1 280.2,974.1 297.7,942.7 252.4,984.9 276.6,965.3 298.6,939.9 295.1,1005.5 255.9,945.2 302.3,982.5 316.9,1001.9 258.1,999.1 253.1,1009.7 263.8,934.5 266.8,936.2 325.6,976 323.8,964.2 273,981.5 237.4,986.7 253.8,1003.7 237.1,963.6 262.7,990.8 326.6,941 266.2,970.4 301.5,976.5 277.1,922.5 316.9,985.5 238.2,965.6 303.8,939 270.6,965.1 310.6,1007.6 292.6,946.5 322.8,937.4 236.7,1016.3 248.6,1019.4 277.8,1016.9 324.1,944 293.8,998.4 255.2,953.1 321.4,979.4 246.5,987.4 302.7,922.5 328.8,982.5 279.2,941.1 238.2,944.5 312.1,1005.7 272.5,1001.6 268.5,1019.9 236,934.2 319.3,957 237.7,979.3 270.7,996.5 247.4,960.8 318.2,946.8 259.4,996 309,980.4 306.1,919.4 293.9,982.8 264.1,945.8 316.5,955 279,986.3 277.2,1009.6 247,1008.8 284.6,990.5 283.1,987.7 250.7,1005.1 279.1,1009.3 290.8,1006.9 280.9,954.8 254.9,955.6 280.1,945.3 250.5,981.1 245.1,1011.5 236,993.3 281,968.9 300.3,925.2 286.9,949.9 275.9,942.8 284.9,949.7 254.3,935.2 296.3,966.3 242.8,948.8 271.6,968.3 329.3,932 328,1002.6 265.2,968.3 286.7,975.9 279.9,942.8 245.3,928.1 302.6,923.1 323.4,952 294.4,994 293.5,920.2 296,1001.8 328.3,966.3 267.8,977.9 301,978.6 282.4,1014.9 311,920.1 264.3,1017.5 307.5,960.3 255.7,999.7 269.5,924.7 242.5,927.1 275.9,977.4 316.1,988.7 329.4,1018.5 250,1017.7 267.6,955.1 293.7,980.5"/>
<polyline class="s2" opacity="0.12" points="280.4,1011.4 261,1020.6 252,980.5 235.7,1004.9 257.8,1012.5 283.1,933.1 292.8,975.8 301.6,974.6 289.1,977.4 271.6,1018.6 280.8,944.1 294.4,922.5 246.3,973.9 302.8,1010.3 310.3,931.4 308,952.1 257.4,957.1 262.2,1005.3 256.1,1018.1 317.8,937.1 295.3,977.9 244.3,982.9 312.9,1015 240.5,931.7 295,979.8 237.1,1000.4 292.6,970.7 326.6,916.2 322.7,1001.4 322.2,926.5 312.4,1021.7 319.3,993 302.8,1019.4 294.1,957 320.2,1008.2 242.6,946.4 329.5,926.4 253.8,1006.7 293.6,965.9 236.6,992 281.6,971 329.3,994.6 306.5,967.4 258.6,1016.1 322.9,998.3 322.1,1008.8 323.5,938.9 283.7,968.6 305.1,922.8 275.1,1006.3 278.9,924 261.8,928.5 314.8,975.1 237,953.3 322.7,996.2 306.7,990.7 299.3,925.3 296.3,962.5 308,944.6 240,975.6 264.5,932.1 242.6,1003.1 260.5,992.4 326.6,953.1 317,955.4 312.5,933 316.2,936.3 237.7,1010.9 305.1,926.2 313,1011.2 285.7,944.9 292.1,947.3 299.4,951.1 262.4,947.9 258,1008.7 278.3,986.4 314.7,950.3 248.2,994.5 261.1,1018.9 258.6,1004.1 281.5,977.6 321.1,920.2 240.8,956.7 277.3,986 236.7,1012.7 320.1,972.2 293.8,977.1 312.7,989.7 282.2,979.1 238.6,1001.6 305.5,972 250.5,943.7 239.9,961.1 265.3,1017.8 255.4,957.1 282.9,969.7 301.9,941.8 304.8,987.9 304.5,932.9 256.2,943.2 237.3,962.5 292.3,994.2 314.2,974.1 270.8,977.3 285,1016.3 241.3,950.8 304.7,1016 295.1,938.4 272.2,950.8 296,927.3 319.4,973.7 245.3,957.5 248.1,964.5 311.5,966.7 286,978.9 292.4,921.9 288.2,1016.9 254,950.7 287.3,948.7 296.9,920.8 301.9,935.7 280.7,945.3 297.7,969.1 238.7,960.3 240.8,984.7 280,990.5 254,944.5 265.6,958 319.7,971.8 239.5,952.8 248.4,981.1 270.4,942.5 314.3,918.4 252.9,968.2 293.2,1011.8 246.4,999.2 291.2,972.5 303.1,1002.1 292.4,1013.9 267.7,1017.4 239.4,941.9 308,986.5 285.2,923.3 285.2,970.1 273.1,998.5 256.9,996.2 248.7,950.9 269.9,1003.8 247.9,928.9 255.7,947.4 283.3,999.2 320.5,957.3 260.9,1012 273.4,951.6 252.7,960.5 327.1,994.6 321.5,1000.6 301.9,1008.8 272.5,989.9 311.5,977.6 289.9,929.1 266.5,1005.9"/>
<polyline class="s1" opacity="0.15" points="317.1,1097.7 276.6,1106.8 297,1081.7 311.2,1099.8 251.2,1056.1 282.6,1070.1 307,1092.1 302,1096.1 277.8,1031.3 276.5,1060.6 329.4,1095.7 265.5,1035.5 327.5,1035.6 266,1108.2 299.3,1107.6 277.2,1091.7 271.1,1087.9 268.4,1085.5 310,1055.2 297.8,1047.5 272.8,1034.6 251.2,1051.9 305.5,1067.1 307.3,1097.8 271.6,1039.8 240,1097.7 315.2,1030.6 255.4,1110.5 313.1,1074.1 281.5,1061.4 246.3,1079.1 239.2,1040.1 262.3,1086 301.6,1071.3 238.2,1079.7 262.4,1037.5 240.7,1051.4 300.2,1098.7 272.5,1079.4 289.6,1090.2 256.5,1094.5 328.7,1053.4 249.3,1107.3 314.7,1081.9 323.3,1081.1 269.3,1100.4 282.8,1078.6 311.1,1036.9 265.1,1068.5 250.7,1066.4 322.1,1070.2 325.6,1041.9 241.5,1031.4 255,1030.7 260.1,1059.8 289.9,1046.8 260.8,1055.8 275.9,1107.8 312.1,1097.3 320.8,1080.8 309.3,1065 296.4,1030.9 288.4,1078.6 290.7,1080.7 277.7,1045.5 285,1079.5 302.9,1050.6 312.6,1102.9 288.5,1040.7 292.9,1045.1 262,1081.1 288.3,1062.1 327.1,1069.8 261.8,1067.3 303.5,1075.9 280.4,1072.4 281.7,1043.5 261.4,1106.5 265.4,1026.8 310.6,1069.4 303.4,1091 255.9,1066.1 256.9,1100.8 296.3,1099.5 328.6,1072.8 296.7,1070 305.7,1055.8 241.4,1093.6 318.9,1108.7 238.9,1048.7 261.9,1076.6 282.2,1033.3 245.1,1096.5 329.1,1067.8 289.3,1107.9 295,1056.4 328.4,1106.8 238.2,1046.3 278.1,1093.6 266.6,1046.4 304.1,1045.4 317.4,1098.1 260.9,1041.7 279.3,1030.8 265.7,1091.9 283.5,1095.8 247.3,1092.9 296.5,1084.7 247,1076.4 254.7,1048 262.9,1047.1 252.5,1048.3 257.7,1050.8 236.8,1032.1 240,1099.3 250.1,1036.2 256.9,1036.7 238.4,1064.3 275.4,1101.2 254.8,1096.9 328.3,1063.9 294.2,1062.5 316.9,1039 279.8,1088.4 299.6,1058.1 327.5,1059.4 310.9,1050.4 327.7,1101.3 262.6,1073.1 257.8,1065.8 238.6,1090.9 267.9,1092.8 274.4,1102.9 257.8,1094 303.8,1040.5 237.1,1058.5 328.5,1070.3 321.9,1032.9 286.3,1038 278.7,1068.3 275.6,1097.1 260.2,1080.2 298.3,1050.8 249.8,1066.8 236.5,1100.1 308.9,1082.6 250.6,1072.2 235.8,1073 235.6,1078.4 259.6,1040.4 268.4,1047.3 235.4,1033.3 291.5,1043.7 243.9,1072.8 323.2,1040.9 279,1041.6 239.2,1091.7 318.2,1050.9 240.6,1107.3 321.9,1065.7 295.3,1104.9 299.9,1066.1 244,1084.7 240.2,1051 235.8,1061.6 278.7,1094.7 240.7,1047.8 237.2,1100 321.4,1051.2 323.9,1057.3 237.7,1074 293.9,1072 326,1103.5 316.6,1089.1 260.7,1040.5 297,1085.9 257.6,1091.1 258.8,1080.2 317.6,1091.5 241.2,1107.7 286.1,1100.5 244.6,1100.2 316.8,1032.1 295.4,1037.9 249.1,1086.9 282.8,1061 317.4,1069 321.8,1074.6 308.8,1044.1 303.6,1066.8 241,1067.6 301,1095.9 284.4,1041.6 295.4,1063.7 325.3,1050.2 312.2,1049 284.6,1074.5 248.1,1044.1 315.8,1027.3 325.2,1026.2 249.4,1083.3 302.9,1079.9 267.3,1094.6 254.5,1035 245.3,1070.2 320.1,1063.7 271.4,1048.4 321.5,1097.8 285.5,1038.7 257.9,1029.2 246.1,1072.5 276.2,1109.5 272.1,1081.9 290.5,1060.7 264.1,1111 255.9,1102.4 305,1034.9 317.4,1037.5 312.9,1031.9 286.7,1075.8 311.1,1033.8 312.9,1054.4 245.8,1085.4 281,1041.4 287.1,1064.5 283.2,1048.2 254.7,1104.5 260.9,1065.3 300.3,1051.2 282.7,1047.7 273.1,1106 316.3,1102.3 305.4,1105.3 320.8,1051.3 279,1089.1 285.4,1075.1 310.8,1040.9 302.3,1063.3 271.9,1085.3 294.3,1070.8"/>
<polyline class="s2" opacity="0.15" points="252,1033.4 245.4,1098 238.7,1092.1 328.6,1063.2 310,1095.5 284.1,1065.7 318.8,1036.9 303.1,1057.2 303.3,1031.4 294.4,1068.2 278.7,1070.5 322.9,1093.5 284.1,1083.7 274.1,1032.5 236,1097.7 258.2,1099.4 311.8,1073 317.7,1035.7 303.2,1067.5 313.6,1094.1 237.5,1084 253.1,1030.6 249.1,1070.8 270.6,1025.7 323.6,1092.4 329.2,1066.9 294.5,1065.4 286.8,1075.2 264.1,1084.3 237.5,1116.3 297.4,1034.9 263.7,1107.8 239.9,1025.6 285.2,1075.8 258.8,1048.1 280.2,1024.2 282.2,1038.7 258,1084.4 302.7,1051.9 293.2,1096.5 312.9,1053.9 298.2,1057.5 281.3,1110 292.7,1107.7 294.4,1053.7 262.2,1063 298.5,1101.9 267.7,1032.7 315.9,1078 293.4,1075.3 307.4,1104.6 325.1,1077.2 308,1042.1 294.9,1065 283,1034.2 243.4,1054 321.5,1040.7 304.6,1076.6 321.2,1071 248.2,1032.8 282,1107.7 300.6,1057.5 305,1043.2 305.4,1070.5 312.3,1093.2 298.5,1107.6 314,1027.5 288.8,1030.8 250.9,1062.5 301.8,1091.1 325.2,1044.6 311,1087.3 294.7,1089.5 303.1,1058.6 311.6,1047.8 283.7,1061.9 246.2,1108.5 240.9,1049.5 248.7,1037.5 273.7,1071.1 258.7,1072.9 285.3,1047.9 256.6,1069.2 293.7,1044.9 253.3,1102 306.3,1107.1 259.4,1039.9 240.3,1104.4 303.3,1041.3 256.3,1091.1 248.7,1033.8 263.6,1074.2 283.8,1102.8 255.4,1056.9 292.1,1075.8 286.3,1040.7 321.5,1023.9 263.3,1030.9 276.4,1028.6 286.2,1063.2 257.3,1027.8 242.8,1103.7 312.8,1073 298.8,1038.4 243.2,1051.2 319.6,1061 275.1,1055.7 307.7,1103.6 255.9,1042.8 300.4,1082.1 265.2,1089.1 323.4,1070.3 316.9,1032.3 285.2,1052.2 286.7,1082 293.8,1078.5 283.3,1064.1 267.1,1057.9 278.8,1063.5 293.7,1090.9 298.7,1064.8 246.3,1064.1 265.6,1040.8 255.6,1063 273.2,1043.5 259.3,1033.2 247.3,1066.3 236.1,1038.8 272.9,1070.2 315.9,1062.9 287.7,1088.2 264.5,1039.7 313.4,1064.9 287,1097.7 289.1,1086.3 296.2,1092.4 270,1025.1 299.5,1106.9 296.1,1023.7 251.5,1035.7 318.2,1106.3 321.3,1030.8 327.5,1028.6 321.2,1035 291.2,1099.1 286.6,1088 281,1074.8 273.3,1040.4 255.2,1029.6 285.2,1085.6 268,1069.3 275.5,1025.5 323.4,1089.4 295.7,1048.2 263.8,1070.1 319.4,1062.7 258.7,1040.4 302.9,1041.8 313.3,1044.4 249.6,1060.1 319.6,1046.7 276.5,1035 292.4,1031 281.5,1025.4 302.7,1097 252,1106.3 253.1,1057 257.4,1049.1 322.6,1042.4 238.2,1065.1 240.9,1079 280.5,1101.3 279.8,1058 237.2,1092.1 326,1070.5 311.1,1026.9 306.7,1108.4 286.8,1059.1 261.6,1061.4 265.8,1050.9"/>
<polyline class="s2" opacity="0.62" points="265,1043.4 245.1,1048.2 240.7,1031.5 251,1034.9 251.4,1070.1 294.6,1067.5 253.4,1031.6 255.4,1062.1 238.8,1052.9 252.4,1056 326.3,1050.5 254.2,1032.9 253.5,1060.7 298.8,1058.7 252.2,1024.7 318,1041.9 277.5,1051.8 269.3,1035.6 263.7,1063.3 293,1049.3 289.6,1055.9 247.1,1030.8 310.4,1052.8 273.9,1063.9 262.7,1047.7 298.7,1038 294.2,1027.4 267.8,1032 312.4,1055.2 254.5,1027.5 251,1033.1 246.6,1046.1 290.3,1027.5 270,1066.8 282.3,1060.9 256.9,1030.3 261.2,1034 282.6,1049.3 276.2,1030.8 246.8,1046.4 263.4,1033.3 276.7,1053.1 275.9,1054.9 281.7,1047.6 247.5,1034 242.5,1037.6 235.4,1060.6 267.2,1032.8 308,1042.2 237.2,1030.8 290.2,1025.7 301.2,1032.7 277.9,1055.4 277.7,1027.9 313.3,1033.7 245,1066 284.9,1069.5 247,1036.5 259.3,1072 237.3,1026.7 247,1070.4 264.3,1025.9 272,1037.8 235.5,1037 291.1,1024.8 241.8,1043.6 322.4,1024.1 245,1043.9 274.1,1051.9 259.4,1024.8 253.9,1036.5 309.6,1041.4 296.3,1044.3 319.2,1029.4 254.9,1049.4 279,1042.8 294.8,1039.5 251.2,1056.6 236.2,1026.4 293.1,1049.7 297.4,1028.1 267.8,1029.2 261.6,1024.5 257.9,1043.3 279.1,1029.3 286.1,1038.4"/>
<polyline class="s3" opacity="0.62" points="311.7,1050.2 318,1055.3 238.1,1057.3 260.4,1064.7 292.2,1028.1 299.8,1056.8 241.9,1025.9 252.3,1034.3 286.6,1054.3 309.9,1045.6 245.9,1056 293,1029.3 255.2,1032.2 262.8,1036.3 236.3,1029.1 239.8,1049.4 286.9,1026.8 292.9,1037.1 321.3,1037.6 281.2,1054.8 251.7,1070.1 262.5,1055.1 267.8,1029 238.7,1061.6 276,1029.4 241.9,1045.1 279.1,1053.1 238.5,1051.1 261,1036.9 275.9,1058.1 272.5,1035 245.4,1027.5 255.4,1067.3 253.5,1071 258.3,1035.6 313,1034.7 247.4,1030.8 235.9,1040.1 235.7,1059.2 252.8,1039 319.5,1058.5 249.5,1059.1 256,1047 260.9,1034.9 299.1,1061.5 315.1,1062.8 258,1040.1 238.4,1037.4 287.9,1037.6 314,1042.7 321.8,1058.2 240.7,1053.6 278.4,1041.8 257.3,1048.3 247.8,1032.6 271.9,1052.5 311.5,1041.1 239.5,1053.6 259.5,1043.8 291.6,1062.7 257.2,1042.2 256,1068.6 256.9,1049.6 245.4,1045.6 304,1050.7 259,1023.8 250.6,1058.4 259.2,1041.7 243.8,1051.3 260.4,1044.5 313.8,1043.8 243.8,1068.7 241.8,1025.3 303.3,1041.7 259.1,1063.9 294.3,1033.2 275.9,1030.9 270.8,1034.2 274.3,1039.4 312,1059.7 259,1063.6 275,1064.3 277.5,1027.6 249.1,1043.1"/>
<polyline class="s2" opacity="0.5" points="247.5,1111.1 272.9,1101.3 286.8,1100.1 257.8,1106.7 249.5,1110.6 279.1,1103 281.1,1104.3 272.9,1109.3 245.9,1112.5 305.3,1106.6 253.8,1102.6 302.8,1105.4 312.9,1108.8 308,1099.7 251.1,1101.5 263,1106.2 277.6,1107.8 265.5,1110.7 255.2,1102.1 322.8,1105.5 239.8,1101.8 248.6,1102.2 248.8,1105.4 268.4,1102.4 249.7,1104.2 238.5,1111.1 290.1,1102.3 245.1,1113 271.1,1103.6 324,1109.8 243.9,1114.3 247.4,1112.3 299.2,1102.1 286.5,1103.5 236.9,1102.8 288.5,1101.8 294.8,1104.9 237.4,1110.4 271.1,1102.2 280.2,1109.9 275.9,1100.2 287.4,1102.8 283.6,1101.4 288.1,1104.7 289.2,1103.1 265.4,1103.2 256.3,1103.8 250.2,1101.5 269.8,1105.1 259.6,1101.3 255.4,1105 286.4,1105.5 304.7,1105.7 262.8,1102.1 261.5,1107.6 311.5,1106.5 306.8,1102.9 243.1,1103 292,1100.8 296.8,1105.5 302.5,1099.7 310.4,1106.6 236.7,1101.1 237.6,1110.3 268.6,1100.9"/>
<polyline class="s3" opacity="0.5" points="317.6,1103.1 289.7,1106 292.5,1101.6 279.5,1104.9 244.2,1110.8 285.2,1109.3 285.4,1107.3 238.5,1101.8 319.8,1105.3 273.6,1100.4 322.9,1108.4 260.7,1105.9 262.5,1102.7 311.8,1109.2 290.6,1103.4 304.8,1100.6 279.4,1101.2 267.6,1101.3 317.4,1101.2 245.3,1111.2 252.4,1103.2 240.3,1103.1 261,1108.5 308.5,1101 299.6,1102.6 287.1,1109.6 266.7,1100.4 268.6,1101.3 291.9,1108 273.4,1106.4 303.2,1101.4 272.4,1103 243.7,1109.4 302.3,1100 243.2,1104.8 306.4,1104.6 271.4,1104.2 269.2,1109.9 277.6,1104 275.9,1108.3 293.2,1106.6 254.8,1101.8 279.8,1100.1 295.3,1103.7 295.5,1100.7 255.2,1109.8 271.4,1110.6 264.7,1106.5 306.6,1106.7 264.5,1106.9 328.7,1106.1 255.8,1106.9 255.4,1111.5 267.4,1110.9 255.6,1103.2 245.1,1108.3 310.5,1102.7 290.2,1107 261.5,1103.4 250.6,1105.2 242.8,1113.1 264.1,1103.6 302.5,1109.4 301,1101.1 241.9,1108.1"/>
<polyline class="bl" points="278.9,1011.7 285.9,1014.6 249.7,1012.8 245.8,1009.7 268.2,1007.5 298,1013 239.4,1005.9 297.2,1014.7"/>
<polyline class="cb" points="259.7,1013.2 313.2,1013.8 278.6,1006.6 255.8,1010.5 252.9,1016.9 278.9,1011.3 267.5,1011.7 286.4,1014.9 249.3,1012.5 259.9,1006.9 295.6,1017.3 245.2,1010.2 267.9,1007.4 297.7,1013.1 252.7,1015.2 272.5,1008.9 239.2,1005.9 262,1007.2 297.7,1014.9 253.6,1009.8 262.4,1015.9 259.7,1008.5"/>
<polyline class="bl" points="304.7,994.1"/>
<polyline class="cb" points="268.2,958 261.3,972.1 272.2,962.2 275.4,977.1 304.2,993.8 253.9,968"/>
<rect x="234" y="797" width="98" height="326.6" fill="none" stroke="#7f7f7f" stroke-width="2.0"/>
<path d="M234.8 927L331.2 915" stroke="#000" stroke-width="1.5" stroke-dasharray="10.5 5.5" fill="none"/>
<path d="M234.8 1023.3L331.2 1023.3" stroke="#000" stroke-width="2.0" stroke-dasharray="9 5" fill="none"/>
<path d="M235.3 1118.4L244.8 1116.4L254.4 1114.6L263.9 1113.2L273.5 1112.1L283 1111.4L292.5 1111L302.1 1110.9L311.6 1111.2L321.2 1111.8L330.7 1112.7" stroke="#000" stroke-width="2.0" stroke-dasharray="9 5" fill="none"/>
<rect x="233" y="927.2" width="2.8" height="96.1" fill="#0a0ae6"/>
<rect x="330.2" y="914.8" width="2.8" height="108.5" fill="#0a0ae6"/>
</g>
<g>
<rect x="342.9" y="796" width="100.8" height="328.6" fill="#fff"/>
<path d="M345.2 880L354.8 880L364.4 880L374.1 880L383.7 880L393.3 880L402.9 880L412.5 880L422.2 880L431.8 880L441.4 880L441.4 1047.7L431.8 1046.6L422.2 1045.7L412.5 1045.1L402.9 1044.7L393.3 1044.6L383.7 1044.7L374.1 1045.1L364.4 1045.7L354.8 1046.6L345.2 1047.7z" fill="#000" fill-opacity="0.04"/>
<path d="M345.2 1047.7L354.8 1046.6L364.4 1045.7L374.1 1045.1L383.7 1044.7L393.3 1044.6L402.9 1044.7L412.5 1045.1L422.2 1045.7L431.8 1046.6L441.4 1047.7L441.4 1112.9L431.8 1112.9L422.2 1112.9L412.5 1112.9L402.9 1112.9L393.3 1112.9L383.7 1112.9L374.1 1112.9L364.4 1112.9L354.8 1112.9L345.2 1112.9z" fill="#000" fill-opacity="0.045"/>
<polyline class="s1" opacity="0.16" points="410,900.6 428.3,1020.2 368.6,904.5 397.2,963.4 434.3,941.9 386.5,886.5 420.2,1008.3 405.9,945.8 437.5,916.1 367.9,998 427.2,1028.6 436.2,987.3 409.1,967.2 377.9,959.1 373.4,931.1 404.7,967.9 406.4,945.7 364.2,1033.6 361,944.4 398.9,915.5 390.5,939.5 420.7,1008.7 439.2,960.4 371.5,948.1 348.7,1015.9 363.3,904 410.3,974.4 345.2,949.7 391.7,979.5 392.7,921.5 422.6,1014.7 421.3,1035.6 427.2,1011 437.9,920.2 424.6,937.1 414,903.6 420,1018.4 417.9,958.6 426.2,958.4 359.1,948.6 427.9,1006.3 377.6,934 368.5,892.9 424.3,1007.8 368.3,988.9 400.1,965.7 358.6,964.1 396.2,1006.1 362.9,988.3 367.4,895.8 413.1,1043.6 430.3,907.1 422,925.7 395.7,1012.9 423.4,985.9 420.1,961.3 354.1,924.1 370.6,970 361.7,922.2 401.4,887.7 347.5,926.8 411.1,980 434.1,967.3 406.4,936.4 352.3,1030.1 358.3,1012.4 435.2,980.8 377.2,982.8 420.3,1004.6 365.7,948.2 378.8,983.3 383.2,988.3 395.2,1003 418.9,1003.7 398.8,882.4 382.4,1016.6 398,912.5 359.8,1001.1 436.1,925.1 404.9,893.5 368.7,931 435.9,998.3 431.5,928.7 438.3,924.8 411.7,971.9 387.2,937.2 424.1,1018.6 350,1026.7 412.6,1011.3 403.5,1042.1 402.5,991.3 425.1,991.1 364.9,895.3 425.1,1010.3 368.4,975.1 395.1,1013.5 352.8,946 380.8,1038.5 395.4,984.8 422,977 378.6,977.9 403.1,992.5 353.2,919.1 436.6,995.6 385.9,1041.2 438.1,994.9 389.5,1006.1 438.7,942.4 357.9,1019.6 359.2,1044.3 362.5,1024.5 374.8,887.2 370.1,1041.3 377.5,967.3 436.2,1024.8 401.1,982.1 433.2,894.5 362.8,949.7 391.7,904.2 388.6,948.7 422.2,880.1 358.5,980.5 358.4,978.3 357.7,947.4 376.2,898.5 438.9,917.9 348.9,935 438.7,998.9 350.3,971.3 352.4,889 425.5,942.2 358.7,940.2 345.6,996.4 412.1,925.8 423.4,1030.7 410.5,917.7 426.6,987.5 398.3,984 388.5,954.6 378,913.6 384.9,886.3 379.5,906.7 400.4,1026.1 419.8,973.2 436.2,934.9 423.3,908.9 385.8,989.7 355.9,933.2 364,1015.2 382.7,928.1 436.8,1017.4 425.7,928.3 394.1,1011.8 417.3,1032.4 376.8,916.2 417.5,955.7 366.3,928.4 408.6,951.3 429.8,1034.4 383.6,969.8 354.1,966.2 393.7,1026.5 386.7,925.2 426.7,1033.4 402.3,953.2 424.3,1038.3 399.4,994.6 372.1,881.4 391.1,941.1 387.6,1032.1 409.4,901.7 401.4,940.2 359.5,1029.2 404.2,1043.2 396.6,1011.6 379.7,944.1 429.3,1012.7 424.3,927.4 355.5,995.1 387,952.3 408.6,887.4 383.9,994.8 347.6,907.3 385.2,1010.5 391.4,900.1 404.2,951 374.1,1016.7 384.1,912.4 408.6,1011.3 405.4,881.9 384.3,990.5 393.5,914.8 423.3,984.2 398.6,975.9 390.8,924.5 400.1,1022.4 352.3,907.4 437,883 425.8,957.4 396.6,887.5 370.6,994.7 398,1003.4 410.2,1010.5 363.2,886.3 402,991.1 395.9,1013.7 383.5,927.9 349.1,956 360.3,978.2 399.4,960.6 437.8,988.7 426,950.8 422.3,943.4 372.9,1004.1 389.8,974 362.1,892.3 388,932.2 433.5,898.5 361.9,932.7"/>
<polyline class="s2" opacity="0.16" points="346.6,938.3 391.9,898 433.5,1022.6 395.7,943.4 385.3,911.1 371.8,958 402,933.1 384.5,923.8 415,1004.3 408.7,977.8 428.7,956.3 423.7,955.8 412.3,1024.7 358.2,935.4 346.1,1025.6 410.6,1028.9 414.9,957.5 362.9,917.8 381.7,939.2 411,977 404,979.7 436.2,904.1 377,989.2 407.4,986.8 361.7,1003.9 399,1016.4 435.9,1024.2 373.6,1022.9 373,1038.3 346.2,911.3 408.6,911.2 421.3,986.2 428.3,985.6 402.7,1002.4 426.7,916.2 376.5,922.9 436.5,932.4 437.6,936.9 402.6,1006.2 375.5,989.3 396.4,934.5 363.7,944.3 395.4,884.8 352.4,956.5 378.6,995.9 433.3,884.6 363.9,1042.4 418,972 349.6,971.5 407.1,907.7 376.2,966.5 370.8,978.5 395.7,885.1 405.4,895 410.5,984.4 422.1,899.2 368.1,955.7 378.8,1004.2 364.9,998.2 411.4,1012.7 370.7,1025.5 430.2,892.1 362.2,921 381.5,993.8 394.6,971.9 383.5,896.7 400.7,941.2 365.8,904 423.4,1041.7 424.2,1017.1 416.5,1000.3 433.9,1012.6 407.3,958.5 412.6,993.2 404.9,892.5 371.6,909 383.7,962.8 423.9,907.9 381.4,1022.7 431.3,962.1 428.4,950.3 396.3,934.2 372.2,988.1 420,1030.5 365.3,917.2 419.6,1021.9 415.5,1004 396.3,975 393.4,996.9 347.8,949.3 419.7,952.5 368.2,950.9 382.4,942.3 384.6,952.1 348.4,961.7 352.8,987.6 427,1008.9 360,1005.6 401.7,1016.6 370.1,1021.7 420.1,920.6 381.4,905.2 420.3,1038.5 400.2,974.8 418.3,995.5 352,903.5 421.5,931.2 437.4,887.4 438.4,1007.5 385.1,904.2 397.9,941.2 415.3,1031.9 355.7,983.6 427.4,880.7 357.3,967 358.5,1002.1 437.5,929.9 430.9,994.6 355.4,1027.7 384.3,1009.6 351.2,965.9 385.6,889.3 439,961.5 397.7,996.4 350.2,996.2 416.3,1030.2 435.9,913.8 399.6,887.7 351.7,923.6 386.8,951.2 371.9,938.1 363,947.8 378.7,962 401,938 387.3,892.3 437.9,1011.4 389.7,995.1 421.2,971.4 420.5,932.9 386.8,946 423.2,993.2 386.9,971.9 370.7,909.2 362.9,969.9 368.7,1039.6 379.4,907.3 390.3,977.5 415.6,891.3 404.1,1017.5 404.5,977.7 424.1,946.6 396.5,1034.7 354.1,927.5 370.6,950.1 431.8,954.9 420.1,944.5 413,1018.7 380.4,989.8 398.4,990 407.9,1002.4 411.1,910.4 401,914.3 402.2,937.6 385.9,1011.5 370.6,974.7 400.4,912.8 415.4,1013.4 373.2,1035.8 376.4,1004.7 376.4,1001.8 367.2,918.6 401.5,954.3 436.5,1031.3 376.6,919.7 384.5,1020 353.3,922 431.6,1013.2 404.2,1023 350.5,988.6 352.6,1038 388.2,912.3 425.3,979.4 359.4,1022 420.7,1012.6 430.8,938.4 395.7,1026.5 367.4,889 439.9,926.3 401.9,1021.6 398.4,919.9 375,1043 430.4,997.4 440.3,975.7 404.3,962.7 417.6,921.4 427.6,926.5 355.6,935.7 345.6,912.6 354.1,1005.6 349.9,942 432.8,911.7"/>
<polyline class="s4" opacity="0.16" points="380.4,965.3 388.8,957 417.9,927.4 354.4,955.9 406.8,1023.9 373.1,890 419.2,1006.7 348.2,926.1 402.2,1020.9 376.3,890 423.7,983.4 421.2,1005.5 367.9,1012.3 363.5,912.8 408,1034.9 393.5,994.7 354.4,931.9 385,915.7 365.2,925.1 356.7,956.4 369.9,892.3 364.9,896.4 371.2,987.7 406.4,1040.1 401.8,1029.9 355.3,984.6 384.9,966.1 408.2,931.2 399.6,911.1 410.1,989.1 365.5,951.1 346.4,899.9 374.6,1030.5 402.6,982.5 359.8,1038.5 425.6,986.6 368.3,952.6 397.3,969.8 357.8,912.1 415.9,977.9 433,1042.2 382.4,1033.3 397.9,933.6 377,907.3 374.5,1003.9 348.8,926.1 422.4,906.4 415,1034.1 366.3,902.5 407.5,997.6 409.8,992.8 377.8,1015.3 431,931 375.4,940.6 417.7,915 416.4,1029.6 369,1006.8 433.7,950 431.7,884.7 378.2,958.1 389,922.3 386.3,910.4 437.5,928.6 385.3,964.1 420.5,930.5 434.2,1039.6 425.5,1019.9 361.6,940.5 361.1,1020.7 346.6,923.2 440.2,1010.9 429.2,943.1 350.9,1029.9 371.1,941.3 425.9,1037.3 371.9,949 411.8,931.1 346.4,949.6 410.8,923.3 378.8,1016.7 377.3,945.2 355,988.7 411.4,964.4 440.1,994.9 369.5,949 421.3,970.9 420.1,942.6 348.8,934 389.7,1024.7 439.2,953 439.4,966.1 352.1,919.2 404.8,915 437.4,1003.4 382.9,927.4 374.2,972.4 355.7,993 395.4,899.6 394.6,886 370.7,888.1 366.2,1000.2 399,949.5 366,920.1 411.8,900 384.4,983.6 417.4,1037 432.7,964.1 346.8,1035.5 408.7,942.1 380,944 435.6,927.7 425.6,921 349.2,1007.3 349.1,912.3 431.6,977.9 437.9,906.4 350.9,913.4 424.8,1039.7 352.4,923.3 364.5,1016.6 433.2,912.6 365,927.6 403.5,1039.1 417.5,959.4 416.8,902.8 408.2,977.5 393.3,1013.4 404,911.3 392.9,1028.7 399.3,897.8 363,984.4 414.6,904.7 425.2,1041.5 398.8,941.1 437.2,956.4 372.4,935.1 352.6,929.6 370.6,923.9 406.9,992.9 384.5,1029.6 407,1034.5 365.5,1036.5 354.7,1007.7 402.3,888.7 392.9,934.6 390.8,905.6 419.1,935.3 402.8,886.7 411.5,883.3 365.1,889.5 353.2,965.3 402.9,920.1 370,918.6 403.3,909.1 367.2,1033.7 429.2,903.7 420.7,997.2 437,968.3 363,914.6 432.2,899 385.1,888.7 402.6,940.5 387.1,900.8 393.8,910.4 400,891.5 372.9,959.9 417.4,1029.1 405.3,929.8 386.4,929.7 368.1,908.1"/>
<polyline class="s1" opacity="0.4" points="348,946.8 356,882.2 425.5,1020.3 424.3,975.3 429.4,1023.2 365.5,993.3 378,994.4 375.8,940.1 366.9,1014 385.7,999.5 418.2,1027 397.9,951.8 351.8,1014.3 346.6,886.4 347,1000.2 407,946 434.9,929.3 437.8,1011.8 360.3,998.7 438.3,1025.9 392.1,897.4 349.9,952.3 384.6,1014.4 352.8,933.1 355.2,947.7 386.2,889.6 409.4,894.5 388.1,952.1 401.1,928.9 384.2,901 416.1,1018.3 391.9,890.7"/>
<polyline class="s2" opacity="0.4" points="376.9,917.4 355.8,890.2 368.2,1021.4 398.7,908.2 376.1,894.7 401.5,963.9 388.4,1031.3 405.4,1025.1 424.4,933.3 426,953.2 415,1020.2 388,1001 422.1,880.4 384,996.5 398,888.4 346.5,932.4 358.6,961.8 380.6,975.2 410.9,913.4 367.4,887.9 359.4,936.1 346,919.7 389.9,1015.8 412.1,934.3 402.4,883.7 404.8,914.2 398.3,949.5 398.1,928.8 357.9,969.2 354.6,927.3 419.8,957.5 413.8,1039 381.6,987.5 402.8,964.6 365.5,1032.6 390.1,910.8 423.2,983.9 435.3,940.4"/>
<polyline class="s1" opacity="0.14" points="401.3,1078.9 382.4,1106.9 416.4,1101.1 400.6,1049.1 420.2,1071.3 376.3,1071.6 425.5,1106.1 365,1104.1 389.4,1059.4 422,1057.1 439,1087.9 363.6,1099.4 388.4,1048.4 402.7,1068.8 427.3,1062.1 440.2,1051.8 430.7,1099.2 395.5,1074.8 394.2,1048.1 346.3,1048.5 437.8,1101.9 348.6,1090.4 385.7,1099.7 416.8,1069.4 373.2,1059.3 362.7,1047.1 394.6,1058.5 397.7,1055.1 411.5,1063.5 391.4,1082.7 415.6,1079.3 387.1,1091.2 397.1,1047.6 368.4,1048.3 413.5,1084.3 348.3,1077.3 415.5,1093.4 399.6,1067.8 362,1106 378.1,1095.6 429.6,1088.6 403.2,1071.8 368.1,1107.8 400.3,1045.4 425.9,1106.6 377.2,1109 387.7,1104.8 376.4,1058.2 360.4,1085.7 393.4,1095.1 430.8,1092.4 394.2,1074.1 380.5,1087.3 436.8,1080.5 385,1099.9 410.4,1062.1 393.4,1095 409.8,1061.3 376.3,1083.1 367.8,1068.4 367.9,1075.6 364.2,1085.8 398.5,1057.3 413.6,1092.7 395.9,1071.4 428.3,1084.8 371.5,1068.6 374.9,1055.1 396.1,1077.4 349,1093.3 369.7,1065.6 420.5,1096.1 389.1,1051.8 353.5,1059.8 379.6,1092.6 399.3,1105.1 389.8,1107.6 423.3,1064.1 370.1,1050.8 430.2,1071.3 387.9,1058.3 346.4,1101.4 414.5,1071.8 362.3,1090.3 438.6,1094.1 417.2,1077.9 434.6,1081.5 403.8,1065.8 399.8,1095.8 373.6,1052.7 356.9,1069.2 374.2,1048.5 375.7,1107.2 359.9,1058.8 396.6,1090.8 362.8,1059.1 375.3,1107.1 392.2,1079.3 360.2,1080 395.2,1096.7 391.7,1104 366.9,1076.4 439,1062 385.3,1084 346.2,1107.1 358.5,1105.4 376.4,1090.3 426.3,1092.8 363.4,1069.1 369.9,1081.7 383.9,1084.2 378.1,1103.4 372.2,1057.8 360.1,1097.6 402,1090.5 358,1058.4 437.5,1064.7 403.9,1069.6 348.9,1071.5 363.5,1045.9 434.2,1094.5 393.2,1094.1 410.4,1108.8 359,1105.8 380,1093.4 400.1,1091.9 399.9,1099.1 433.8,1064.4 348.5,1101.7 382.3,1061 394.4,1090.1 403.8,1088.9 392.7,1067 396.1,1056.5 433.6,1111.2 437.4,1055.7 351.1,1059.2 377.9,1046.6 431.4,1077.9 425.8,1101.7 346.8,1097.6 419.8,1078 433.4,1050.3 359.9,1077.9 413.8,1083.7 373.1,1071 348.9,1062.7 403,1071 369.9,1068 408.6,1100.5 413.2,1065 385.3,1091.6 386.6,1069.4 413.9,1062.2 423.6,1104.5 419.7,1062.3 353,1107.9 353.2,1100.7 354.1,1053.9 366.9,1069.6 424.6,1099.4 360.4,1074 422.9,1081.8 352.4,1090.5 386.6,1102.3 428.6,1087.9 416.4,1090 370.1,1070.9 402.8,1097.6 366.3,1067.2 436.8,1075.2 425.3,1084.2 402.7,1056.9 374.5,1067.3 437.3,1102.9 431.8,1085.2 421.1,1065.6 396.6,1090.3 362.2,1077.6 408.5,1091.6 356.5,1063.5 358.1,1080.8 380.6,1087.7 401.8,1089.4 352.7,1097.8 371.9,1096.6 355.8,1062"/>
<polyline class="s2" opacity="0.14" points="427.5,1061 383.3,1047.4 438.5,1071.8 418,1047.3 437.3,1058.2 371.6,1065.9 400.1,1109.3 352,1110 384.7,1078.9 406,1082.4 364.8,1110.6 378.9,1079.8 378,1111 411.3,1047.7 428.2,1055.4 412.6,1086.6 379.7,1069.8 429.3,1091.1 365,1066.8 361.4,1056.5 396.1,1085.3 389.6,1051.5 380.7,1056.2 425.1,1111 420.2,1104.4 382,1095.9 349.9,1069.9 398.4,1109.7 427.7,1101.5 386.9,1048.3 438.6,1058.7 437.9,1054.8 410.3,1066.9 395.2,1059.9 423.8,1078.9 346.7,1058.4 378.7,1093.4 378.6,1083.9 376.7,1061.7 407.6,1073.7 424.6,1072.3 396.6,1086.5 420.9,1046.2 427.6,1057.4 427.1,1081.2 420.3,1052.7 435.6,1061.8 358.6,1107.2 346.4,1075.2 414.3,1092 381,1079.4 393.8,1081.6 411.3,1054.8 384.6,1091 359.7,1054.6 415.5,1068.6 349.1,1075.3 427.4,1046.2 398.5,1099.6 369.1,1050 376.1,1099.2 356.3,1060.6 418.5,1075.7 354.7,1073 366.1,1079.9 414.7,1101.7 410.3,1065.4 352.8,1051.1 365.3,1066 432.3,1093 354.4,1051.6 355.9,1098.5 417.9,1055.7 367.8,1097.7 398.8,1044.9 405.3,1092.8 362.1,1085.3 387.5,1105.3 376,1070.4 431.3,1091.1 362,1110.3 347.5,1077.6 346.9,1100.2 428.3,1076.2 420.1,1074.9 417.2,1093.6 428.5,1088.7 398.2,1049.7 366.3,1049.4 357.9,1073.3 432.3,1065.4 345.4,1049.5 439,1067 352.5,1064.2 392,1071.8 395.3,1055.1 419.7,1050.6 358.8,1058.6 378.7,1062.6 417.5,1089.1 346,1048.8 434.6,1107.2 393.7,1083.3 388.8,1074.4 375.5,1076.3 435.5,1074.7 360.4,1053.1 367.8,1074 353.3,1098.8 366.4,1104.2 370.4,1108 391,1065.3 412.3,1046.2 439.4,1109.5 416.4,1047.2 350.5,1068.7 386,1106.8 410,1100.7 349.5,1100.9 404.3,1084.7 432.9,1071.1 390.9,1100.9 413.8,1091.8 425.9,1067.3 412.9,1099.6 353.6,1081.1 368.2,1052.7 431.1,1085.6 418.1,1069 396.9,1061.9 399.3,1069 397.5,1080.1 413.1,1065.3 420.3,1085.5 395.6,1047 436,1082 434.3,1100.5 377.2,1098 384.6,1103.4 364.5,1074.1 372.3,1065.5 430.9,1101.9 349.5,1111.4 438.8,1108.9 397.7,1076.6 439.4,1108 427.8,1098.6 400.6,1077.8 406,1091.3 405.9,1072.5 435.6,1089.8 399.9,1087.3 369.7,1074.8 424,1055.6 411.1,1073.9 392.4,1071 397.2,1091.8 381.6,1104.6 414.5,1077.8 398.4,1086.5 356.1,1068.7 345.7,1056.4 355.9,1094.5 432,1057.5 348,1048 383.4,1048.2 357,1088 348.5,1110.2 358.1,1108.5 409.2,1088.5 367.6,1080.3 412.5,1096.3 427.6,1090 389,1090.7 414.8,1061.4 372.9,1056.4 431.8,1051.7 370.4,1049 352.6,1075.1 348.7,1049.7 355.9,1097.5 373.2,1096.2 358.1,1048.9 412.1,1045.5 348.6,1099.1 419.4,1063.7 390.5,1055.4 405.1,1105.8 353.4,1067 357.6,1066.2 358.5,1106.2 423.6,1060.3 432.5,1094.5 433.2,1099.1 435.6,1071.4 348.3,1051.5 403.6,1053.5 363.4,1066.9 380.7,1051.8 419.5,1092.4 369.5,1105 392.5,1057 398,1078.9 426,1068.2 397.8,1073.1 433.2,1086 364.7,1057.4 435.9,1052.3 387.3,1093 365.3,1103.2 362.5,1062.8 392.3,1110.7 384.5,1086.9"/>
<polyline class="bl" points="377,901.4 355.5,947.2 354.7,988.7 432.5,1019.5 377.5,965.4 426.1,942.8 436.6,997.7 357.9,917.3 356,1004.1 408.7,939.6 408.1,935.1 427.6,948.5 426.5,981.2 406.8,964.1 357.1,1010.2 428,981.1 403.8,999 349,970.4 381.9,920.6 406.1,949.8 421.9,997.8 437.1,933.2 406,1002.2 408.2,1031.3 418.5,992.9 390.8,992.5 362.8,1015.3 394,990.1 355.8,966.2 352,992.7 370.7,1003 404.8,969.2 436.7,949.7 376,917.3 398.4,981.4 385.5,931.4"/>
<polyline class="cb" points="376.4,902 355.9,947 355.3,988.2 432.3,1019.4 351.8,949.6 371.1,1039.3 377.3,965.9 426.4,943.3 436.4,998 357.7,917 355.8,1004.1 387.4,963.8 408.9,939.8 407.5,934.9 437.4,947.5 427.6,948.5 426.6,981.5 406.4,963.6 434.5,1014.1 357.6,1010.5 427.9,981.2 403.4,1033.2 404.2,998.5 361.7,966.6 348.9,970.7 382.5,920.1 406.6,949.6 421.6,997.6 436.6,932.9 405.8,1001.7 408.6,1030.8 418.6,992.9 391.2,992.5 362.7,1015.6 393.4,990.3 355.3,965.6 351.8,992.4 370.5,1002.7 405.1,969.2 409.3,997.6 436.4,949.2 375.5,946 375.6,916.7 409.7,963.9 398.4,980.9 435.6,971.9 425.1,1004.9 385.3,931.4"/>
<rect x="343.9" y="797" width="98.8" height="326.6" fill="none" stroke="#7f7f7f" stroke-width="2.0"/>
<path d="M344.7 880L441.9 880" stroke="#000" stroke-width="2.0" stroke-dasharray="10.5 5.5" fill="none"/>
<path d="M344.7 1047.8L354.4 1046.6L364.1 1045.7L373.9 1045.1L383.6 1044.7L393.3 1044.6L403 1044.7L412.7 1045.1L422.5 1045.7L432.2 1046.6L441.9 1047.8" stroke="#000" stroke-width="1.4" stroke-dasharray="12 2.5" fill="none"/>
<path d="M345.2 1112.9L441.4 1112.9" stroke="#000" stroke-width="2.0" stroke-dasharray="9 5" fill="none"/>
<rect x="342.9" y="880" width="2.8" height="168" fill="#0a0ae6"/>
<rect x="440.9" y="880" width="2.8" height="168" fill="#0a0ae6"/>
</g>
<g>
<rect x="453.7" y="796" width="100" height="328.6" fill="#fff"/>
<path d="M456 856.9L465.5 856.9L475.1 856.9L484.6 856.9L494.2 856.9L503.7 856.9L513.2 856.9L522.8 856.9L532.3 856.9L541.9 856.9L551.4 856.9L551.4 1067.4L541.9 1066.6L532.3 1066L522.8 1065.6L513.2 1065.3L503.7 1065.2L494.2 1065.3L484.6 1065.5L475.1 1065.9L465.5 1066.5L456 1067.2z" fill="#000" fill-opacity="0.025"/>
<rect x="456" y="876" width="95.4" height="34" fill="url(#bandB)"/>
<path d="M456 1067.2L465.5 1066.5L475.1 1065.9L484.6 1065.5L494.2 1065.3L503.7 1065.2L513.2 1065.3L522.8 1065.6L532.3 1066L541.9 1066.6L551.4 1067.4L551.4 1116L541.9 1116L532.3 1116L522.8 1116L513.2 1116L503.7 1116L494.2 1116L484.6 1116L475.1 1116L465.5 1116L456 1116z" fill="#000" fill-opacity="0.04"/>
<polyline class="s1" opacity="0.12" points="469.5,900.3 496.2,937.7 461.3,904.7 549,909.8 540.8,897 532.9,933.2 501.3,993.7 534.2,1034.3 528.3,961.1 507.2,868.3 528,921.7 482.8,1040.4 523.8,982.4 514.6,879.5 521.9,918.7 549,954 508.3,1019 519.3,907.4 498.6,942.7 542.8,956.9 479.3,899.4 484.9,1023.6 542,1045.6 535,953.1 543.9,879.3 537.3,907.9 517.8,945.3 466.3,997.4 529.9,1036.5 536.3,1020 521.5,990.3 461.3,1060.9 513.1,1011.6 461.1,1043 536.6,985.2 538.7,888.1 474.7,914.1 529.8,922.3 528.9,1013.9 547.5,970 495.8,865.6 509.2,883.3 459.9,1048.8 510.5,1019.3 478.9,968.5 505.7,897.2 544.9,989.9 457.2,1002.7 475.9,1049.3 469,950.7 492.6,982.4 474.3,996.7 539,1020.7 531.8,1004.8 508.2,967.2 486.9,910.3 529.8,902.7 527.9,1015.7 535.3,931.4 548.5,1025.4 520.4,934.1 513.5,886.3 477.1,906.6 543,1040 463.2,893.6 478.8,1036.3 512.4,908.6 533.6,959.5 467.7,871.5 542.9,954.2 541.4,1054.4 460,977.9 519.8,900.9 515.5,945.2 463.6,938.1 513.2,1051 461.5,1022.6 533.2,1029.5 540.5,968.7 535.8,1018.9 479.4,978.6 494.3,857 479,902.4 517.6,882.7 492.2,981.5 548.8,875.2 466.5,1042.5 544.7,920.3 527.5,976.9 495.4,963.6 501.2,885.5 502.7,928.5 507.1,994.6 478.2,1039.2 527.8,1021.3 535,985.3 468,975.8 471.9,902.6 481,999.2 518.8,1056.7 497.9,871 549.3,1030 466.6,957.9 502.4,937.9 480.5,1021.1 482.3,940.9 538.9,974.4 544.1,1051.7 487.8,1040.1 537.6,1012 515.7,907.6 541.9,925.5 501.6,884.3 459.8,954.5 514.2,1000.4 549.5,987.3 500.9,979.7 527.6,887.4 526.1,967.8"/>
<polyline class="s2" opacity="0.12" points="513.8,1023.2 485.3,1007.7 534,924.7 468.1,1010 478.4,904.8 505.9,996.8 533.7,995.2 546.4,1036.1 508.7,936.4 456.5,984.2 464.4,918 539.2,873.9 462.3,1001.7 459.8,905 499.5,968.2 523.4,992.4 542.7,1059.7 481.4,870.1 532.5,960.2 532.4,1042 539,1013.6 508.4,977.7 513.5,865.1 544.9,857.8 501.3,947.6 515.8,1053.4 525.8,976.1 526.3,924.8 474.8,890 493.9,976.2 520.2,913.2 527.7,902.4 543.3,868.5 487.4,1059.9 473.5,1023.2 484.7,860.9 544.2,870.9 472.4,1015.6 457.7,1043.3 495.4,952.7 498.8,858.2 470.6,1005 549.9,918.3 461.9,865.2 537.7,890 537.1,914.6 509.8,971.4 530.6,1024.7 459.5,971.7 476.2,1060.4 543.7,1062.7 492.2,876.6 487.4,954.9 525.9,936 483.3,896.2 513.2,858.4 521,937.7 470,999.6 473.2,897.8 524.7,931.8 465.6,962.4 505.2,894.1 511.6,1030.8 460.9,955.1 499.6,1010.3 507.2,935.8 476.6,963.2 535.6,995.5 512.3,901.9 504.4,973.2 499.9,1020.6 516.4,858.8 540.5,1053.2 489.6,970.8 547.1,958.9 536.8,1031.7 488.7,1037.8 543,920.2 458.8,1053.9 545.3,1045.5 528.2,940.1 486.3,938.5 537.2,861.3 518.5,1063.4 530.8,919.7 493.3,990.2 538.7,897.7 468.8,1064.4 477.9,913.2 474.2,1015.2 461.6,1044.4 504.1,917.2 546.5,964.9 489.8,861 525.8,974.1 522.6,1052.7 487.3,971.9 508.3,1031.4 505.9,975.7 532.5,995.9 544.7,948.7 462.4,928.7 474.3,941.4 499.3,1043.6 480.2,977.4 525.6,947.4 517.2,959.5 510.7,865.2 471.5,1044.4 505.3,911.8 520,987 464.3,965.1 540.4,928.2 507.7,989.3 486.9,1052.1 546,886.8 487.8,1054.9 472.1,988.6 469.9,958.7 473.1,1053.6 503.2,1027.7 534.7,1053.9 535.6,913.5 469.4,871.7 534.8,927 458.2,970 513.6,936.2 541.2,891.5 458.5,1003.5 492.5,1015.4 486,881.6 485.7,860.1 484.3,1014.7 484.4,945.7 478.4,949.3 475.6,895.6 466.8,1020.3 550,857.4 491.8,864.3 479.8,888.4 541.1,910.4"/>
<polyline class="s1" opacity="0.12" points="460.1,1114.1 497.2,1091.8 461,1111.2 460.4,1076.1 516,1092.7 488.2,1081 484.2,1072.4 511.5,1091.9 508.2,1069.1 490.2,1073.5 521.3,1099.2 545.2,1098 498.4,1081.2 488.7,1112.2 499.9,1092.5 463.1,1102 545.3,1088.7 499.3,1078.4 457.3,1079.5 486.7,1086.6 472.7,1082.5 493.5,1114.2 461.4,1089.3 460.3,1068.2 545.8,1110.9 463.6,1070.6 532.3,1111.2 489.7,1101.8 471.9,1104.5 498.5,1076.3 457,1067.3 498.4,1085.8 474.7,1094.2 509.5,1066.5 506.4,1083.8 490.6,1094.2 529.3,1069.7 520.5,1078.7 540.7,1072 505.4,1094.7 464.4,1090 517.7,1070.4 548.7,1082.6 458.1,1071 538,1094.2 507.1,1092.2 527.5,1108.6 471,1088.5 464.3,1101.8 534.4,1066.9 479.5,1094.1 515.7,1077.3 531.9,1094.2 513.7,1112.4 541.4,1108.8 470.5,1106.3 520.6,1090.5 464.6,1070.9 482.9,1095.9 548.3,1109.9 521.2,1067.2 517.7,1071.5 478.6,1101.2 520.2,1092.4 485.3,1079.4 476.6,1070.9 547,1096.7 499.9,1108.5 459.2,1074.3 513.8,1097.9 475.3,1083.4 526.7,1092.9 507.9,1073 501.4,1093.9 531.2,1077.8 537.3,1089.6 458.7,1096.4 507.9,1088 550.3,1088.9 458.3,1088.2 489.1,1079.1 473.1,1094.7 520,1066.2 471.2,1081.4 523.3,1111.4 495.7,1082.8 457.5,1088.6 537.4,1088.1 459.8,1111.1 509.2,1088.4 537.6,1087.8 522,1106.1 546.9,1069.3 463.2,1089.4 480.2,1113.4 489.8,1109.6 541.7,1095.5 547,1077.9 474.9,1068.7 549.7,1112.9 519.4,1077.6 509.8,1073.7 485.2,1101.5 459.6,1070 496.4,1100.2 497.4,1077.7 460.4,1089.3 477.6,1109.4 507.7,1072.4 502.6,1093.7 539.6,1091.8 504.3,1108.9 468.7,1113.8 457.4,1112.7 511,1096.1 480.1,1103 514.3,1110.5"/>
<polyline class="s2" opacity="0.12" points="468.6,1100.4 473.2,1084.4 519.3,1074.9 536.3,1113.6 487.1,1089.8 479.7,1085 500.6,1068.5 486.9,1073.7 530.3,1111.1 515.2,1069.7 512.9,1106.8 537.9,1081.9 484.1,1112.1 478.2,1094.6 514.6,1082.9 482.1,1090.7 536.8,1100.9 499.4,1102.6 519.5,1108 524.2,1094.4 498.8,1071.4 504.2,1106.7 507.6,1099.3 483.3,1072.4 509.6,1083.2 496.2,1071.3 504.5,1097.1 472.6,1101.7 535.9,1076.2 462.3,1110 470.5,1068 475.6,1076 494.8,1100.2 473,1068.4 482.1,1108.2 474.7,1076.5 496.2,1072.5 487.5,1096.9 492.1,1082.4 469.9,1112.1 517,1113.1 527.3,1083.3 501.9,1090.7 549,1081.4 482,1067.3 518.7,1074.5 542.5,1081.4 536.6,1094.3 457.1,1079.3 518.3,1090.1 542.7,1077.6 517.3,1113.1 538.4,1078.8 500.5,1102.4 526,1093.4 459.3,1078.5 506.3,1073.3 541.2,1068.5 462.8,1095.1 500.5,1080.4 494.5,1094.9 503.6,1083.6 483,1071.6 531.4,1076.7 511.5,1101.4 465,1074.6 495.6,1086 521,1113.9 545.9,1100.3 518,1092.7 473.6,1101.1 482,1077.5 514.3,1103.8 530.6,1089.5 465.9,1094.6 469.9,1069.4 511.3,1105.5 491.9,1092.8 536.9,1098.2 490,1068.7 516.7,1082.2 504,1079.4 476.6,1096.6 529,1084.5 460.2,1073.3 531.6,1076.1 490.8,1088 526.8,1111.3 485.8,1088.2 549,1069.7 506.2,1113.5 472.2,1095.1 459.8,1069.9 472.5,1099.7 522.7,1081.7 550.1,1098.4 491.7,1106.1 460,1104.1 502.2,1077.6 478.4,1106.5 516.2,1086.9 517.2,1079.9 488.4,1099.2"/>
<polyline class="bl" points="504.9,889.2 461,883.6 491.2,892.9 489.9,894.1 509.5,885.9"/>
<polyline class="cb" points="532.5,883.7 501.6,889.6 528.5,880.1 543.3,891.3 512.8,898.5 514.9,894.8 508.9,883.8 467.6,888.6 467.3,899.5 519.2,893.2 502,884.7 474.6,885.6 520,883 505,889.2 545.7,876.2 485.8,890.9 467.1,881.9 484,884.3 461.4,883.8 490.9,892.9 460.8,876.7 512.6,878.1 479.7,883.9 539.4,884.4 509.4,890.7 492.3,894.2 460.3,882.3 532.4,879.3 489.8,887 465.2,894.5 534.5,897.9 525.7,899.8 526.6,895.3 489.8,893.9 497.2,893.5 487,891.8 486.5,884.8 541.6,885.9 513.4,877.8 464.2,882.9 546.8,891.2 511.9,886.1 514.7,878.3 545.7,891 480.8,889.4 509.3,885.5"/>
<polyline class="cb" points="500.5,905 507,908 525,907.5 548,910 535.5,924 506,938 489,953 511,993"/>
<rect x="454.7" y="797" width="98" height="326.6" fill="none" stroke="#7f7f7f" stroke-width="2.0"/>
<path d="M455.5 856.9L551.9 856.9" stroke="#000" stroke-width="2.0" stroke-dasharray="10.5 5.5" fill="none"/>
<path d="M455.5 1067.2L465.1 1066.5L474.8 1065.9L484.4 1065.5L494.1 1065.3L503.7 1065.2L513.3 1065.3L523 1065.6L532.6 1066L542.3 1066.6L551.9 1067.4" stroke="#000" stroke-width="1.3" stroke-dasharray="12 2.5" fill="none"/>
<path d="M456 1116L551.4 1116" stroke="#000" stroke-width="2.0" stroke-dasharray="9 5" fill="none"/>
<rect x="453.7" y="856.9" width="2.8" height="210.5" fill="#0a0ae6"/>
<rect x="550.9" y="856.9" width="2.8" height="210.7" fill="#0a0ae6"/>
</g>
<g>
<rect x="564.2" y="796" width="100" height="328.6" fill="#fff"/>
<path d="M566.5 838.2L614.2 838.2L661.9 838.2L661.9 1071.8L614.2 1071.8L566.5 1071.8z" fill="#000" fill-opacity="0.02"/>
<rect x="566.5" y="851" width="95.4" height="34" fill="url(#bandB)"/>
<path d="M566.5 1071.8L614.2 1071.8L661.9 1071.8L661.9 1119.1L614.2 1113.5L566.5 1107.9z" fill="#000" fill-opacity="0.045"/>
<polyline class="s1" opacity="0.1" points="597.5,1011.2 642.4,1050.2 639.4,900.7 587.5,971.7 657.9,890.7 657.8,1064.1 633.5,957.5 623.9,1024.7 606.6,932.1 616,875.7 627.9,966.1 567.3,1059.3 598.7,1055.3 628.3,1049.8 623.2,872.4 622.1,933.9 626.3,907.5 577,1058 658.7,986.9 636.6,909.2 575.4,918.3 616.2,1051.7 649.8,848.7 573.4,1014.3 587.5,1012.7 651.3,1065.2 645.8,904.9 632.4,1001.3 566.7,989.7 569.9,962.2 595.5,1039.8 596.3,883.7 596.8,1039.4 613.5,942.4 596.3,868.7 618,856.9 620.2,1029.9 658.3,894.6 590.3,868.4 651.7,886.5 656.5,884.5 642.3,1011.2 654,872 592.2,1007.3 649.2,1013.3 639.3,991.7 603.4,971.7 586.1,1039.9 630.7,839.1 608.3,1027.6 655.7,926.7 645.1,959.8 622.9,848.7 626.9,923.7 602.8,1042.5 575.9,1045.6 604.7,939.8 623.5,1020.3 629.5,1028.2 580.7,946.6 660.4,905.9 600.6,878.5 599.4,855.5 633.1,946 572.7,973.2 614.7,956.8 646.1,961.2 577.3,1012.6 653.1,893.2 576.1,1043.2 626.1,971.4 625.1,1067.8 623.2,1001.7 639,968.6 596,884.3 586,1014.6 590.4,923.4 583.5,955.1 625.5,890.7 633.8,946.4 580.1,997.7 647.5,957.8 658.1,1051 584.7,975.1 625.5,1063 609.6,909.1 577.4,915.2 617.6,877.4 656.5,874 621.7,908.9 607.3,931.7 569.6,968.4 652.1,876.5 625.2,1053.9 623.7,979.9 588,1031 605.6,1037 634.4,854.6 612.4,978.8 601.1,855.3 578.3,1044.3 634.7,1047.5 592.5,1060.6 645.6,1003.4 623,868.4 605.6,997.2 578.6,870.2 579.4,867.3 621,880.9 656.5,876.4 638.9,1006.5 615.9,1024.9 604.7,852.2 598,1069.7 660,926.4 610.3,967.2 632.6,863.3 574.3,1049.4 636.4,982.3 588.8,968.6 568.7,977.5 590.6,885 582,846"/>
<polyline class="s2" opacity="0.1" points="626.5,996.9 567.4,905.7 566.6,926.6 578,876.7 588.8,921.2 631.8,861.8 585.1,953.2 581.9,1042.1 652.7,975 608,984.9 635.6,905.4 591.2,1046.7 581.1,992.9 599.8,964.7 605.8,899.5 590,1068.8 649.1,839.4 656.1,937.4 581,983.4 650.1,1052 652.2,862.3 571,982.6 636.4,1060.5 645.8,919.3 607.1,920.5 610.1,889.1 607.5,913.6 620.6,1008.7 620.4,839.9 586.3,916.8 631.1,997.9 595.8,997.8 640.2,1020.2 605.7,928.8 651.2,892.2 586.2,1034.8 569.4,936 603.5,1026.7 578.7,964.7 604.1,1053.2 636.1,1064.9 599,950.5 572.2,1031.1 571.1,1042.4 581,894.9 618.6,1037.1 571.8,978.5 633.8,842.2 619.5,1019.9 582.2,942.5 577.1,848.4 648.7,1038.1 614.8,1029.1 608,892.7 651.9,1035.7 610.9,874.7 568.4,883.3 649.9,912.2 571.5,913.6 602.1,861.8 578.2,925.5 654.8,1031.1 602.7,979.8 585.6,1020 647.5,1000.9 594.1,1060.6 612.1,982.2 633.4,859.2 583.2,982.4 579.8,850.6 647.6,867.6 633.7,993.9 612.5,924.3 633.6,1055.3 575,885.6 574.2,973.5 584.1,1054 580.5,946.4 638.7,879 601.4,1025.2 570.8,851.3 646.9,892.8 653.9,880.9 626.1,894.3 643.4,1022.6 618.7,871.9 611.7,904.9 642.3,1013.5 604.2,842.4 658.4,1029 641.8,965.1 624.5,896.7 651.5,866.9 592,954.6 590,965.7 632.4,848.2 647.5,1011.5 634.1,976.6 649.6,942.6 636,872.8 649.6,855.3 625.8,877 615.2,882.8 618.5,1068.6 620.3,892.2 617.1,1069.9 598.2,938.4 588.6,848.4 619.8,1055.3 649.1,1048.4 578.6,975.8 572.5,1039.4 590.9,1046.8 596,945.3 595.3,1027 618.9,1037.3 638.8,882.9"/>
<polyline class="s1" opacity="0.14" points="658.3,1103.1 607.5,1077.9 593.2,1093.1 637.6,1076.8 606.9,1088.7 584.3,1096.6 632.6,1101.3 572.7,1075.9 583.7,1072.3 654.6,1099.8 620.1,1103.4 650.5,1099.6 639.7,1105.4 610.6,1085.3 627,1077.7 659.1,1107.7 621.3,1082 596.7,1097.6 596.1,1075.1 581.6,1078.3 603.3,1091.7 640.9,1093.1 582.8,1104.7 594.3,1098.4 568.7,1079.4 608.2,1086.9 621.3,1102.6 590,1079.7 638.8,1083.9 597.7,1082.1 625.3,1093.4 597.5,1091.3 636.2,1077.6 594.4,1078.3 620.6,1074 607.6,1096.8 607.1,1088.4 643.9,1084 645,1101.1 639.6,1085.3 600.6,1086.8 583.7,1072.8 581.3,1076.3 598.7,1095 571.2,1089.6 608.8,1080.4 627.2,1110.1 660.4,1086.6 613.9,1077.7 633.3,1084.5 637.8,1109.4 581.9,1094.2 617.9,1086.3 607.3,1101.5 590.4,1081.2 624.6,1086.2 610,1088.1 603.3,1083.8 631.7,1104.4 577.8,1103 602.7,1103.4 650.1,1072.3 585.4,1074 608.3,1077.8 647.9,1106.8 629.2,1089.4 632.3,1092.2 602.6,1108 584.8,1077.6 628.6,1087 649.7,1113.7 596,1105.6 577.2,1095.3 570,1086.2 584.4,1073.5 639,1092.1 638.9,1097.8 656.7,1109.5 659.3,1095.5 567.9,1082.6 629.5,1100.4 590.9,1105.8 606.4,1095.1 566.8,1075.9 600.8,1083.4 579.7,1097.9 632.4,1100 606.5,1109 646.5,1081.9 637,1092.3 651.1,1107.3"/>
<polyline class="s2" opacity="0.14" points="650.8,1085.5 589.1,1098.4 647.1,1087.2 576.1,1071.9 583,1106 642.5,1075.8 649.7,1073.6 617.4,1106.5 643.9,1075 630.7,1081.9 630.5,1090.6 639.9,1081.8 605.8,1106.2 603.4,1078.5 615.6,1100.9 609.2,1093.6 642.3,1098.2 588.5,1103.9 568.2,1076.6 621.2,1108.6 644.9,1086 617.9,1107.4 608,1101.4 621.6,1095.8 631.5,1094.7 576.2,1083.5 586.4,1074.5 609.1,1095.1 596.3,1091.9 612.3,1094 658.9,1078 609.1,1082.9 602.8,1092.5 613.7,1076.1 607.2,1085.7 608.5,1095.1 581.1,1084.9 593.7,1076.8 628.5,1099.7 642.4,1105.3 640,1076.9 635.6,1112.3 625.3,1111.2 613,1081.2 590.3,1099.5 588.6,1071.9 598.6,1106.4 626,1109.3 573.1,1072.3 623.9,1112.2 577.3,1084.1 608.9,1077.4 574.7,1079.3 566.8,1094.3 608.2,1097.2 638.1,1099.3 607.7,1103.4 608.9,1102.3 658.7,1083.6 595.9,1096.8 636.3,1096.1 638.6,1096.2 591.8,1080.6 657,1106.5 582.1,1097.7 639.1,1072.6 632.5,1089.9 621.4,1080.1 640.3,1099.4 642,1071.9 572.6,1087.8 637.7,1076.8 606.8,1079.9 659.6,1105.5 660.8,1099.4 582.7,1099 659.3,1108.6 578,1088.8 612.7,1104.3 609.7,1090.8 620.4,1090.3 651.7,1089.6 569.1,1106.2 640.1,1076.8 630.5,1087.9 605.6,1088.5 601.4,1094.5 568.3,1075.4 608.5,1082.4 592,1081.6 659.4,1086.5 636.2,1074.7 606.5,1109.8 578.1,1098 597,1086.4 567.4,1093.5 624.6,1084.6 598.3,1079.5 595.2,1089.2 630.6,1084.2 583.6,1086.2 629.7,1100.3 605,1105.8 603,1104.1 642.1,1087.9 595.4,1092.9 608,1103.2 621.6,1077.1 587.8,1103"/>
<polyline class="bl" points="635.4,870.9 652.5,867.3 606.5,877.5 596.5,878.8 643.7,871.8 656.7,882.4 625,861.4 575.3,874.9 583.1,874.3"/>
<polyline class="cb" points="635.9,870.9 594.9,858.7 583.4,879.6 601.6,879.4 627.8,879.7 652.2,867.2 650,866.4 648.6,867.2 626.3,869.2 636,876.3 606.9,878 601.8,871.2 649.4,876.4 587,864.7 616.5,876.3 597,879.3 606.4,873.5 650,874.9 607,872.9 644.2,872.2 651.9,874.1 589.7,858.4 594.9,875.7 655.3,872.2 591,869.3 613.5,860 656.6,882.5 658.1,862.6 657.5,865.8 599.3,867 657.2,876.4 570,881 623.2,865.6 619.6,873.7 625.4,861.8 621.1,861.6 614.6,876.9 607.4,873.8 614.8,875.1 598.8,875.2 616.9,862.5 614.5,873.7 582.5,875.3 633.6,864.4 574.9,874.9 579.3,876.3 611.7,869.6 620.6,879.8 650.7,859.3 657.2,867.6 636.1,879.1 583.9,857 623.8,877.2 645.8,875.2 636.8,876.1 587.2,857.3 585.9,873.3 640.1,869.2 629.8,876.3 597.9,864 582.9,874.4 606.1,875.6"/>
<polyline class="cb" points="597.5,912 624,910 637.5,934 601.5,940 581,961"/>
<rect x="565.2" y="797" width="98" height="326.6" fill="none" stroke="#7f7f7f" stroke-width="2.0"/>
<path d="M566 838.2L662.4 838.2" stroke="#000" stroke-width="1.8" stroke-dasharray="10.5 5.5" fill="none"/>
<path d="M566 1071.8L662.4 1071.8" stroke="#000" stroke-width="1.8" stroke-dasharray="9 5" fill="none"/>
<path d="M566.5 1107.9L661.9 1119.1" stroke="#000" stroke-width="1.6" stroke-dasharray="9 5" fill="none"/>
<rect x="564.2" y="838.2" width="2.8" height="233.6" fill="#0a0ae6"/>
<rect x="661.4" y="838.2" width="2.8" height="233.6" fill="#0a0ae6"/>
</g>
<g>
<rect x="675.7" y="796" width="99.7" height="328.6" fill="#fff"/>
<path d="M678 816.2L725.5 816.2L773.1 816.2L773.1 1081.1L725.5 1080.1L678 1079.1z" fill="#000" fill-opacity="0.015"/>
<rect x="678" y="842" width="95.1" height="34" fill="url(#bandB)"/>
<path d="M678 1079.1L725.5 1080.1L773.1 1081.1L773.1 1120.7L725.5 1120.7L678 1120.7z" fill="#000" fill-opacity="0.02"/>
<path d="M678 1103 C692 1100 706 1110 722 1118 L678 1120z" fill="#000" fill-opacity=".15"/>
<polyline class="s1" opacity="0.09" points="697.4,894.5 702.1,953.5 711.6,977.1 690.9,824 710.2,877.2 726.7,1043.2 716.5,1070 765.6,895.6 727.3,852.5 723.8,1018.1 723.3,1003.9 711,962.7 759.3,1074.4 770.4,1045.7 695.8,922.3 681.4,983.2 761.2,909.7 723.2,964.4 738.4,840.2 750.2,1032.5 708.6,962 722.2,869.3 695.2,890.1 697.6,912.2 729.6,886.6 731.7,943.5 699.4,849.1 766.7,954.8 744.6,970.9 771.2,973.4 682.5,989.1 707.5,1063.5 751.9,990.2 686.5,1070.4 744.9,830.2 710.9,959.2 687,1067.9 722.3,1076.3 685.1,988.1 767,1016.7 680.7,898 682.8,933.5 768.7,953.8 695,998.5 713,1048.2 749.6,925.5 712.2,824.2 744.6,906.7 765.4,833.6 735.4,996.7 705.2,889.9 753.5,891.2 739.5,823.3 711.3,997 753.4,969.9 698.9,929.2"/>
<polyline class="s2" opacity="0.09" points="711.9,902.1 737.1,927.3 763.8,1016 685.1,1003.9 687.5,962.3 695.8,982.9 691.6,1023.7 760.8,1027.3 741.2,818.5 708.3,993.1 728.1,960.6 691.6,827.2 700.1,1006.4 688,915.1 740.5,1007.2 709.2,944.3 757.1,958.1 764.8,1002.2 684.4,984.2 760.5,1038.3 739.9,971.2 742,854.2 766,992.6 757.5,868.5 681.3,1051.2 679,900.9 713.2,1054.1 686.5,843.8 682.7,884.7 763.4,926.8 746.2,976.6 704.4,917.9 763.9,881.4 768.4,828.5 727.5,996.4 717.2,876.8 739.4,969.6 693.6,973.6 683,1006.3 752.8,956.5 685,1043 758,1053.7 721.4,976.9 766.4,1032.4 723,1023 720,1065.4 728.8,922 746.9,822 718.2,1050 710,841.7 731.9,946.5 695.9,979.2 684.4,1048.2 748.3,1020 744.9,934 753.3,905.4 723.1,888.2 685,1056.2 759.1,913.1 753.2,867.2 747.1,968 732.5,903.3 692.8,972.7 688.9,824.3"/>
<polyline class="cb" points="743.1,848.4 716.6,864.9 754.5,848.3 721.2,857.7 763.4,852.8 698.4,859.6 694.2,862.4 713.6,853.2 739,859.7 749.6,854.4 725.2,865.8 760.5,848 697.3,856.9 739.7,860.2 721.6,851 709.7,861.9 699.5,852.2 697.7,862 693.9,859.7 690.2,862.1 716.3,855.8 749.2,867.9 723.1,860.9 706.2,853.2 727.4,869.5 740.1,859.1 715,861.6 760.3,856.9 759.4,854.2 705.1,857.9 732.7,863.6 756.6,858.2 734.1,857.8 701.1,860.8 763.1,858.6 689.6,849.2 763.8,865.5 689.2,848.7 734.5,860.7 739.1,850.6 745.4,857.5 683.7,864.6 699.6,854 720.3,863.2 744.7,852.6 704,861.8 765.8,860 702,853.5"/>
<polyline class="cb" points="689.5,915 753.5,922.5"/>
<rect x="676.7" y="797" width="97.7" height="326.6" fill="none" stroke="#7f7f7f" stroke-width="2.0"/>
<path d="M677.5 816.2L773.6 816.2" stroke="#000" stroke-width="1.2" stroke-dasharray="10.5 5.5" fill="none"/>
<path d="M677.5 1079L773.6 1081.2" stroke="#000" stroke-width="1.4" stroke-dasharray="12 2.5" fill="none"/>
<path d="M678 1120.7L773.1 1120.7" stroke="#000" stroke-width="2.0" stroke-dasharray="9 5" fill="none"/>
<rect x="675.7" y="816.2" width="2.8" height="262.8" fill="#0a0ae6"/>
<rect x="772.6" y="816.2" width="2.8" height="265" fill="#0a0ae6"/>
</g>
<g>
<rect x="786.1" y="796" width="99.7" height="328.6" fill="#fff"/>
<path d="M788.4 800.1L836 802.3L883.5 804.5L883.5 1080.9L836 1080.9L788.4 1080.9z" fill="#000" fill-opacity="0.012"/>
<rect x="788.4" y="822" width="95.1" height="70" fill="url(#bandB)"/>
<polyline class="s1" opacity="0.1" points="837.5,819.8 858.7,831.9 797.6,826.9 828.2,854.9 809.1,812.1 858,850.4 877.5,844.3 793.9,820.5 832.8,831.9 870.1,893.8 868.2,865.9 790.6,864.2 807.9,875.5 822.6,820.8 857.9,833.7 858.9,824.5 812.6,883.3 849,878.7 841.5,869.5 878.4,845.1 854.5,887.8 809.3,853.9 823.2,867.7 792.6,886 845.7,872.2 858.7,805.2 832.5,833.9 832.9,867.6 847.6,849.9 830,842.7 811.4,882.3 871.1,868.8 792.2,891 843,891.9 821.8,880.5 815.3,866.3 842.5,807.8 800.3,814.8 877.1,853.3 833.4,872.6 866.9,878.3 857.7,832.7 880.4,857.9 828.7,887.9 828.4,840.2 830.1,806.4 840.7,825.9 865.7,891.3 801.2,833.2 808.3,844.4 846.5,876.7 844.8,817.1 797.4,843.4 837.4,837.7 831.6,894.1 881.5,880.2 798.2,860.1 860.1,817.9 875,835.6 856.8,817.2 838,806.9 843.5,847 860.2,849.8 810.6,887.1 789.4,886.6 837.4,875.3 864.2,845.1 858.1,856.8 841.9,855.2 798.7,857.5 817.5,826.7 800.4,868.5 868.2,871.2 876.4,885.2 822,827.3 860.4,878.6"/>
<polyline class="s2" opacity="0.1" points="840.9,823.1 830.1,809.3 864.4,825.4 789,830.7 875.9,848.4 798.4,844.7 799.6,862.7 832,895.3 818.2,880.4 799.1,812.1 793.6,852.2 847.2,869.8 828.3,820.6 876.9,847.9 791.2,825.5 802.5,887.1 842.8,872.7 863.4,812 830.1,816.1 839.2,848.3 865.5,836.6 841.5,829.5 807.8,883.9 792.9,841.3 827,848.7 844.1,893.6 823,859 809.7,817 796.1,856.6 802.2,846.9 817,838.3 791.9,875.7 871.1,820.3 838.4,823.5 853.3,894.3 820,838.1 867.5,892.4 859.5,853.9 851.9,886.5 872.3,841.3 855,833.9 854.9,880.5 879,856.1 841.3,815.5 866.6,811.7 843.5,828.2 829.2,812.9 858.7,858 851.8,855.2 840.5,811.8 821,886.9 852.8,876.6 845.6,808.3 867.9,866 879.5,857.3 808.3,860.2 878.6,823 861.5,824.5 861.5,840.3 842,815.6 814,876.5 840.4,864.9 872.6,868.1 788.9,889.7 826.1,832.6 811.5,838.5 856.4,824.1 833.8,823.4 806.2,801.9 794.9,871 832.1,892.3 828.5,893.7 846.6,857 882.4,832.7 836.2,806.4 852.8,806.7 803.2,893.9 833.5,804.7 830.1,831.2 854.9,872.1 847.5,878.5 832.2,854.3 869.1,813.9 872.7,810.5"/>
<polyline class="bl" points="803,875 852.8,871.2"/>
<polyline class="cb" points="830.8,875.2 854.9,876.2 793.1,865.8 801.7,880.3 818.9,872.4 860.3,875.9 819.8,877.3 801.4,878.4 805.9,874.4 792.4,879 803.3,871.2 880.2,873.3 847,881.8 805.5,876.9 877.2,879.4 795.9,867.5 874.9,873.4 841.1,875.1 813.5,883.6 854.9,886.5 873.3,875.2 817.3,877 873.8,886.8 871,875.7 869.8,880.6 803.3,874.9 869.9,873.8 802.8,875.4 849.6,869.7 815.6,875.8 854.8,880.6 839.7,881.4 878.9,879.5 802.7,868.6 827.8,878.5 798.7,864.4 840.6,882.1 862.6,881.2 852.4,871.5 872.8,884.7 830.9,879.3 854.6,878 816.1,868.8 795.5,871.9 852.1,878.7 861.8,876.4 847.4,877.3 798.3,862.8 870.5,881.2 850.8,876.3 795.8,871.3 814.5,880.7 842.5,871.8 864,886.4 832.1,875.7 868.4,874.3 869,880.7 838.5,873.9"/>
<polyline class="bl" points="838.5,835.5 821.6,850.7"/>
<polyline class="cb" points="837.7,855.6 821.1,849.8 854,859.8 840.2,831 851.5,853.3 810.6,843.5 805,829 854.9,849.8 820.5,861.7 800.5,864.3 839.2,860.3 850.7,838.1 829.2,841.9 800.1,845.9 798.2,860.5 853.1,859 857.9,859.1 838.8,835.8 821.3,851.3 837,841 848.3,836 862.5,844.7"/>
<rect x="787.1" y="797" width="97.7" height="326.6" fill="none" stroke="#7f7f7f" stroke-width="2.0"/>
<path d="M787.9 800.1L884 804.5" stroke="#000" stroke-width="1.3" stroke-dasharray="10.5 5.5" fill="none"/>
<path d="M787.9 1080.9L884 1080.9" stroke="#000" stroke-width="1.8" stroke-dasharray="9 5" fill="none"/>
<path d="M788.4 1109.3L883.5 1109.3" stroke="#000" stroke-width="2.0" stroke-dasharray="9 5" fill="none"/>
<rect x="786.1" y="800" width="2.8" height="280.9" fill="#0a0ae6"/>
<rect x="883" y="804.6" width="2.8" height="276.3" fill="#0a0ae6"/>
</g>
<path d="M219 1110.2L227.6 1114" stroke="#000" stroke-width="1.6" stroke-dasharray="20 1" fill="none"/>
<text x="111.2" y="1012.6" font-size="24.7" text-anchor="end" fill="#1414e0">CP</text>
<text x="111.4" y="1065.4" font-size="24.7" text-anchor="end">IZ</text>
<rect x="123.3" y="1144.6" width="99.7" height="250.5" fill="#ebebeb"/>
<rect x="234.2" y="1144.6" width="98.7" height="250.5" fill="#ebebeb"/>
<rect x="344.3" y="1144.6" width="99.3" height="250.5" fill="#ebebeb"/>
<rect x="455" y="1144.6" width="99.3" height="250.5" fill="#ebebeb"/>
<rect x="566" y="1144.6" width="99" height="250.5" fill="#ebebeb"/>
<rect x="676.7" y="1144.6" width="98.6" height="250.5" fill="#ebebeb"/>
<rect x="787.4" y="1144.6" width="99.6" height="250.5" fill="#ebebeb"/>
<path d="M120.3 1144.7V1396.1" stroke="#000" stroke-width="3" fill="none"/>
<path d="M105.3 1146.2H120.3" stroke="#000" stroke-width="3" fill="none"/>
<path d="M105.3 1203.2H120.3" stroke="#000" stroke-width="3" fill="none"/>
<path d="M105.3 1267H120.3" stroke="#000" stroke-width="3" fill="none"/>
<path d="M105.3 1329.5H120.3" stroke="#000" stroke-width="3" fill="none"/>
<path d="M105.3 1394.6H120.3" stroke="#000" stroke-width="3" fill="none"/>
<text x="96" y="1153.8" font-size="24.8" text-anchor="end">100</text>
<text x="96" y="1402.8" font-size="24.8" text-anchor="end">0</text>
<text x="33.7" y="1403.9" font-size="30.3" transform="rotate(-90 33.7 1403.9)">Radial position</text>
<text x="63.9" y="1405.2" font-size="30.2" transform="rotate(-90 63.9 1405.2)">(% CP thickness)</text>
<rect x="138.4" y="1146" width="69.5" height="145" fill="#286eb9" fill-opacity="0.43"/>
<polyline class="pb" points="145.4,1194.4 187.2,1213.5 155.5,1374.6 183.2,1341.4 139.9,1177.8 182.7,1170.3 148.5,1156.2 142.9,1279.5 152.5,1192.4 156,1178.8 156,1149.1"/>
<rect x="138.4" y="1215.9" width="69.5" height="5.4" fill="#231f20"/>
<rect x="248.1" y="1195.4" width="70" height="164.1" fill="#286eb9" fill-opacity="0.43"/>
<polyline class="pb" points="305.5,1181.8 290.9,1210 280.8,1270.9 281.8,1359.5 277.8,1367 313.5,1361.5 316.1,1286 323.1,1353.5 273.8,1340.4 238,1181.8 307,1377.6 304,1348.4 310,1389.7 292.9,1151.6 304,1311.7 282.3,1248.3 275.8,1272.4 242.1,1178.3 273.3,1173.8 289.4,1361.5 278.3,1310.2 284.3,1172.8 319.1,1180.8"/>
<rect x="248.1" y="1274.8" width="70" height="5.4" fill="#231f20"/>
<rect x="363.9" y="1206.5" width="68.9" height="117.3" fill="#286eb9" fill-opacity="0.43"/>
<polyline class="pb" points="433.5,1268.1 354.2,1201.3 433.4,1388.8 424.4,1351.8 352.2,1217.5 422.1,1291.5 354.9,1206.3 427.3,1281 433.7,1233.7 349.9,1180.8 428.9,1314.3 397.5,1329.5 392.4,1309.5 363,1197.2 438.5,1213.2 366.7,1204.9 421.7,1223.4 355.1,1242.3 355.3,1209.9 433.8,1178.2 351,1171.2 405.3,1197.9 389.3,1317.2 431.4,1374 371.7,1294.3 389.5,1311.9 388.6,1286.6 420.9,1333.9 355.2,1216 366.4,1224.3 360.3,1209.4 422.3,1304.9 425,1240.9 433.3,1356.8 401,1303.3 439.9,1259.5 400.8,1325 433.4,1256.8 364.7,1203.7 362.3,1316.1 430.3,1238 420.9,1237.4 428.5,1265.9 422.7,1359.2 430.3,1347.9 433.6,1257.2 362.1,1201.6 429.6,1255.8 402.6,1261.3 422.3,1202.3 391.4,1317.3 360.8,1203.6 435.3,1246.3 420.3,1218.4 424.1,1371.9 440.5,1206.4 437.7,1367.2 431.4,1242.7 405.5,1316.7 366,1222.2 357.5,1204.1 422.1,1301.6 399,1222.9 435.1,1312.4 440,1243.6 428.8,1158.1 357,1168 435.3,1231.6 361.1,1219.8 429.4,1242.4 354.9,1215.6 418.7,1212.1 424.7,1309.5 427.2,1207 425.3,1239.2 431.2,1292.1 354.1,1210.6 363.2,1206.8 432.9,1279 398.8,1298.6 431.7,1263.6 431.8,1240.3 358.9,1190.8 353.3,1219.7 425.9,1342.6 400.5,1305.1 368,1206.7 438.7,1291.8 434.1,1231.5 360.8,1199 419.2,1204.5 433.2,1244 420.5,1224.9 433,1338.4 422.3,1216.4 395.3,1235.1 426.7,1219.5 396.9,1303.2 369.5,1195.2 432.7,1309.9 362.2,1189.1 427.3,1211.6 373.9,1193.4 358.7,1201.1 371.7,1209 372.4,1218.8 364.6,1192.5 397.4,1327.8 387.4,1317.8 431,1190.1 364.1,1211.7 435.5,1242.7 433,1388.6 440.1,1323.1 358.8,1204.7 424.5,1174.3 367.8,1201.1 421.6,1219.1 436.6,1250.7 353.9,1256.2 369.9,1205.8 359,1209.2 361.8,1183.8 427.7,1231.2 390.6,1310.7 366.3,1181.3 434.3,1366.7 389.4,1329.5 354.7,1211.5 433.5,1262.2 419.6,1330.8 421,1385.5 425.9,1234.8 429.9,1214 356.9,1204.3 418.6,1348.6 425.8,1257.5 352,1215.4 423.3,1280.9 427.6,1319.4 391.1,1265.8 361.3,1215.6 428.5,1188.8 425.3,1281.2 358,1190 431.4,1276.9 362,1270.9 370.6,1195.7 372.5,1204.8 429.8,1189.7 421.1,1265.5 429.4,1344.7 367,1192.7 439.9,1273.9 437.5,1276.5 438.7,1237 360.3,1218.3 429.7,1310 354.9,1187.6 361.9,1196.5 436.8,1284.4 427.6,1222.9 427.2,1310.5 428.5,1317.9 427.9,1274 372.4,1341.2 419.7,1333.7 400.1,1304.9 429.7,1255.3 418.7,1287.1 425.3,1322.7 428.9,1250.8 423,1227.2 403,1269.9 358.3,1196.3 422,1371.1 366.8,1183.7 362.7,1168 370.6,1217.3 438.8,1287 356.1,1211.5 424.9,1238.7 420.8,1204.3 353.3,1193.2 431.2,1229 427.6,1249.5 360.3,1180.5 429.9,1262.4 430.3,1264.6 363.9,1183.5 427.3,1326.5 356.5,1250 400,1316.4 425.9,1312.3 438.8,1297.1 436.2,1182.5 422.5,1388.2 424.6,1289.9 435,1315.2 437.1,1366.4 421.9,1251.4 420.1,1378.9 362.8,1182.1 429.4,1278.7 429.9,1241.5 439.6,1383 419.7,1234.6 354.8,1213.2 394.1,1228.1 430.7,1252.4 426,1304 418,1245.1 397,1239.6 391.7,1325.5 430,1309.5 426.5,1171.3 439.2,1389.3 400.5,1314.2 363.5,1182.3 429.4,1242.2 436.3,1253 441,1243.2 400.3,1274.9 356.8,1206.7 359.7,1216.6 396.4,1227.3 351.7,1181.3 421,1226.5 423.4,1211.4 421.4,1206.8 425.7,1290.9 437.7,1296.5 430.2,1339.2 442.2,1231.6 432.8,1358.4 434.4,1342.9 427.5,1215.8 352.6,1211.9 432.4,1303.9 366.9,1225 361.1,1241.5 424,1375.7 428.8,1316.7 425.6,1165 368.3,1254.9 430,1375.1 435.1,1379.9 430.4,1309 433.3,1349.6 416.9,1286.2 416.8,1210.4 423.7,1276.6 359.3,1189.5 433,1235.6 421.1,1250.6 440.4,1220.5 425.7,1329.1 387.2,1309.3 398.2,1325.6 431.5,1253.4 364.1,1288.2 420,1363.1 353.7,1194.5 431,1217.1 404.3,1330.6 430.9,1200.1 350.8,1261.5 433.4,1241.4 429,1288.9 428.5,1326.5 363.2,1298.7 351.2,1190.8 426.9,1231.2 364.5,1279.8 394.4,1266 422.8,1282.8 352.2,1239 425.5,1266.2 358.2,1191.8 425.6,1308.1 419.5,1309 426.9,1218.7 433.3,1317.7 439.6,1265.1 425.7,1265.9 431.5,1206.7 425.6,1342.8 362.8,1213.2 423.4,1249.1 422.8,1320.9 386,1318 360.7,1212.4 422.1,1215.4 429.6,1256.6 427,1252.6 352.6,1213 428.3,1241 438.1,1274.7 364.5,1228.8 432.3,1210.9 357.1,1213.7 436.2,1230.1 424,1335.8 358.2,1187.5 423.3,1346.4 434.2,1197.8 417.5,1283.5 353.6,1197.7 422.7,1226.6 352.1,1181.3 422.5,1307 425.5,1331 420.8,1295.6 353.8,1170 421.1,1385.4 426.9,1178 425.5,1230.5 435.8,1301.8 362.2,1204.8 436.8,1184.3 436.9,1325.1 436.6,1225.3 404.6,1224.4 363.5,1194.2 365.5,1200.2 435.4,1200.3 431.6,1183.4 393.3,1304.1 425.9,1271.4 426.7,1382.9 394.5,1315.6 352.2,1202.6 426.7,1308.3 423.6,1202.4 427.7,1295.2 368.2,1212.9 358.5,1181.7 437.2,1334.7 386,1176.1 394.4,1307.8 431.9,1226.3 437.5,1236.9 429,1344.6 360,1357.7 436.5,1319.8 425.7,1321.2 419.3,1355.9 368.1,1202.4 425.1,1198.1 416.6,1270.5 438.4,1288 361.1,1208 422,1256.6 430.1,1272.8 355.7,1169.2 372.1,1205.4 435.1,1207.6 367.1,1207.8 438.2,1214.8 435.3,1312.9 428.8,1348.2 427.9,1253.5 428.5,1233.5 437.5,1285.2 365.4,1213.7 433.7,1301.2 422.4,1290.3 431.4,1359.4 419.7,1361.2 428.8,1244.2 430.2,1307.4 355.1,1168 432.1,1320 438,1335.1 357.2,1202.6 432.5,1195.2 429.9,1355.8 426.7,1216.9 436.5,1244.8 355,1169.7 370.1,1251.5 430.8,1239 395.9,1160.5 370,1194.1 359.7,1191.1 436.1,1333.8 373.2,1201.2 356,1232.5 365.6,1203.4 360.8,1185.3 360.9,1180.2 420.1,1298.3 427.1,1218.2 400.1,1326.2 366.6,1199.8 425.4,1265.1 432.7,1355.7 431.3,1299.8 357.6,1196.3 431,1183.8 360.7,1194.3 429.4,1290.3 352.3,1210.8 391.5,1308.4 436.4,1245.4 417.2,1281.9 418.9,1253.7 422,1373.2 366.2,1192.6 370.4,1213.2 425.7,1287.3 418.1,1240.8 430.7,1241.6 433.1,1373.8 425.4,1206.1 361.7,1195.8 354.1,1182.8 418.4,1287.6 419,1300.7 432.8,1315.2 364.3,1215.7 435.1,1285.2 427.6,1230.8 427.8,1347.5 431.9,1290.5 439.6,1291.4 425.7,1191.3 357.8,1232.5 360.7,1188.2 439.4,1265.6 434.6,1318.6 417.5,1226.5 428.1,1306.8 423,1291.8 428.3,1224.7 418.2,1314.7 370.7,1294.5 356.7,1183.1 427.9,1244.6 418.1,1371.2 388,1304.1 439.7,1318.3 422.3,1237.8 424.9,1212.7 432.9,1291 354.9,1170.5 421.4,1293.3 422.4,1296.6 418.4,1293.6 427.1,1363 432.7,1372.3 395.2,1292.9 419.1,1273.8 370.3,1208.8 431,1185.3 369.5,1192.3 428.1,1270.1 427.7,1230 423.6,1194.7 429.8,1193.5 422.3,1232.7 433.2,1342.7 432.2,1251.3 423.5,1254.4 428.3,1226.6 420.6,1281.9 394.8,1312.3 433.7,1223.9 440.4,1252.6 358.1,1204 354.3,1185.8 424.7,1301.2 417.7,1351.3 431.4,1214.5 396.2,1308.5 363.8,1172.7 368,1294.3 440,1297.4 437.7,1265.1 417.4,1345.3 368.1,1199.8 430.4,1258.2 432.7,1189.2 427.5,1216 429.9,1298.8 359.1,1331.4 419.5,1299.9 358.4,1227.5 365.1,1200.5 354.4,1183.3 361,1210.4 391.8,1269 357.6,1196.8 434.9,1278.5 416.9,1273.4 438.8,1327.2 392.2,1316.2 427.4,1236 423.8,1364.6 433.5,1372.2 371,1197.9 421.4,1310.8 367.6,1232.5 392.5,1304.6 366.8,1202.7 363.2,1199.3 367.1,1211 349.9,1170.7 426.2,1308.8 424.7,1284.5 431.3,1254.9 423.2,1302.7 366.1,1312 428.5,1186.1 426,1277.8 431.2,1229.3 425.2,1304.8 437.5,1282.3 433.1,1257.6 431,1238.7 373,1347.8 418.9,1261 434.9,1256.8 434.4,1245.9 430.4,1258.1 437.6,1298.2 423.5,1305.3 356.5,1194.9 359,1203.1 353.7,1191.7 419.7,1234.6 425.8,1203.2 421.3,1225.3 386.3,1313.8 400.5,1317.6 390.8,1314.2 431.6,1259.1 432.3,1248.6 429.9,1285.5 419.4,1212.9 361.4,1181.3 356.2,1337 429.5,1275.6 367.1,1193.9 372,1217.4 434.6,1365.9 363.2,1175.6 372.1,1211.2 427.6,1286.8 359.5,1196 354.1,1182 420,1211.2 358.8,1184.6 434.9,1279 423.6,1350.9 361.1,1199.6 430,1239.5 434.7,1282.4 421.8,1214.8 416.8,1247.7 359.8,1174.8 427.7,1304.3 435.3,1264.8 430.5,1305.1 426.2,1315 425.7,1243.2 373.7,1185.8 367.2,1207.1 352.5,1274.3 429.7,1185.3 356.1,1197.5 428.9,1385 391.1,1320.1 436.5,1177.6 371.5,1207.3 435.6,1252.2 435.4,1257.9 354.9,1190.8 357.4,1187.6 430.2,1214.7 422,1278 437.8,1202 424.2,1332.7 357.3,1262.2 364,1195.3 417,1263.4 426,1215.9 359.9,1217.1 354.8,1299.1 367.4,1195.8 429.5,1380.2 373.1,1186.4 429.7,1368.8 426.1,1203.5 361.3,1206.5 419,1329.5 433.1,1291.8 421,1366.1 432.9,1206.2 369.5,1192.4 431.4,1328.6 431.7,1261.5 351.1,1196.3 417.2,1296.8 351,1214.3 363.1,1200.3 424.7,1277 436.8,1266.6 370.2,1197 430.4,1233 432.2,1212.2 360.1,1188 434.2,1261.5 435.5,1300.2 436.9,1257.4 431,1314.7 422,1266.9 366.2,1191.1 425.7,1210 417.5,1282.2 370.5,1203.3 432.6,1230.6 361.6,1219.4 428.7,1214.8 423,1238.3 438,1382.6 367.3,1250.9 406.2,1320.4 357.5,1189.9 427.3,1212.4 431.3,1275.5 431.3,1354 363,1197.4 394,1283.1 425.4,1302.3 429.9,1243.9 361,1211 435.9,1288.5 434.4,1369.5 351.4,1194.3 364.5,1315.2 395.5,1324.1 424.9,1216 387.8,1314.1 355.2,1184 437.5,1228.8 417,1293.5 370.1,1192.3"/>
<rect x="363.9" y="1261.7" width="68.9" height="5.4" fill="#231f20"/>
<rect x="473" y="1168.1" width="70.1" height="65" fill="#286eb9" fill-opacity="0.43"/>
<polyline class="pb" points="503.8,1199.6 513,1202.5 546,1193.7 505.7,1204.2 473.5,1201.6 538.5,1181.8 471.9,1189 527.6,1213.7 545.9,1219.7 480,1192.3 475.8,1213.3 462.9,1259.5 532.7,1195.9 539,1191.5 507.6,1198.9 531.5,1198.7 526.7,1202.2 481.5,1200.4 528.2,1203.8 505.8,1200.1 476.6,1203.1 478.1,1231.6 499.7,1202.3 467.6,1180 537.1,1201.6 460.8,1186.1 537.6,1218 464.7,1193.8 501.5,1219.2 534.8,1193.9 476.9,1194.4 477.5,1178.7 475.4,1175.7 533.8,1210.4 503.5,1219.3 512.5,1198 473.3,1173.7 482.3,1190.3 507.8,1197.7 464.9,1199.8 504.5,1199.3 471.9,1198.4 508,1198.8 505.1,1201 501.2,1218.6 502.7,1178.9 469.1,1194.5 499.8,1195.1 538.4,1203 501.8,1188.9 470.2,1170.1 481.2,1179.5 476.4,1179.9 497.2,1191.6 467.8,1191.5 512.2,1194.7 545.7,1193.8 527.6,1194 536.3,1203.7 540.8,1196.3 465.5,1188.7 535.5,1183.2 465.5,1182.7 540.4,1203.1 535.5,1246.8 503.9,1192.7 475,1210.8 545.5,1200.1 466.2,1202.2 540.8,1183.8 538,1211.7 526.9,1211.3 538.5,1196.5 499.9,1206.7 496.9,1235.6 464.7,1191.5 528.7,1215.8 517.1,1211.8 475.8,1189.8 468,1214 471.3,1190.9 474,1198.7 509.8,1216.9 468.5,1179.7 470.4,1191.9 511.9,1181.7 530.5,1204.7 531.9,1184.5 475.7,1192.9 509.7,1209.1 502.2,1196.8 515.8,1186.2 510.3,1184.5 481.1,1199.5 506.4,1188.8 540.9,1196.8 478.7,1179 539.6,1187 505.9,1207.9 529.2,1193.3 529.4,1213.9 546.7,1199 527.9,1212.6 478.5,1182.7 497.5,1212 496.7,1188.4 474.2,1177.7 500.5,1196.3 528.3,1193.1 511.7,1209.1 481.2,1187.9 507.6,1210.3 528,1214.2 470,1182.9 479.5,1193.9 541.5,1199.3 535.8,1219.5 497.7,1186.2 497.4,1240.7 532,1197.2 479.5,1190.5 495.9,1391 531.9,1199.8 504,1223.8 539.3,1206.1 474.5,1203.1 532.3,1212.4 497.7,1179.1 506.3,1198.3 508.7,1197.9 480.6,1200.4 501.9,1188.2 540.9,1201.7 496,1184.2 540,1207.1 498,1193.4 542.8,1198.6 505.5,1195.9 463.9,1227.5 462.3,1171.9 471.5,1159.5 510.6,1205.9 539.8,1195.6 495.1,1204.3 533.3,1208.1 537.3,1208.9 533.9,1187.4 462.1,1186.4 498.8,1207.8 544.7,1213.5 507,1370.7 494,1210.1 511.9,1214 510.3,1201.9 500,1196.9 511.1,1276.3 462.7,1179.7 544.4,1201.3 538.1,1202.8 474.6,1195 531.8,1196.6 497,1198.9 509.9,1209.4 540.6,1213 502,1197.6 529.7,1211.1 499.2,1178.7 471.6,1196.4 541.4,1195.9 504.2,1203.2 479.6,1161.5 504.2,1208.1 532.9,1212.9 480.1,1176.6 527.9,1194.4 496.3,1200.7 497.6,1192.2 546,1213.2 470.2,1192.7 508.3,1197.3 536.5,1185.8 498,1218.5 528.4,1194.4 503.3,1183.9 532.9,1196.7 462.2,1189.2 495.4,1180.9 545.4,1191.4 540.2,1189 474.1,1189.4 499.2,1209 502.3,1188.7 538,1217.3 534.3,1206.3 527.5,1213 534.2,1204.3 515.8,1205.6 536.8,1213.3 539.6,1203.5 514.9,1202.8 528.6,1202.9 498.3,1198.5 509.9,1197.2 462,1190.1 502,1293.5 537.7,1207.7 478.9,1182.8 527,1212.7 475.6,1261 526,1191.5 508.2,1199.7 477.1,1209.3 477.3,1202.2 504.9,1186.6 504.7,1207 495.3,1213 542.1,1195.3 482.2,1322 511.7,1198.3 533.7,1189.7 472.2,1206 511.1,1345.3 501.2,1206.5 546.1,1199.5 504.9,1201.2 546.7,1175.7 506.8,1203.2 463.5,1215.2 543.9,1192.7 502,1345.8 466.6,1178.5 470.4,1198.6 503.5,1295.1 539.5,1234.1 549.5,1202.7 536.7,1208 473.1,1191.4 466.5,1180.7 476.2,1173.6 536.1,1223.2 541.6,1220.2 508.2,1198.2 500.7,1208.3 505.8,1215.5 545.1,1163 467.1,1187 471.8,1205.4 528.4,1208.8 465,1172.6 470.8,1200.7 499.9,1154.4 532.4,1334.2 535.7,1200.1 529,1216.1 527.9,1288.5 534,1161.5 538,1202.4 499.5,1210.2 528.9,1231.6 510.2,1183.7 545.1,1195.5 531.4,1190.2 512.5,1208.7 527.4,1177 541,1202.5 530.9,1191.8 470.5,1252.4 466.9,1195.5 510.2,1188.9 541.3,1193.3 503.9,1189.9 542.7,1209.8 547.1,1207.7 513.9,1195.1 466.1,1193.7 496.6,1201.7 512,1190.6 471.7,1197 533.3,1190.1 503.7,1223.8 541.4,1198.6 537.9,1217.4 478.1,1190.3 512.9,1199.4 494.5,1199.6 462.3,1185.8 515,1209.1 508.6,1324 513.6,1303.7 543.5,1213.8 498.7,1203.5 527.7,1205.7 498.3,1204 495.7,1186.9 513,1214.1 472.9,1189.6 534.3,1230 471.1,1206.8 530.8,1210.5 475,1193 544.6,1203.3 479.3,1176.8 478.6,1196.3 507.9,1187.3 465.4,1251.9 540.6,1281.3 502.7,1193.2 464.1,1188.3 466.8,1166.8 494.2,1210.7 464.6,1186.1 463.3,1188.2 549.3,1211.7 507.8,1218.3 467.1,1181.4 464.8,1215.2 505.4,1215.9 496.7,1207.7 499.4,1186.2 499.9,1293.5 506.7,1214.9 503.6,1209.6 476.2,1183.4 497.7,1199.5 539.2,1197 471.2,1197.8 496.4,1209.7 538.8,1203.9 503.8,1199.2 476.4,1192.4 501.5,1194.9 538.7,1177 515.4,1200 531.4,1206 477.1,1192.8 541.2,1199.6 534.7,1198.2 510.2,1195.4 538.5,1196.7 472.6,1206.6 471.4,1195.7 527.4,1198.1 527.7,1200.1 529.1,1195.3 475.2,1179.8 463.5,1184.1 495.2,1181.8 478.3,1184 473.8,1202.9 504.8,1191 512.9,1195 517.1,1192.1 498,1198.3 532,1200.2 510.3,1194.9 472.8,1215.2 504.2,1207 471.2,1184.6 476.9,1211.2 506.1,1192.4 530.3,1219.1 473.9,1215.2 535.5,1213.7 542.7,1201.4 470,1194.7 477.6,1192.9 509,1208.7 506,1261 480.9,1201.4 513.3,1195.1 480.1,1201.3 505.5,1205.6 495.2,1200.3 505,1221.4 537.9,1208.3 500.7,1193.9 534.1,1194.8 538.9,1204.6 506.7,1208.4 468.2,1196.1 473.6,1176.8 477.3,1178.1 538.8,1204.7 509.1,1207.7 549.4,1220.9 544.7,1201.4 469.4,1176.7 472.1,1184.6 472.9,1173.7 472.8,1189.2 500.8,1196.2 534.5,1222.1 513.5,1189.9 466.5,1189.3 526.8,1193.2 528.9,1184.2 539,1198.4 470.3,1206.4 468.4,1188.6 503.1,1191 515.1,1211.3 545.1,1213.2 515.3,1191.1 510.3,1189 507,1187.5 495.3,1191 544.7,1213.3 471.5,1204 472,1187.5 534,1197.7 525.7,1205 473.9,1191.7 510.7,1203.6 506.6,1194.8 467.1,1183.6 481.3,1184.7 494.2,1185 532.4,1216 514.9,1203.2 496.2,1194.6 541,1198.3 501.5,1201.5 462.2,1201.4 536.6,1230 533.5,1215.4 497,1205.9 494.4,1210.7 469.1,1180.3 506.9,1222.9 542.7,1202 465,1204.8 533.7,1193.9 477.9,1191.2 510.3,1189.4 503.1,1199.9 500.2,1173.2 473,1253.4 538.5,1222.5 541.3,1209.2 471.4,1185.9 550.7,1212.3 533.9,1222.3 508.5,1195.5 473.5,1196.7 479.1,1201.1 505.4,1190.6 543.2,1230 534.4,1208.4 477.9,1187.9 469.1,1188.8 505.3,1188.9 504.6,1211.9 503.1,1192.6 549.5,1193.3 513.9,1206.1 477.9,1190.4 500.7,1193.7 476.2,1198.7 471.6,1190.9 509.9,1199 514.3,1205.5 504.2,1179.8 511.1,1183.2 515.3,1206 467.9,1177 464.6,1189 515.7,1211.9 542.7,1197.2 535.8,1211.8 534.2,1197 527.7,1207.7 503.9,1173.2 511.4,1223.8 539.2,1197.9 540.9,1215.3 544.2,1193.2 466.4,1221.4 494.2,1208.3 506.2,1184.6 511.5,1196 543.7,1209.5 544.6,1210.7 537.6,1216.8 478.2,1179.1 473.5,1185.5 506.4,1197.9 472.4,1183.7 502.8,1193.1 526.6,1187.9 535.8,1215.1 543,1195.8 538.1,1187.2 471.7,1181 499.7,1185.2 509.6,1262 481.4,1189.4 473.1,1182.1 465.4,1184.1 542.4,1217.9 511.7,1205.2 472.9,1196.5 508.6,1291.5 503.2,1198.1 471,1203.1 465.2,1197.8 476.1,1178.4 506.3,1195 470.4,1179.9 533.2,1205.3 481.4,1187.6 517.1,1198.2 508.7,1203.8 506,1194.4 510.2,1188.7 464,1184.8 470.2,1192.9 509.4,1191.1 464.4,1200.4 510.7,1187.5 466.6,1187.9 545.8,1225.3 531.4,1253.4 494.8,1199.1 470.6,1197.1 465.7,1195.7 537.1,1204.7 504.3,1196.3 527.7,1213.8 540.2,1203 533.8,1205.9 507.8,1210.5 529.9,1199.9 535.8,1211.8 515.2,1288.5 532.4,1212.1 475.3,1186.2 478.3,1173.3 477.1,1192.7 534.4,1206.2 538.8,1192.7 496,1197.3 539,1191.8 539.7,1188.5 495.1,1203 480.6,1268.1 507.1,1213.7 535.6,1194.7 508.2,1197.9 500.2,1173.2 544.2,1204 547.8,1202.7 510.5,1200.3 459.4,1214.3 539,1277.3 502.5,1188.7 513.6,1219.9 514.5,1199.6 538.2,1194.9 474.8,1179.9 543.7,1212.1 462.1,1185 475.3,1193 494.8,1207.1 501.1,1192.1 482.2,1202.1 503.9,1201.9 544.1,1272.2 506.6,1223.8 472.9,1210.2 481.1,1194.3 501.5,1217.1 503.6,1208.5 502.4,1208.1 534,1166.6 459.4,1199.7 528.2,1198.8 463.8,1210.7 541.6,1203.7 469.6,1185 541.9,1200.6 535.3,1199.9 536.9,1197.5 494.2,1201.4 480.3,1194.6 498.6,1197.3 527.1,1187.1 541.6,1209.2 472.8,1177 550,1207.8 476.9,1189.1 540.2,1197.4 536.5,1285.9 468,1187.3 529.2,1224.7 548.3,1205 510.5,1184.8 500.9,1195.8 536.7,1216.1 527.8,1216.4 469.4,1166.8 474.8,1187.6 472.7,1180.9 510.2,1189.8 475.7,1212.4"/>
<rect x="473" y="1197.4" width="70.1" height="7.4" fill="#231f20"/>
<rect x="585.3" y="1170.6" width="65.5" height="39.6" fill="#286eb9" fill-opacity="0.43"/>
<polyline class="pb" points="618.9,1187.8 577.1,1184 654.3,1191.8 609.2,1195.1 612.7,1177.4 648.7,1197.7 580.9,1180.2 613.1,1192.1 614.7,1182.9 579.2,1191.4 640.5,1177.1 621.6,1181.5 617.2,1181.2 610.1,1169.9 615,1191.5 613.9,1170.4 583.8,1204.4 620.1,1190.4 572.4,1184.8 614.1,1185 657.9,1193.4 582.2,1197.2 623.4,1178.4 614.1,1168.4 620.6,1190.7 611.6,1172.1 610.1,1178.4 604.7,1188.2 618.5,1185.7 611.7,1192.1 620.9,1178.6 618.5,1186.3 650.3,1192.7 643.1,1192.4 607.6,1189.6 579.4,1209 643.3,1204.2 591.3,1207.7 653.5,1195.2 606.5,1197.1 620.7,1183.3 613.4,1190.2 589.5,1208.7 623.9,1184.5 605.5,1197.4 619.3,1176.6 610.3,1177.8 619.6,1178.2 604.8,1193.8 619.9,1188.1 622.1,1186.2 637.9,1174.8 584,1190 611.2,1178.2 622.3,1200.2 645.1,1176.9 581.2,1198.2 655.2,1178.7 582.1,1201.1 588,1209 606.5,1203.5 614.9,1181.7 584.7,1194.3 583.2,1194.3 645.5,1185.2 578.7,1193.8 580.4,1191.7 641.2,1197.8 613.9,1193 621.9,1192.3 658,1186 620.3,1180.4 647.1,1201.7 610,1173.2 637.6,1189.6 649.3,1185 587.2,1196.6 614.8,1183.4 618.8,1171 608,1181.7 651.8,1196.4 605.7,1178.1 605.7,1185.8 648.2,1178.9 574.8,1200 641.4,1187.6 656.9,1195.6 624.4,1187.6 574.3,1188.7 577.2,1194.7 576.1,1201.7 647.6,1184.9 643.1,1204.1 576.6,1195.7 657.7,1190.8 623.8,1182.6 611.7,1201.9 651.2,1180.6 576.7,1197.8 609.6,1189.5 644.6,1187.7 647.1,1190.5 642.9,1197.4 619.3,1180 610.1,1152.9 648.4,1195.8 604.1,1186.6 578.9,1192.6 572,1196.8 635.9,1196.9 655.2,1198.4 610.8,1190.5 655.8,1197.3 624.4,1169.9 624,1183 574.1,1208.1 653.8,1203.2 640.6,1151.3 616.5,1190.4 606.9,1187.6 614.5,1191.5 646.6,1201.2 574.7,1208.9 645.7,1187.9 575.6,1195.5 638.8,1186.6 651.1,1198.7 590.3,1181.1 612.9,1191.4 582.1,1197 581.5,1212.3 643.6,1181 584.3,1211.8 612.2,1189.2 615.7,1173.6 580,1198.2 577.3,1202.1 582.3,1184 617.4,1188.8 609.9,1185.9 580,1207.4 653.8,1185.9 642.4,1183.3 605.4,1181.4 626.5,1177.2 619.3,1176.8 580.3,1195.1 577,1190.5 615.4,1185.1 611.1,1181.5 589.8,1197.6 659.6,1209.2 616,1195.4 642.3,1176.1 624.5,1200.2 607.1,1189.2 606.2,1177.1 577.6,1202.6 590.4,1196.7 591.7,1206.6 611.9,1180 590,1190.9 651.6,1201 610.6,1187.3 623.4,1183.1 586.4,1200.5 621.3,1323 619.8,1195.5 605.8,1181.3 622.9,1185.3 648.2,1196.6 577.1,1251.9 618.3,1187.4 638.1,1177.6 608.9,1198.6 614.1,1179.2 608.4,1187.3 576.5,1201.3 639,1191.3 617.5,1187.6 584.4,1200.4 582.6,1194.2 590.2,1208.3 621.3,1176.3 612,1187.6 605.4,1185.3 616.2,1176.1 588.9,1185.6 582.8,1197.6 581.7,1216.9 575.6,1379.9 591.5,1190.4 639,1187 607.4,1192.8 612.6,1192 609,1169.7 582.3,1193.3 617.2,1181.7 611.9,1187.2 619.3,1189.7 644.5,1194.9 611.8,1185.5 615.8,1197.9 577.5,1196.6 651.8,1197.2 623.5,1189.9 623.1,1181 641.6,1184.5 583.5,1200.5 625.3,1190.3 644.6,1191.9 606.4,1187.4 642.5,1198.2 650,1190.6 650.4,1196.7 577,1202 613.9,1176.9 623.1,1182.1 574.1,1301.7 621.2,1175.6 606.3,1174.4 586.3,1201.3 575.2,1199.2 611.6,1191.1 580.8,1207.8 589,1208.8 639.4,1195 613,1193.9 616.1,1192.5 652.1,1192.3 648.9,1185.3 583.2,1197.8 604.8,1180.3 581,1202.4 621.8,1191.6 610.1,1185 609.4,1170.5 616,1181.8 616.8,1189.4 612.9,1180.7 648.4,1201.6 590.1,1198.2 615.1,1201.5 620,1182.4 579.2,1195.3 640.6,1196 576.6,1194.7 619.6,1188.7 580.1,1185 637.8,1196 644.2,1192.8 583.6,1190.7 587.3,1217.4 613.6,1176.2 646.7,1154.4 590.8,1196.3 576.8,1183.3 641.9,1182.3 642.1,1201.9 590.2,1191.1 572.1,1191.6 620.9,1186.3 612.2,1174.3 606.6,1192.3 645.8,1194 645.4,1199.5 643.4,1206.6 612.4,1192.7 610.8,1176.7 621,1203.5 614.8,1186.4 640.5,1192.9 615.7,1192.4 610.8,1164.5 579.5,1198.5 643.8,1194.1 618.8,1188.7 623.5,1170.8 618.5,1193.4 615.2,1154.4 620.8,1190 657.8,1205.8 616.7,1191.2 587.3,1187.5 611,1176.1 612.6,1189.8 652.2,1195.8 623.9,1183.8 603.5,1198.1 610,1191.7 617.9,1187.1 591.3,1222.9 584.2,1205.6 646.9,1180.5 582.8,1210 620.2,1191 649.3,1192.6 609.5,1185.6 605.3,1187.9 607.7,1181.8 605.6,1188.6 649.7,1192.2 579.3,1205.7 575.1,1180.9 582.1,1195.4 642.8,1194.8 641,1202.6 618.9,1170.1 588.7,1210 589.2,1187.2 626.5,1183.8 643.9,1186.9 613,1180.2 649.4,1193.4 580.9,1207.8 653.5,1187 617.8,1161.5 617.3,1188.5 609,1179.8 609.1,1201 587.5,1201.6 620.4,1183.7 612.4,1169 574.7,1202.3 621.1,1177.4 586.8,1207.5 589.1,1182.3 649.8,1217.9 612.7,1190.5 609.6,1182.4 590.8,1200 582.6,1180.1 613.6,1179.8 607.1,1190.8 613.8,1184.4 623.4,1178.5 613.8,1189.4 605.8,1173.5 582.5,1190 648.8,1190.2 586.6,1183.5 583.2,1191.9 604.6,1198.5 650.9,1191.8 645.3,1201.4 619.4,1203.5 580.4,1203.7 648.3,1185.7 588.8,1205.4 576.4,1199 655.8,1150.3 616.1,1176.8 591.5,1190.2 623.5,1199 615.9,1182.5 617.8,1188.8 657,1187.5 592.4,1211.7 606.6,1193.2 622,1182.5 646.1,1191.3 587.6,1199.2 588.3,1191.8 615,1192.6 614.2,1203.5 582.9,1199 589.8,1214.1 606.4,1193.2 578.8,1201.2 609.2,1184.8 621.3,1180.7 611.7,1195.2 657.2,1197.5 576.3,1194.7 645.6,1191.5 577.4,1187.1 626.5,1188.9 576.1,1246.8 617.5,1188.1 650.2,1190.7 574.7,1210.6 573.2,1196.7 615.8,1192.1 606.6,1187.1 622,1187.4 612.5,1199.2 585.6,1196.6 656.8,1187.9 579.2,1197.1 646.2,1201.2 616.2,1181.7 591.2,1198.6 621.3,1182.1 608.2,1172.5 581.9,1199.1 575.1,1207 610.1,1291.5 613.3,1186.7 571.7,1188.8 587.5,1186.2 610.6,1184.9 613.3,1190.7 590.7,1196.2 587.1,1192.5 605.7,1179.4 639.6,1184.1 610.6,1187.5 617.2,1164.5 612.5,1183.7 609.9,1188.3 643.8,1209.2 582.9,1205.2 615.1,1194.3 652.7,1207.1 642,1186.2 580.2,1199 614.5,1184.9 644.4,1207.4 637.7,1201.9 607,1201.4 613.2,1175.4 608.5,1176.2 617.3,1184.1 622.4,1189.1 612.6,1166.2 616.9,1187.5 572.5,1211.9 591.4,1198.6 623,1178.8 654.4,1199.7 581.9,1190.7 581.8,1208.9 623.2,1193 646.5,1187.3 575.4,1196.7 577.6,1197.9 607.5,1191.2 615.6,1173.3 613,1175.5 605.8,1179.9 583,1193.8 608.5,1199.7 604.9,1164.5 650.1,1209.2 609.4,1171.5 649.1,1205.1 624.2,1187.4 649.1,1195.5 656.8,1188.2 605.1,1199.6 579.4,1188.1 576.3,1203.6 616.6,1192.7 618.1,1182.8 615.9,1184.2 623.2,1186.1 652.5,1197.6 649.9,1199.9 613.7,1183.8 649.3,1189.6 578.2,1201.6 657.4,1166.6 623.8,1151.3 643.5,1199.6 611,1187.8 579,1197.3 571.8,1194.1 624.6,1173.7 649.9,1193.1 590.7,1193.1 588.1,1194.5 589.2,1199.1 609.8,1177.4 646.7,1187.3 619,1186.9 618.3,1184.9 638.3,1189.4 582.2,1195.9 606.6,1193.9 578,1182.6 579.2,1216.4 579.8,1205.5 607.6,1203.2 619.3,1196.2 579.8,1210 612.6,1185.9 618.2,1180.4 615.4,1183.7 586.3,1206.6 580,1198.9 624.7,1192.8 615.7,1241.7 579.7,1190.4 653.4,1185.5 645.1,1197.1 618.2,1193 573.2,1213 615.9,1170.7 638.7,1178.5 589.2,1204.3 585.6,1201.3 650.3,1199.6 609,1175.8 611.2,1168.5 643.1,1193.2 618.7,1179.1 610,1174.1 621.7,1173.8 613.7,1193.3 642.7,1197.4 617.4,1175.9 608.7,1184.5 615.8,1180.1 586.2,1203.4 623.5,1174.6 591.9,1198 645.7,1186.9 618.4,1164.5 616.3,1179.3 622.5,1183.9 608.2,1180.8 618.8,1345.8 619.6,1183.3 614.2,1185.8 607.5,1202.4 653.5,1190.2 638.1,1196.8 614.1,1184.2 636.9,1197.5 612,1190.8 613.1,1176.1 647.2,1195.6 622.6,1183.8 648.5,1190.5 621.3,1213.8 607.7,1193.8 583,1205.5 652.8,1192 612.9,1189.6 590.2,1194.9 653.9,1180.4 637.3,1198.3 649.4,1192.1 618.1,1177 578.5,1211.4 590.8,1203.7 654.3,1190.5 576.9,1199.9 584.9,1191.2 611.2,1177.3 648.2,1147.8 611.3,1175.4 592.4,1291.5 615.3,1168.6 621.8,1180.7 644.4,1189.5 613.2,1180.7 615.2,1196.8 583.3,1198.9 620,1184.5 616.4,1176.3 607.1,1175.1 619.5,1175.1 623.4,1171.6 646.7,1184.1 577.3,1210.6 624.7,1184.5 584.7,1256 610.6,1178.4 583.4,1195.6 623.2,1186.2 616.8,1194.8 649.3,1190.6 610.4,1166.5 620,1182.9 645.3,1190.4 650.3,1189.2 624.1,1183.6 612,1186.3 645.7,1199.6 609.5,1180.5 640.8,1192.1 613.3,1177.2 588.8,1279.8 620.6,1180.7 636.1,1192.4 621.1,1182.9 610.4,1185.7 616.3,1191.8 621.7,1192 573.7,1191.1 606.7,1172.8 609.6,1189.4 615.6,1182.6 606.5,1193.6 614.6,1193.9 614.7,1183 620.5,1179.6 612.8,1177.8 621,1166.3 619.8,1183.3 608.4,1176.9 589.6,1198.8 611.7,1193.2 644.6,1185.5 603.5,1187 585.1,1201.5 644.1,1189.4 655.2,1200.5 621.4,1195.4 621.3,1184 591.6,1195.4 619.4,1187 608.6,1164.5 641.3,1189.7 612.9,1190.8 588,1206.1 582.1,1209 619.1,1177.5 604.8,1178 614.2,1281.9 622.6,1196.1 620.3,1192.9 620.4,1187.9 614.2,1175.6 588.2,1201.3 652.2,1186.5 648.2,1190.1 584.5,1196.1 622.4,1170.5 658,1188.7 617.3,1172.8 648.8,1186.8 609.3,1181.9 574.6,1264.6 616.1,1179.7 616.6,1188.6 606.2,1169.5 656.2,1179.5 615.5,1182.7 616,1196.4 623.6,1195.1 642.8,1208 583.3,1201.8 616.9,1176.2 649.8,1175.6 649.1,1193.2 618.2,1180.7 590.9,1190.3 620.5,1182.3 645.9,1189.9 582.7,1207.5 607.6,1217.4 642.2,1184.5 587.1,1197.6 617.7,1191 581,1198.3 626.5,1186.9 648.2,1183.9 572.6,1199.5 584.3,1199.9 609.2,1178.3 608.3,1182.8 624.7,1193.8 641.1,1196.8 583,1204 645.1,1195.8 585.2,1205.9"/>
<rect x="585.3" y="1187.8" width="65.5" height="7.4" fill="#231f20"/>
<rect x="695.5" y="1169.6" width="63.5" height="46.7" fill="#286eb9" fill-opacity="0.43"/>
<polyline class="pb" points="685.2,1195.8 719.4,1176.2 727.1,1188.5 692.8,1181.9 689.5,1176.5 694.8,1167 748.2,1193.2 691.6,1162.7 717.2,1182.2 733.9,1176.1 682.9,1177.6 757.9,1179.2 696.3,1169.1 724.5,1185.7 696.1,1169.4 717,1185.5 714.6,1175.2 730.1,1179.8 721.6,1197.8 758.2,1168.2 723.6,1186.3 767.8,1191 684.8,1173 698.8,1172.7 750.9,1177.2 755.9,1186.6 720.9,1304.2 688.1,1182.3 753.5,1178 729.6,1184.9 691.5,1175.6 697.8,1180.2 689.3,1170.5 724.4,1175.1 731.2,1177.8 689.3,1179.3 680.7,1184.5 689.5,1179.4 756.4,1188.4 697.6,1178.2 719.2,1186.2 724.7,1203.6 686.7,1180.5 717.9,1197.6 729.3,1202.5 721.9,1195.3 723.9,1172 722.6,1169 700.1,1162 715,1186.2 702.5,1180.6 754,1189.6 715,1181.9 756,1182.8 751.4,1189.7 694.2,1163.8 684.2,1192.5 753,1173.6 728.8,1183.5 690.9,1175.7 723.3,1193 732.5,1189.8 726.4,1192.4 686,1159.8 686.6,1172.2 680.6,1171.1 702.8,1176.4 696.2,1182.6 761.6,1193.3 720.1,1192 686.4,1173.2 728.7,1191.2 727.5,1172.2 730.4,1194.2 768.2,1196 717.3,1176.7 686.5,1169.4 766.1,1167.9 764,1200.1 695.3,1161 694.1,1162.5 731.7,1185.2 692.4,1181.5 723.1,1184.2 683.8,1173.1 733.1,1190 762.9,1183.7 715.8,1192.8 721.7,1196.2 697.4,1182.4 734.5,1198.5 720.8,1206.3 721.8,1186.9 718,1184.4 715.3,1196.2 696.4,1175.8 734.8,1207.7 686.5,1185.9 720.3,1192.3 720.8,1174.4 726.4,1207.7 748.3,1187.4 687.5,1186 699.4,1189.3 697.3,1179 722.2,1182.3 718.1,1185.8 749.2,1177.7 723.9,1196.8 725,1191.6 699.3,1173.1 688.4,1173.9 748.7,1181.9 698.2,1174.8 734.5,1188.5 717,1192.3 767.4,1178.2 682.9,1185.5 732.6,1191.6 687.4,1175.2 762.7,1195 697.6,1180.3 694.8,1171.2 696.5,1175.7 721.7,1172.8 748.6,1189.2 691.5,1176.1 714.8,1185.3 736.6,1176.5 719.3,1200.9 759.9,1183.2 729.1,1193.3 681.6,1171 751.6,1177.4 695.4,1181.5 754.3,1184.7 693.6,1183.3 720.1,1195.3 697,1170.7 727.8,1197 722.1,1177.4 758.6,1182.5 726.8,1191.9 749.1,1185.5 723,1175.3 691.1,1178.2 717.6,1188.8 718.3,1200.8 734.8,1191.9 728.9,1189.3 726.3,1203.7 722.4,1188.1 727,1194.2 765.9,1188.2 764.7,1189.3 730.4,1188.2 722.6,1188 721.9,1204.5 754.2,1181.2 722.1,1178.4 689.5,1177.6 700.7,1175.9 693.1,1166.6 691.6,1171.8 719,1183.2 718.8,1286.4 725.9,1180.6 721.7,1180.2 694,1174.5 747.6,1197.2 756.5,1171.9 722.9,1179.3 692.2,1180.8 685.5,1176.2 729.7,1197 730.5,1195.3 685.3,1173.6 753.9,1181 723.3,1173.8 755.4,1190.9 748.5,1182 701,1178.4 688.3,1181.7 751.7,1186.8 726.4,1183.4 719.4,1181.4 698.2,1182.2 697.4,1159.9 715.4,1189.4 695.3,1166 696.2,1170.2 761.7,1185.8 762.3,1185.9 691.4,1187.4 726,1194.7 748.6,1182.8 762.3,1182.5 690.1,1188.2 723.7,1176.4 692,1174.4 695.8,1186.1 694.9,1168.5 750,1197.7 681.2,1196.5 717.6,1182 760.6,1188.5 684.6,1177.3 760.7,1192.6 680,1181.5 685.7,1178.6 692.1,1171.3 723.9,1194.6 718.5,1191.3 700.2,1176.7 682.5,1187.7 682.6,1172.5 716.9,1190.6 691.1,1177 751.7,1188.6 728.6,1183.4 682.6,1167 691.4,1186.1 690.3,1162.3 680.6,1160.1 758.1,1188.7 688.8,1180.9 727.9,1183.6 718.9,1167.9 730.3,1191.9 692.1,1168.9 698.5,1181.2 693.8,1187 723.8,1177 690.2,1164 680.8,1161.9 684.5,1170.9 751,1175.6 724.9,1203.5 683.4,1185.4 731.4,1189.9 724.6,1191.6 689.6,1174.4 698.9,1181.6 727.6,1168.1 721.7,1186.4 734.2,1181.5 696.1,1171.2 765,1184.5 692.4,1173.1 755.2,1187.2 698.6,1162.1 747.2,1176.2 698.7,1172.5 767.4,1188.3 748.8,1176.3 697,1186.1 714.2,1187.9 699.4,1169.3 766.3,1187.5 736.3,1181.7 716.8,1198.7 700.4,1178 748.8,1185.6 760.4,1187.4 714.4,1189.2 719.2,1173.8 694.5,1180.2 702.9,1187.2 752.7,1195.7 719.5,1179.9 678.9,1164.3 729.4,1181.8 753.8,1195.3 687.5,1162.1 723.7,1189.6 764.9,1174.3 723.7,1175.6 731.9,1194 694,1171.5 692.6,1172 759.3,1189.7 746.7,1184.1 734.6,1182.1 759.2,1187.2 682.8,1158 758.2,1185.2 728.3,1187.9 695.2,1163.3 757.1,1188.6 691,1160.2 719.2,1189 749.1,1185.9 692.2,1185 686.9,1183.1 697,1171.5 720.6,1188.7 694.8,1167 691.6,1182 698.9,1183.6 729.2,1185.7 752.8,1176.1 756.6,1181.9 759.1,1180.2 749.2,1193.9 746.1,1178.4 733,1185 716.7,1187.1 717.6,1194.6 719.9,1179.2 732.1,1183.4 690,1193.3 749.7,1183.8 688.7,1171.9 702.8,1180.9 755.5,1180.4 726.9,1194.2 723.7,1191.6 733.6,1195.9 689.1,1169.9 746.9,1184.2 733.4,1192.4 751.2,1182.9 695.5,1170.9 729.1,1197.7 686,1164.5 758,1180.5 696.3,1169.6 717.4,1181.6 722.8,1179.8 686,1182.3 691.5,1174.2 713.6,1193.4 694,1177 681.8,1181.2 750.3,1187.5 750.6,1180 719.2,1183.5 687.9,1163.6 694.7,1179.1 699.1,1190.3 763.9,1178.9 729.3,1172.3 698.5,1184.4 685.3,1367.7 764,1186.9 691.9,1178.8 750.1,1182.3 695.9,1177.5 766,1190.5 727.9,1201.8 699.7,1182.7 694.7,1167.8 723.2,1190.5 716.4,1180 757.4,1174.6 729.8,1195.4 698.5,1180.2 715,1194.4 717.9,1182.3 684.9,1181.3 685,1174.3 686.9,1169.6 687.1,1166.4 682.1,1193.5 697.6,1173.1 727.5,1186.3 767.5,1186 694,1188.1 719.3,1176.1 720.4,1192.6 729.6,1179.4 698.4,1169.4 763.8,1195 725.9,1176.3 758.1,1183.5 714.9,1188.1 749.3,1180.5 752,1179.5 755,1186.5 722.2,1171.3 680.1,1183.2 694.1,1177.2 696.7,1186.6 683,1186.9 758,1180.9 693.3,1177 762.1,1186.2 766.9,1173.4 718.5,1192.9 697.5,1169.8 765.4,1201.1 759.3,1171 746.2,1171.9 684.6,1178.6 688.3,1169.6 733.2,1193.1 718.5,1179.3 730.7,1188.9 733.4,1181.6 754,1183 686.4,1170.4 717.6,1189.9 693.3,1177 759.5,1201.2 687.9,1177.4 683.5,1185.9 684,1175.8 723.4,1200.2 718.2,1188.6 680.8,1168.9 692.1,1195 693.5,1163.4 702.2,1171.7 727,1181.7 687.6,1165.9 753.2,1177.9 684.3,1174.4 727,1188.2 724,1184.2 699.6,1175.4 696.8,1180.8 723.3,1166.8 715.6,1183.7 725.4,1183.4 720.2,1178.8 723.4,1193.2 767.8,1171.4 687.6,1172.6 758.4,1189.3 716,1189.7 701.5,1192.8 770.1,1180.9 754.9,1187.2 681.1,1179.9 766.3,1166.8 695.9,1178.5 725.1,1178 723.9,1189.8 717.3,1203.6 726.1,1191.4 698.1,1166.3 733.6,1177 686.1,1173.8 717.7,1184.9 695.9,1180.8 692.1,1161.2 768.7,1175.7 683.3,1179 766.8,1186.7 731,1183.6 768.5,1186.9 727.6,1192 701.1,1178 724.3,1185.5 751.5,1185.2 722.6,1185.5 755.6,1187.4 699.3,1182.8 725.7,1192.5 750.1,1175.3 685.4,1176.2 760.2,1197.4 700.4,1190.4 682.3,1165 768.5,1182.7 702.2,1182.2 688,1180.2 760.9,1185.5 761.7,1194.1 723,1190.6 684.6,1175.6 688.7,1184 686.4,1180.8 696.2,1168.9 752.6,1189.1 728.9,1177 680.2,1174.9 687.3,1184.5 729.3,1199.2 702.4,1172.7 685.1,1165.3 699.2,1180.6 693.9,1178.7 701,1188.9 763.2,1174.6 684.3,1180.5 697.4,1180.1 758.5,1177.3 757.7,1179 692.1,1190.5 700.3,1173.8 768.5,1170.8 695.7,1170.5 746.6,1175.7 720.5,1187.9 687.7,1165.2 690,1184.2 722.1,1178.5 682.1,1184.1 695.5,1165.9 733,1184.7 685.3,1183.9 691.2,1174.5 691.5,1181.1 697.4,1185 681.4,1176.3 694.4,1188.7 764.6,1185.2 695.8,1180.8 685.6,1196.7 730.1,1174.2 699.6,1167.6 761,1179.5 689.1,1189.6 684.8,1173.6 732.3,1180.3 763.5,1200.1 722.1,1188.1 730.8,1190 753.3,1183.3 731,1199.7 688.9,1165.8 719.6,1191.2 734.1,1198 693.4,1164.3 730.4,1188.2 691.9,1156.6 759.3,1175.4 720.7,1186.3 724.1,1203.7 758.2,1182.2 714.7,1180.8 767.2,1177.5 693.5,1169.3 695,1181.3 718.4,1179.4 686,1178.2 752.7,1199.5 762.9,1180.6 680.6,1180.5 692.8,1180.4 693.6,1159.4 685,1184.2 683.1,1171.1 727.3,1175.3 730.5,1186.6 719.1,1197 715.8,1184.8 701.7,1165.4 722,1178.2 692.5,1171.5 724.2,1179.6 723.5,1194.6 724,1196.1 729.9,1173.8 730.1,1180.3 720.8,1183.5 719.4,1197.1 734.2,1189.8 722.9,1188.3 717.4,1195.2 701.4,1167.5 719.4,1180.7 757.4,1184.7 695,1182.4 691.1,1178.8 694.7,1168.9 692.7,1162.1 726.7,1190.1 701.8,1192.3 713.8,1176.2 719.9,1191.7 722.2,1191.6 715.3,1175.5 721.7,1184.8 689.7,1186.9 684.5,1182.5 747.9,1181 723.2,1183.4 731.7,1190.1 730.8,1186.5 767.9,1175.2 755.3,1190.8 751.5,1187.1 693.8,1188.9 735.3,1186.5 753.8,1171.4 752.4,1175.6 757,1175.1 750.5,1189.4 700.3,1196.7 727.6,1170 726.1,1187.8 702,1172.3 680.6,1184.5 729.3,1207.5 716.4,1195.9 692,1164.8 681.7,1164.4 682.7,1163.7 754.9,1178.9 685.7,1176.7 722.4,1186.7 696.1,1168.6 721.3,1188.7 697.3,1172.3 758,1191.8 725.7,1187.4 683.5,1168.7 767,1196.2 718.4,1177.3 762.3,1176.3 722.6,1185.2 694,1183.2 695.3,1181.7 723.7,1176.7 761.4,1175.1 682.4,1190 722.1,1169.3 689.2,1173.6 682.6,1190.9 763.2,1184.2 693.1,1175.2 681.6,1174.3 714.7,1185.6 684.3,1164.6 715,1197.3 748.7,1186 686.5,1182.7 697.7,1171.8 694.1,1186.3 683.7,1189.9 690.8,1182.4 754.9,1164.5 698.9,1175.5 735.1,1191.3 750,1188.8 725,1178.1 750.3,1175 718.5,1189.6 717.2,1184.6 692.7,1164.1 682.5,1174.3 727.7,1185.8 693.5,1170.5 726.9,1210.2 716.8,1208.7 749.5,1166.8 687.6,1160.9 724.3,1192.4 698,1180.6 726.4,1187.2 724.7,1179.7 764.7,1184.5 686.4,1187.5 717.2,1178.4 687,1169.9 752.3,1191.6 690.7,1185.4 698.8,1167 746.7,1180 684.4,1180.7 718.6,1180.1 767.5,1186.3 697.3,1173.3 696.1,1182.8 758.8,1183.5 724.6,1179.8 717.5,1194.9 762.7,1175.3 755.3,1171.3 731,1170.9 762.2,1184 754.2,1182.8 689.9,1183.5 766.1,1189.1 724.3,1191 691.3,1186.2 765.9,1191 685,1169.9 722.2,1184.1 692.8,1159.7 729.3,1180.4 723.8,1187.1 697.1,1168.1 764.5,1190 680.5,1190.3 718.6,1191.9 691.4,1230.1 761.4,1195.2 762.5,1173 761.6,1184.6 688.2,1185 721.6,1180.2 697.5,1190.6 758.6,1196.4 687.4,1182.5 723.6,1174.1 749.6,1179.7 685.5,1179.5 702.4,1158.3 753.1,1177.5 748.6,1180 753.6,1187.2 692,1164.4 754.9,1178.1 689.8,1174.9 726.8,1188.1 747.7,1178.6 692.3,1166.3 690.1,1184.7 730.4,1182.9 681.5,1175.1 684.2,1185.7 752.6,1188.6 725.7,1178.9 688,1173 685.2,1174.9 729.7,1184.5 718,1195.7 763,1195.2 758,1170.7 689.9,1169.7 693.1,1173.1 685.8,1176.7 692.1,1162.6 731.8,1193.3 714.6,1177.3 732.2,1169 719.9,1187.6 697,1172.2 749.5,1174.6 698.1,1175.5 685.5,1169.8 688.6,1168.5 693.3,1180.5 725.3,1172.9 725.5,1181.3 730.4,1183.4"/>
<rect x="695.5" y="1190.6" width="63.5" height="6.8" fill="#231f20"/>
<rect x="804.1" y="1178.2" width="63.5" height="40.7" fill="#286eb9" fill-opacity="0.43"/>
<polyline class="pb" points="846.1,1194.9 841.5,1198.9 839.7,1196.9 868.2,1206.9 878.1,1183.4 867.4,1208.4 834.7,1195.8 830.5,1201.5 827.3,1203.8 824.5,1184.2 846.4,1189.4 859.7,1201.3 838.2,1195.4 826.7,1198.4 836.9,1180 843.9,1195.7 868,1204.1 835.9,1206.7 829,1202.6 827,1171.6 833.9,1193.4 869.9,1204.7 833.2,1203.5 824.2,1204.5 867.2,1209.1 845.1,1190 865.4,1188.4 868.9,1201.6 838.2,1200.5 832.5,1196.2 832,1193.5 871.4,1203.7 874.5,1188.8 872.7,1205.1 872.5,1209.1 862.7,1179.4 812.6,1181.5 837.4,1188.3 866.7,1191.3 870.8,1200.5 825.4,1205.4 836.7,1182.5 834.8,1186.7 868.1,1221.9 833,1203.4 867.1,1218.7 863.7,1194.2 835.2,1197.3 880.4,1207.9 835.5,1203.7 866.2,1187.1 842.3,1197.6 862.8,1196.4 838.1,1203.5 837.2,1195.6 874.3,1209.9 831.9,1206.9 809.7,1185.9 869.3,1193.4 838.8,1198.1 863.6,1210.1 836.3,1199 834,1196.1 872.3,1205.3 835,1206.2 824.7,1194.6 869.1,1210.8 828.4,1194.6 867.4,1216.7 880.2,1220.6 845,1186.2 868,1195.2 825.2,1183.5 874.2,1211.4 841.1,1198.9 875.8,1187.5 837.8,1191.9 833.9,1211 812.4,1180.5 824.4,1204.9 864.1,1199.5 830.7,1194.3 866.5,1222.3 879,1217.8 844.6,1201.3 870.6,1175 844.1,1197.8 879.5,1183.7 880.9,1199.6 879.3,1193.1 810.4,1169.5 835.9,1204.9 868.1,1185 831,1199.6 838.8,1202.5 830.8,1186.5 877.7,1221 880,1193.3 844.1,1200.6 830.6,1179.6 869,1197.9 866.7,1190.5 840.3,1189.3 876.8,1179.4 860.9,1183.7 869.4,1178.2 864.1,1200.6 837.8,1210 871,1194.3 831.8,1194.5 798.2,1185.5 834.6,1214.3 872.8,1191.3 832.8,1187.5 831.7,1211.3 825,1200.1 860.6,1182.2 863.5,1181.2 840.7,1194.1 838.5,1186.8 863.5,1195.6 876.7,1215.2 877.7,1206.8 880.4,1211.5 860.3,1189.2 835,1198.4 868.1,1180.5 870.1,1184.9 879.9,1187.4 843.3,1180.9 830.2,1195.3 814.8,1177.4 808.9,1171.1 832.1,1192.7 872.1,1200.3 879.2,1200.9 831,1189.5 864.1,1207.3 869.3,1201.2 843.9,1198.4 836.7,1195 842,1195.3 835.7,1185.1 870.6,1176.4 836.1,1195.2 875.2,1178.9 862,1193.4 871.4,1197.6 871.6,1200.4 871.4,1209.8 832.4,1192.3 804.7,1377.3 828.3,1191.2 842.1,1198.8 876.7,1173.5 840.7,1208.7 880.2,1203.5 871.1,1191.9 824.8,1201.7 835.2,1177.1 844.5,1188.5 845.3,1204 827,1193 846.2,1202 837.6,1199.2 833.5,1194.1 837.4,1195.7 826.3,1193.9 836,1178.8 864.4,1198.9 805.7,1269.7 825.8,1194 865.7,1193.3 800.6,1208.7 844.6,1200.3 876.5,1207.5 864.2,1200.5 842.9,1203.7 865.3,1205.7 872.7,1209.7 878.4,1200.7 858.9,1196.5 865.1,1202.6 835.9,1200.7 835.6,1182 862.2,1195.7 831.7,1198.3 807.3,1176.2 861.1,1193.3 837,1191.6 836.1,1186.6 837.7,1184.6 826.1,1194.6 803,1187.8 874,1177.6 835.4,1197.7 799.1,1169.4 873.9,1199.1 844.9,1202 827.8,1216.7 870.1,1200.8 871.2,1211 831,1195.7 862.8,1204.1 828.7,1195.6 858.5,1201.5 863,1200.2 831.7,1184 859.9,1190 876.9,1208 865.5,1192.5 829,1198.9 880.9,1177.9 860.9,1185.6 828.8,1192 867.7,1199.3 878.7,1210.9 862,1186.1 873.6,1192.3 829.3,1185.2 843.9,1194.7 861,1176.8 836,1182.2 879.9,1195.4 835.4,1198 836.9,1186.3 865.3,1179.4 858.2,1181.9 832.6,1199.8 863.4,1193.7 870.7,1198.4 875.4,1213.1 836.5,1201.8 858.9,1190.5 874.7,1185.5 827.9,1194.7 870.9,1205.9 833.7,1190.4 846.6,1202.9 880.8,1215.2 880.8,1199.6 878,1197 874,1189.1 872,1201.1 869.7,1181.5 814.5,1192.2 860.7,1220.7 813,1186.4 833.3,1206.1 830.5,1216.7 838.1,1199.7 873.8,1200.3 825.7,1195.3 869.3,1184 859.8,1210.2 869.7,1175.7 865.2,1204.9 876,1184.3 864.5,1223.6 831.7,1187.2 835.8,1181.5 866.4,1192.8 831.5,1192.2 859.4,1168.4 839.2,1197.7 877.5,1212.8 863.6,1211.7 867.6,1192.7 871.6,1194.7 871.8,1173.4 868,1191.2 840.8,1198.7 846,1201 835.7,1193.7 868.3,1184.1 830.5,1203.8 840.6,1198.5 867.4,1190.5 836.5,1189.2 874.6,1209.1 866.7,1196.7 863.1,1176.4 862,1193.6 841.7,1187.5 880.6,1192.4 830.5,1192.1 835,1188.1 873.3,1206.1 858.6,1210.3 870.3,1202.1 833.2,1197.6 825.5,1214.1 871.3,1201.5 830.2,1193.4 827.9,1191 870.3,1182.4 839.8,1195 874.1,1204.3 871,1195.5 880.1,1197.8 837.1,1188.4 864.8,1216.6 841,1204.9 864,1182.5 871.3,1195.7 867.3,1186.5 870.6,1207.9 834.5,1185 863.5,1177.2 866.5,1168.4 846,1189 880.9,1175.8 844.6,1198.2 843.8,1169.6 824.6,1200.8 832.7,1194.8 864.2,1187.1 873.3,1198.4 841.9,1192.5 825.3,1196.5 831.8,1186.7 872.7,1201.9 860.1,1185.3 828.9,1190.3 866.5,1172.4 879.2,1198.6 879,1168.4 830.7,1204.3 878.4,1188.9 859.9,1205.5 828.2,1197.1 811.6,1168.2 862.4,1209.3 845.2,1190.9 831.1,1199.7 861.3,1192.5 836.5,1192.9 826,1188.5 837.1,1191.3 834.4,1183.3 828.8,1197.6 864.1,1193.7 875.9,1205.1 833.2,1185.7 824.5,1202.3 870.7,1197.8 834.3,1185.4 862.5,1200.2 844.2,1191.9 858.3,1197.1 865.9,1217.7 803.1,1283.4 831.3,1203.7 829.4,1199.7 829.8,1190 805,1177.2 824.1,1193.1 863,1168.4 834.4,1207.3 840.6,1209.7 870.2,1210.8 828.8,1193.1 840.6,1196.8 863,1204.4 880,1193.4 876.9,1181.7 840.3,1175.3 867.4,1168.4 837.5,1195.1 833.1,1213.4 858.3,1193.8 802,1180.8 836.4,1202 828.9,1214.3 832.5,1199.5 867.1,1205.5 869.8,1223.6 841.7,1190.6 876.7,1191.3 836.7,1199.4 863.6,1190.1 842.2,1198.3 837,1188.1 879.4,1199.7 864,1206.5 838.1,1194.9 863.7,1209.1 831.5,1200.6 804,1176.7 846.1,1205.5 830.3,1210.6 877.1,1197.2 805,1181.8 880.3,1188.7 878.4,1202.8 793,1192 845.1,1198.2 864.5,1187.8 808.2,1146.8 831.1,1204.5 844.1,1205.8 831,1196.7 846.3,1199.5 835.1,1187.1 832.6,1185.8 857.4,1219.7 824.8,1204.1 860.6,1216.3 836.5,1175.3 862.8,1211.1 870.7,1212.2 865.1,1178.4 872.3,1196.6 833.7,1200.8 841.6,1188.5 835.7,1202.3 825.4,1192.2 841.7,1211.2 862.9,1173.6 843.1,1176.1 837,1203.2 878.6,1189.9 875.7,1191.8 873,1193.3 846.3,1201.2 877.7,1195.1 843.8,1203 868,1183.8 863.1,1183.5 870.3,1192.4 830.4,1198.9 837.9,1192.9 844.6,1213.9 841.6,1204.8 837,1189.7 843,1202.7 834.1,1192.2 858.5,1206.6 879.5,1191.4 860.4,1204.6 810.7,1372.8 858.3,1198.3 838.2,1216.7 862,1193.7 869.4,1204.7 824.9,1190 871.7,1220.1 873,1185.9 829,1201 845.7,1204 869.9,1193 838.9,1204.9 844.7,1188 876.4,1193.4 843.4,1207.4 829.1,1188.7 827.4,1204 835.9,1200.1 837.8,1194.3 864.2,1186.2 837.4,1184.2 842.2,1198.1 838.7,1189.5 860.5,1207 833.5,1199.8 846,1183.7 864.9,1198.4 834.6,1186.6 836.5,1202 825,1206.4 858.6,1194.5 824.5,1182.4 838.4,1184.4 840.3,1185.5 869.7,1207.9 872.6,1170.7 834.1,1213.1 864.4,1216.1 838.8,1199.5 845.3,1192.3 876.5,1192.6 830.3,1191.3 842.7,1197.3 833.1,1193.8 827.1,1192 863.1,1200 878.3,1170.7 863.9,1207.4 826.2,1199.6 873.1,1210.4 839.3,1182.7 840.6,1176.9 876,1170.1 834.4,1204.5 792.7,1177.4 827.5,1196 841.2,1203.5 864.3,1177.7 869.6,1193.8 837.6,1200.6 868.3,1189.4 832.1,1185.3 865.1,1181.7 825.3,1197.9 875.9,1204.4 798.9,1195.7 803,1180.5 860.7,1214.4 843.2,1186.5 843.8,1204.3 841.4,1189.9 835.1,1213.3 840.2,1255.4 838.3,1186.6 797,1191.9 843.7,1208.6 834.1,1175.3 832.7,1208.4 840.7,1191.4 843.4,1209.1 829.7,1195.4 868.7,1205.9 845.8,1190.7 837.5,1194.1 802.2,1183.4 867.9,1181.5 831.7,1191.7 864.1,1197.2 843.9,1191.5 844.8,1194 839.5,1189.7 846.5,1198.4 868.3,1181.4 869.5,1199.6 829.7,1200.7 866.9,1176.4 824.5,1183.5 868.4,1200.7 868.5,1215.7 873.7,1193.6 867.4,1192.5 865.6,1192.2 832.8,1196 841.8,1195.5 791.4,1200.1 846.3,1187.2 840.4,1208.8 826.2,1196.6 865.6,1174 833.8,1215.5 844.5,1187.7 808.4,1168.2 878.8,1186.6 865.5,1194.9 879.1,1198.8 866.4,1201.3 846.5,1215.2 836.4,1206.3 839.6,1202.6 836.1,1190.3 832.7,1205.6 833.4,1193.2 869,1197.1 837.7,1207.7 838.6,1199.9 868.5,1177.5 838.3,1194.2 842.8,1198.6 840.8,1205 843,1207.8 869.2,1201.8 834.3,1181.6 825.9,1204.2 837.9,1207.7 865.6,1195.9 862.4,1181.4 837.4,1195.3 838.2,1200.8 831.2,1188.6 828.6,1193.7 876.8,1205.7 873.9,1195.1 810.6,1181.5 866,1212.6 829.2,1214.1 868.5,1203.8 878.3,1187 835.9,1203.6 834.4,1191.8 842.9,1191.6 871.6,1182.1 842.2,1192.2 836.3,1180.6 840.6,1191.6 831.6,1200.4 806,1186"/>
<rect x="804.1" y="1194.6" width="63.5" height="7.0" fill="#231f20"/>
<text x="-0.2" y="1481.5" font-size="40.5" font-weight="bold">c</text>
<rect x="121.9" y="1509.9" width="362" height="326.1" fill="#ebebeb"/>
<path d="M135.9 1551.1L160.4 1557L184.9 1562.7L209.3 1568L233.8 1573L258.3 1577.4L282.8 1581L307.3 1583.5L331.7 1584.9L356.2 1585L380.7 1584.1L405.2 1582.4L429.6 1580.1L454.1 1577.5L478.6 1574.6L478.6 1658.6L454.1 1652.4L429.6 1646.5L405.2 1641L380.7 1636L356.2 1631.7L331.7 1628.6L307.3 1626.7L282.8 1625.9L258.3 1626.2L233.8 1627.3L209.3 1629L184.9 1631.1L160.4 1633.5L135.9 1636.1z" fill="#000" fill-opacity=".15"/>
<path d="M135.9 1593.6L478.6 1616.6" stroke="#d62728" stroke-opacity=".62" stroke-width="6.8" fill="none"/>
<g fill="none" stroke="#d62728" stroke-opacity=".85" stroke-width="1.8"><circle cx="135.9" cy="1578.7" r="6.3"/><circle cx="135.9" cy="1606.7" r="6.3"/><circle cx="135.9" cy="1650.9" r="6.3"/><circle cx="203.8" cy="1541.2" r="6.3"/><circle cx="203.8" cy="1624.6" r="6.3"/><circle cx="203.8" cy="1631.8" r="6.3"/><circle cx="272.2" cy="1550.2" r="6.3"/><circle cx="272.2" cy="1555.4" r="6.3"/><circle cx="272.2" cy="1668.7" r="6.3"/><circle cx="341" cy="1525" r="6.3"/><circle cx="341" cy="1570.9" r="6.3"/><circle cx="341" cy="1588.2" r="6.3"/><circle cx="409.8" cy="1613.4" r="6.3"/><circle cx="409.8" cy="1641.9" r="6.3"/><circle cx="409.8" cy="1668.2" r="6.3"/><circle cx="478.6" cy="1572.5" r="6.3"/><circle cx="478.6" cy="1625.7" r="6.3"/><circle cx="478.6" cy="1677.7" r="6.3"/></g>
<text x="282.5" y="1500.3" font-size="29.9" text-anchor="middle">E13.5 - born</text>
<path d="M118.9 1837.6H485.4" stroke="#000" stroke-width="3.2" fill="none"/>
<path d="M135.9 1837V1853.4" stroke="#000" stroke-width="2.8" fill="none"/>
<path d="M203.8 1837V1853.4" stroke="#000" stroke-width="2.8" fill="none"/>
<path d="M272.2 1837V1853.4" stroke="#000" stroke-width="2.8" fill="none"/>
<path d="M341 1837V1853.4" stroke="#000" stroke-width="2.8" fill="none"/>
<path d="M409.8 1837V1853.4" stroke="#000" stroke-width="2.8" fill="none"/>
<path d="M478.6 1837V1853.4" stroke="#000" stroke-width="2.8" fill="none"/>
<text x="132.4" y="1878.8" font-size="24.2" text-anchor="middle">+2d</text>
<text x="200.5" y="1878.8" font-size="24.2" text-anchor="middle">+3d</text>
<text x="269.3" y="1878.8" font-size="24.2" text-anchor="middle">+4d</text>
<text x="337.7" y="1878.8" font-size="24.2" text-anchor="middle">+5d</text>
<text x="406" y="1878.8" font-size="24.2" text-anchor="middle">+7d</text>
<text x="474.2" y="1878.8" font-size="24.2" text-anchor="middle">+9d</text>
<path d="M120.4 1509.9V1839.2" stroke="#000" stroke-width="3" fill="none"/>
<path d="M106 1599.7H120.4" stroke="#000" stroke-width="3" fill="none"/>
<text x="96.4" y="1606.5" font-size="25.2" text-anchor="end">0.2</text>
<path d="M106 1708.2H120.4" stroke="#000" stroke-width="3" fill="none"/>
<text x="96.4" y="1715" font-size="25.2" text-anchor="end">0.1</text>
<path d="M106 1816.7H120.4" stroke="#000" stroke-width="3" fill="none"/>
<text x="96.4" y="1823.5" font-size="25.2" text-anchor="end">0.0</text>
<text x="32.8" y="1867.4" font-size="29.9" transform="rotate(-90 32.8 1867.4)">Standard deviation (norm.)</text>
<rect x="541.1" y="1509.9" width="345.3" height="326.1" fill="#ebebeb"/>
<path d="M552.3 1623.1L575.4 1635.2L598.6 1647.1L621.7 1658.7L644.8 1669.8L668 1680.4L691.1 1690.4L714.2 1699.6L737.4 1708L760.5 1715.7L783.7 1722.8L806.8 1729.3L829.9 1735.3L853.1 1741.1L876.2 1746.6L876.2 1824.6L853.1 1812.5L829.9 1800.7L806.8 1789.2L783.7 1778.2L760.5 1767.6L737.4 1757.7L714.2 1748.6L691.1 1740.2L668 1732.6L644.8 1725.6L621.7 1719.2L598.6 1713.2L575.4 1707.5L552.3 1702.1z" fill="#000" fill-opacity=".15"/>
<path d="M552.3 1662.6L876.2 1785.6" stroke="#2f78b8" stroke-opacity=".62" stroke-width="6.8" fill="none"/>
<g fill="none" stroke="#2f78b8" stroke-opacity=".85" stroke-width="1.8"><circle cx="552.3" cy="1641.3" r="6.3"/><circle cx="552.3" cy="1704" r="6.3"/><circle cx="552.3" cy="1714.6" r="6.3"/><circle cx="617" cy="1611.7" r="6.3"/><circle cx="617" cy="1646.4" r="6.3"/><circle cx="617" cy="1720.2" r="6.3"/><circle cx="681.8" cy="1643" r="6.3"/><circle cx="681.8" cy="1739.2" r="6.3"/><circle cx="681.8" cy="1742.6" r="6.3"/><circle cx="746.6" cy="1712.9" r="6.3"/><circle cx="746.6" cy="1778.4" r="6.3"/><circle cx="746.6" cy="1790.1" r="6.3"/><circle cx="811.4" cy="1697.8" r="6.3"/><circle cx="811.4" cy="1762.1" r="6.3"/><circle cx="811.4" cy="1765.5" r="6.3"/><circle cx="876.2" cy="1786.8" r="6.3"/><circle cx="876.2" cy="1796.3" r="6.3"/><circle cx="876.2" cy="1800.7" r="6.3"/></g>
<text x="694.5" y="1500.3" font-size="29.9" text-anchor="middle">E15.5 - born</text>
<path d="M541.1 1837.6H887.9" stroke="#000" stroke-width="3.2" fill="none"/>
<path d="M552 1837V1853.4" stroke="#000" stroke-width="2.8" fill="none"/>
<path d="M609.3 1837V1853.4" stroke="#000" stroke-width="2.8" fill="none"/>
<path d="M677.6 1837V1853.4" stroke="#000" stroke-width="2.8" fill="none"/>
<path d="M746.8 1837V1853.4" stroke="#000" stroke-width="2.8" fill="none"/>
<path d="M815.1 1837V1853.4" stroke="#000" stroke-width="2.8" fill="none"/>
<path d="M875.9 1837V1853.4" stroke="#000" stroke-width="2.8" fill="none"/>
<text x="540" y="1878.8" font-size="24.2" text-anchor="middle">+2d</text>
<text x="607" y="1878.8" font-size="24.2" text-anchor="middle">+3d</text>
<text x="674.2" y="1878.8" font-size="24.2" text-anchor="middle">+4d</text>
<text x="741.4" y="1878.8" font-size="24.2" text-anchor="middle">+5d</text>
<text x="807.8" y="1878.8" font-size="24.2" text-anchor="middle">+7d</text>
<text x="875.2" y="1878.8" font-size="24.2" text-anchor="middle">+9d</text>
</svg></body></html>
